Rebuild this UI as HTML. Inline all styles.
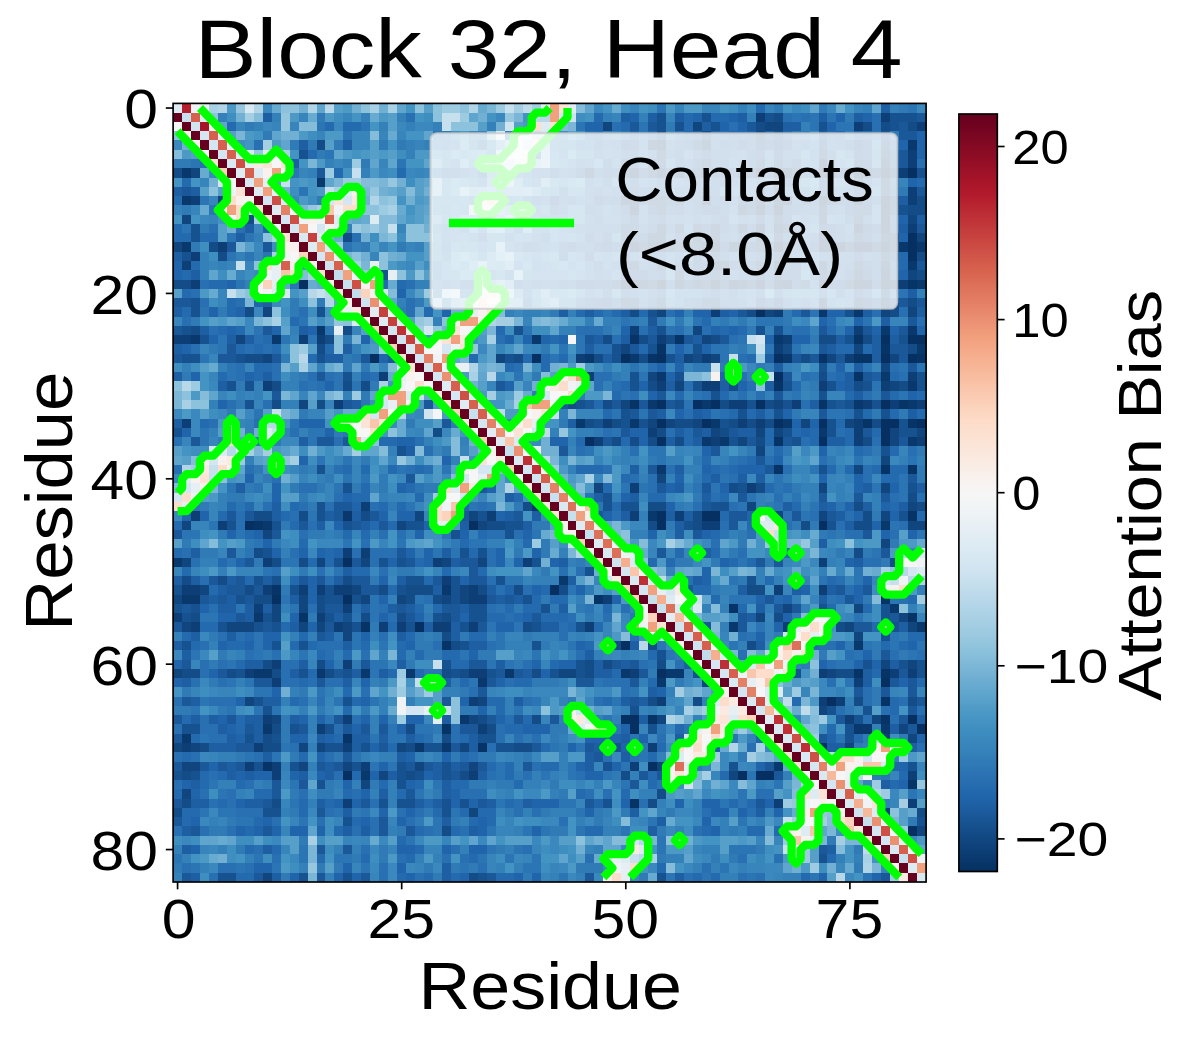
<!DOCTYPE html>
<html><head><meta charset="utf-8"><title>Block 32, Head 4</title>
<style>
html,body{margin:0;padding:0;background:#fff}
svg{display:block}
text{font-family:"Liberation Sans",sans-serif;fill:#000}
</style></head><body>
<svg width="1189" height="1038" viewBox="0 0 1189 1038">
<defs>
<linearGradient id="cb" x1="0" y1="0" x2="0" y2="1"><stop offset="0.0000" stop-color="#67001f"/><stop offset="0.0156" stop-color="#700320"/><stop offset="0.0312" stop-color="#7c0722"/><stop offset="0.0469" stop-color="#870a24"/><stop offset="0.0625" stop-color="#930e26"/><stop offset="0.0781" stop-color="#9f1228"/><stop offset="0.0938" stop-color="#ab162a"/><stop offset="0.1094" stop-color="#b41c2d"/><stop offset="0.1250" stop-color="#ba2832"/><stop offset="0.1406" stop-color="#bf3338"/><stop offset="0.1562" stop-color="#c53e3d"/><stop offset="0.1719" stop-color="#cb4942"/><stop offset="0.1875" stop-color="#d05548"/><stop offset="0.2031" stop-color="#d6604d"/><stop offset="0.2188" stop-color="#db6b55"/><stop offset="0.2344" stop-color="#df765e"/><stop offset="0.2500" stop-color="#e48066"/><stop offset="0.2656" stop-color="#e98b6e"/><stop offset="0.2812" stop-color="#ee9677"/><stop offset="0.2969" stop-color="#f2a17f"/><stop offset="0.3125" stop-color="#f5aa89"/><stop offset="0.3281" stop-color="#f6b394"/><stop offset="0.3438" stop-color="#f8bb9e"/><stop offset="0.3594" stop-color="#f9c4a9"/><stop offset="0.3750" stop-color="#fbccb4"/><stop offset="0.3906" stop-color="#fcd5bf"/><stop offset="0.4062" stop-color="#fddcc9"/><stop offset="0.4219" stop-color="#fce0d0"/><stop offset="0.4375" stop-color="#fbe5d8"/><stop offset="0.4531" stop-color="#fae9df"/><stop offset="0.4688" stop-color="#f9eee7"/><stop offset="0.4844" stop-color="#f8f2ef"/><stop offset="0.5000" stop-color="#f7f6f6"/><stop offset="0.5156" stop-color="#f2f5f6"/><stop offset="0.5312" stop-color="#ecf2f5"/><stop offset="0.5469" stop-color="#e6eff4"/><stop offset="0.5625" stop-color="#e0ecf3"/><stop offset="0.5781" stop-color="#dae9f2"/><stop offset="0.5938" stop-color="#d4e6f1"/><stop offset="0.6094" stop-color="#cce2ef"/><stop offset="0.6250" stop-color="#c2ddec"/><stop offset="0.6406" stop-color="#b8d8e9"/><stop offset="0.6562" stop-color="#aed3e6"/><stop offset="0.6719" stop-color="#a5cee3"/><stop offset="0.6875" stop-color="#9bc9e0"/><stop offset="0.7031" stop-color="#90c4dd"/><stop offset="0.7188" stop-color="#84bcd9"/><stop offset="0.7344" stop-color="#78b4d5"/><stop offset="0.7500" stop-color="#6bacd1"/><stop offset="0.7656" stop-color="#5fa5cd"/><stop offset="0.7812" stop-color="#529dc8"/><stop offset="0.7969" stop-color="#4695c4"/><stop offset="0.8125" stop-color="#3f8ec0"/><stop offset="0.8281" stop-color="#3a87bd"/><stop offset="0.8438" stop-color="#3480b9"/><stop offset="0.8594" stop-color="#2f79b5"/><stop offset="0.8750" stop-color="#2a71b2"/><stop offset="0.8906" stop-color="#246aae"/><stop offset="0.9062" stop-color="#1f63a8"/><stop offset="0.9219" stop-color="#1b5a9c"/><stop offset="0.9375" stop-color="#175290"/><stop offset="0.9531" stop-color="#124984"/><stop offset="0.9688" stop-color="#0e4179"/><stop offset="0.9844" stop-color="#09386d"/><stop offset="1.0000" stop-color="#053061"/></linearGradient>
<clipPath id="axclip"><rect x="173.1" y="103.4" width="753.0" height="778.6"/></clipPath>
</defs>
<rect width="1189" height="1038" fill="#ffffff"/>
<g transform="translate(173.10,103.40) scale(8.96429,9.26905)" shape-rendering="crispEdges">
<path fill="#053061" d="M65 7h1v1h-1zM67 7h1v1h-1zM72 7h1v1h-1zM76 7h1v1h-1zM79 7h1v1h-1zM82 7h1v1h-1zM59 10h1v1h-1zM72 10h1v1h-1zM79 10h1v1h-1zM67 11h1v1h-1zM79 11h1v1h-1zM79 12h1v1h-1zM79 13h1v1h-1zM82 14h1v1h-1zM60 15h1v1h-1zM67 15h1v1h-1zM72 15h1v1h-1zM79 15h1v1h-1zM82 15h1v1h-1zM82 16h1v1h-1zM67 17h1v1h-1zM14 19h1v1h-1zM50 19h2v1h-2zM54 19h1v1h-1zM60 19h1v1h-1zM72 19h1v1h-1zM76 19h1v1h-1zM79 19h1v1h-1zM65 22h1v1h-1zM79 25h1v1h-1zM82 25h2v1h-2zM22 27h1v1h-1zM40 27h1v1h-1zM50 27h1v1h-1zM54 27h1v1h-1zM67 27h1v1h-1zM79 27h1v1h-1zM82 27h1v1h-1zM67 29h1v1h-1zM54 32h1v1h-1zM58 32h1v1h-1zM60 32h1v1h-1zM65 32h1v1h-1zM79 32h1v1h-1zM54 34h1v1h-1zM59 34h1v1h-1zM67 34h1v1h-1zM72 34h1v1h-1zM79 34h2v1h-2zM83 34h1v1h-1zM79 35h1v1h-1zM46 36h1v1h-1zM54 36h1v1h-1zM72 36h1v1h-1zM79 36h1v1h-1zM54 44h1v1h-1zM59 44h2v1h-2zM8 45h1v1h-1zM33 45h1v1h-1zM54 45h1v1h-1zM72 45h1v1h-1zM19 49h1v1h-1zM42 52h1v1h-1zM11 53h1v1h-1zM19 53h1v1h-1zM27 56h1v1h-1zM50 58h1v1h-1zM54 61h1v1h-1zM79 62h1v1h-1zM73 64h1v1h-1zM50 66h2v1h-2zM82 66h1v1h-1zM51 67h1v1h-1zM83 67h1v1h-1zM53 71h1v1h-1zM19 72h1v1h-1zM63 72h1v1h-1zM65 72h2v1h-2zM82 78h1v1h-1z"/>
<path fill="#073467" d="M72 6h1v1h-1zM51 7h1v1h-1zM51 10h1v1h-1zM68 10h1v1h-1zM51 11h1v1h-1zM65 11h1v1h-1zM65 13h1v1h-1zM76 13h1v1h-1zM72 14h1v1h-1zM51 15h1v1h-1zM54 15h1v1h-1zM63 15h1v1h-1zM73 15h2v1h-2zM76 15h2v1h-2zM60 17h1v1h-1zM79 18h1v1h-1zM62 19h1v1h-1zM65 19h1v1h-1zM68 19h1v1h-1zM77 19h1v1h-1zM82 19h1v1h-1zM51 25h1v1h-1zM56 25h1v1h-1zM76 25h1v1h-1zM54 26h1v1h-1zM79 26h1v1h-1zM53 27h1v1h-1zM72 27h1v1h-1zM76 27h2v1h-2zM83 27h1v1h-1zM76 29h1v1h-1zM67 30h1v1h-1zM51 32h1v1h-1zM72 32h1v1h-1zM81 32h1v1h-1zM77 34h1v1h-1zM82 34h1v1h-1zM67 36h1v1h-1zM67 39h1v1h-1zM79 39h1v1h-1zM82 39h1v1h-1zM82 44h1v1h-1zM9 45h1v1h-1zM11 52h1v1h-1zM47 53h1v1h-1zM79 53h1v1h-1zM62 54h1v1h-1zM14 55h1v1h-1zM82 55h1v1h-1zM21 56h1v1h-1zM30 58h1v1h-1zM76 61h1v1h-1zM79 61h1v1h-1zM79 64h1v1h-1zM53 66h1v1h-1zM79 66h1v1h-1zM30 67h1v1h-1zM19 68h1v1h-1zM34 69h1v1h-1zM72 69h1v1h-1zM10 71h1v1h-1zM82 73h1v1h-1zM51 75h1v1h-1z"/>
<path fill="#09386d" d="M54 4h1v1h-1zM59 4h1v1h-1zM82 4h1v1h-1zM1 7h1v1h-1zM54 7h1v1h-1zM59 7h1v1h-1zM68 7h1v1h-1zM16 8h1v1h-1zM1 10h1v1h-1zM50 10h1v1h-1zM67 10h1v1h-1zM76 10h1v1h-1zM67 13h1v1h-1zM58 14h1v1h-1zM1 15h1v1h-1zM53 15h1v1h-1zM59 15h1v1h-1zM62 15h1v1h-1zM81 15h1v1h-1zM83 15h1v1h-1zM79 17h1v1h-1zM82 17h1v1h-1zM56 19h1v1h-1zM63 19h1v1h-1zM67 19h1v1h-1zM83 19h1v1h-1zM72 22h1v1h-1zM76 22h1v1h-1zM16 24h1v1h-1zM79 24h1v1h-1zM82 24h1v1h-1zM2 25h1v1h-1zM11 25h1v1h-1zM40 25h1v1h-1zM67 25h1v1h-1zM83 26h1v1h-1zM46 27h1v1h-1zM51 27h1v1h-1zM68 27h1v1h-1zM54 29h1v1h-1zM79 29h1v1h-1zM82 30h1v1h-1zM53 32h1v1h-1zM59 32h1v1h-1zM76 32h1v1h-1zM82 32h1v1h-1zM45 34h1v1h-1zM51 34h1v1h-1zM60 34h1v1h-1zM68 34h1v1h-1zM72 35h1v1h-1zM59 36h1v1h-1zM61 36h1v1h-1zM82 36h1v1h-1zM54 39h1v1h-1zM40 43h1v1h-1zM19 44h1v1h-1zM53 44h1v1h-1zM10 45h1v1h-1zM79 45h1v1h-1zM0 49h1v1h-1zM43 51h1v1h-1zM30 52h1v1h-1zM1 53h2v1h-2zM80 54h1v1h-1zM9 55h1v1h-1zM62 56h1v1h-1zM83 56h1v1h-1zM76 58h1v1h-1zM9 61h2v1h-2zM16 61h1v1h-1zM21 61h1v1h-1zM26 61h1v1h-1zM37 61h1v1h-1zM50 61h1v1h-1zM55 61h2v1h-2zM34 62h1v1h-1zM54 62h1v1h-1zM32 66h1v1h-1zM10 67h1v1h-1zM76 67h2v1h-2zM79 67h1v1h-1zM1 68h1v1h-1zM27 69h1v1h-1zM30 69h1v1h-1zM67 71h1v1h-1zM21 72h1v1h-1z"/>
<path fill="#0d3f76" d="M65 1h1v1h-1zM79 1h1v1h-1zM76 2h1v1h-1zM83 2h1v1h-1zM53 4h1v1h-1zM82 5h1v1h-1zM79 6h1v1h-1zM82 6h1v1h-1zM46 7h1v1h-1zM56 7h1v1h-1zM63 7h1v1h-1zM73 7h1v1h-1zM77 7h1v1h-1zM81 7h1v1h-1zM82 9h1v1h-1zM2 10h1v1h-1zM65 10h1v1h-1zM82 10h1v1h-1zM63 11h1v1h-1zM72 11h1v1h-1zM72 12h1v1h-1zM54 13h1v1h-1zM60 13h1v1h-1zM63 13h1v1h-1zM82 13h1v1h-1zM53 14h2v1h-2zM60 14h1v1h-1zM65 14h1v1h-1zM79 14h1v1h-1zM5 15h1v1h-1zM55 15h1v1h-1zM2 16h1v1h-1zM1 17h1v1h-1zM61 17h1v1h-1zM72 17h1v1h-1zM76 18h1v1h-1zM2 19h1v1h-1zM52 19h1v1h-1zM58 19h1v1h-1zM80 19h2v1h-2zM72 21h1v1h-1zM79 21h1v1h-1zM60 22h1v1h-1zM67 22h1v1h-1zM51 24h1v1h-1zM76 24h1v1h-1zM0 25h2v1h-2zM14 25h1v1h-1zM16 25h1v1h-1zM54 25h1v1h-1zM68 25h1v1h-1zM67 26h1v1h-1zM45 27h1v1h-1zM59 27h1v1h-1zM75 27h1v1h-1zM23 29h1v1h-1zM46 29h1v1h-1zM82 29h1v1h-1zM10 30h1v1h-1zM54 30h1v1h-1zM59 30h2v1h-2zM72 30h1v1h-1zM79 30h1v1h-1zM18 32h1v1h-1zM62 32h2v1h-2zM69 32h1v1h-1zM77 32h1v1h-1zM80 32h1v1h-1zM83 32h1v1h-1zM1 34h1v1h-1zM48 34h1v1h-1zM63 34h1v1h-1zM65 34h1v1h-1zM76 34h1v1h-1zM53 35h1v1h-1zM76 35h1v1h-1zM47 36h1v1h-1zM60 36h1v1h-1zM76 36h1v1h-1zM83 36h1v1h-1zM51 41h1v1h-1zM64 41h1v1h-1zM21 43h1v1h-1zM2 44h1v1h-1zM35 44h1v1h-1zM51 44h1v1h-1zM56 44h1v1h-1zM5 45h1v1h-1zM59 45h2v1h-2zM19 48h1v1h-1zM21 48h1v1h-1zM10 49h1v1h-1zM29 49h1v1h-1zM39 49h1v1h-1zM72 49h1v1h-1zM30 51h1v1h-1zM1 52h2v1h-2zM10 52h1v1h-1zM14 52h1v1h-1zM16 52h1v1h-1zM18 52h2v1h-2zM33 52h1v1h-1zM67 52h1v1h-1zM72 52h1v1h-1zM33 53h2v1h-2zM48 53h1v1h-1zM9 54h1v1h-1zM19 54h1v1h-1zM0 55h1v1h-1zM16 55h1v1h-1zM2 56h1v1h-1zM18 56h1v1h-1zM23 56h1v1h-1zM25 56h1v1h-1zM29 56h2v1h-2zM33 56h1v1h-1zM46 56h1v1h-1zM68 56h1v1h-1zM11 60h1v1h-1zM19 60h1v1h-1zM8 61h1v1h-1zM33 61h2v1h-2zM51 61h1v1h-1zM72 61h1v1h-1zM80 61h1v1h-1zM82 61h1v1h-1zM11 62h1v1h-1zM76 62h1v1h-1zM33 64h1v1h-1zM54 64h1v1h-1zM72 64h1v1h-1zM74 64h1v1h-1zM10 66h1v1h-1zM19 66h1v1h-1zM75 66h1v1h-1zM16 67h1v1h-1zM34 67h1v1h-1zM79 68h1v1h-1zM1 69h1v1h-1zM9 69h1v1h-1zM19 69h1v1h-1zM53 69h1v1h-1zM8 71h1v1h-1zM11 71h1v1h-1zM21 71h1v1h-1zM51 71h1v1h-1zM11 72h1v1h-1zM33 72h1v1h-1zM82 72h1v1h-1zM19 75h1v1h-1zM67 75h1v1h-1zM82 75h1v1h-1zM79 76h1v1h-1z"/>
<path fill="#10457e" d="M48 2h1v1h-1zM58 2h1v1h-1zM66 2h2v1h-2zM54 5h1v1h-1zM72 5h1v1h-1zM79 5h1v1h-1zM59 6h1v1h-1zM2 7h1v1h-1zM50 7h1v1h-1zM53 7h1v1h-1zM60 7h1v1h-1zM64 7h1v1h-1zM69 7h1v1h-1zM76 8h1v1h-1zM79 8h1v1h-1zM65 9h1v1h-1zM67 9h1v1h-1zM79 9h1v1h-1zM5 10h1v1h-1zM53 10h2v1h-2zM56 10h1v1h-1zM73 10h1v1h-1zM54 11h1v1h-1zM1 12h1v1h-1zM67 12h1v1h-1zM76 12h1v1h-1zM82 12h1v1h-1zM56 13h1v1h-1zM58 13h1v1h-1zM68 13h1v1h-1zM67 14h1v1h-1zM76 14h1v1h-1zM80 14h1v1h-1zM83 14h1v1h-1zM0 15h1v1h-1zM52 15h1v1h-1zM56 15h3v1h-3zM65 15h1v1h-1zM75 15h1v1h-1zM78 15h1v1h-1zM80 15h1v1h-1zM79 16h1v1h-1zM51 17h1v1h-1zM54 17h1v1h-1zM65 17h1v1h-1zM76 17h1v1h-1zM56 18h1v1h-1zM67 18h1v1h-1zM72 18h1v1h-1zM82 18h1v1h-1zM53 19h1v1h-1zM59 19h1v1h-1zM64 19h1v1h-1zM75 19h1v1h-1zM50 21h1v1h-1zM76 21h1v1h-1zM10 22h1v1h-1zM54 22h1v1h-1zM66 22h1v1h-1zM79 22h1v1h-1zM82 22h1v1h-1zM58 24h1v1h-1zM7 25h1v1h-1zM59 25h1v1h-1zM50 26h1v1h-1zM76 26h1v1h-1zM10 27h1v1h-1zM36 27h1v1h-1zM57 27h1v1h-1zM60 27h1v1h-1zM73 27h1v1h-1zM80 27h1v1h-1zM79 28h1v1h-1zM53 29h1v1h-1zM56 30h1v1h-1zM80 30h1v1h-1zM14 32h1v1h-1zM50 32h1v1h-1zM67 32h1v1h-1zM53 34h1v1h-1zM55 34h1v1h-1zM58 34h1v1h-1zM70 34h1v1h-1zM75 34h1v1h-1zM60 35h1v1h-1zM65 35h1v1h-1zM67 35h1v1h-1zM80 35h1v1h-1zM83 35h1v1h-1zM63 36h1v1h-1zM80 36h1v1h-1zM65 37h1v1h-1zM79 38h1v1h-1zM76 39h1v1h-1zM54 40h1v1h-1zM47 41h1v1h-1zM72 41h1v1h-1zM79 41h1v1h-1zM64 43h1v1h-1zM82 43h1v1h-1zM27 44h1v1h-1zM33 44h1v1h-1zM67 44h1v1h-1zM72 44h1v1h-1zM79 44h1v1h-1zM1 45h1v1h-1zM25 45h1v1h-1zM34 45h1v1h-1zM82 45h2v1h-2zM10 46h1v1h-1zM79 47h1v1h-1zM1 49h1v1h-1zM16 49h1v1h-1zM21 49h1v1h-1zM30 49h1v1h-1zM34 49h1v1h-1zM3 52h1v1h-1zM20 52h1v1h-1zM32 52h1v1h-1zM0 53h1v1h-1zM14 53h1v1h-1zM21 53h1v1h-1zM25 53h1v1h-1zM30 53h1v1h-1zM32 53h1v1h-1zM11 54h1v1h-1zM14 54h1v1h-1zM68 54h1v1h-1zM76 54h1v1h-1zM11 55h1v1h-1zM65 55h1v1h-1zM81 55h1v1h-1zM1 56h1v1h-1zM6 56h3v1h-3zM14 56h1v1h-1zM16 56h1v1h-1zM19 56h1v1h-1zM75 56h1v1h-1zM82 56h1v1h-1zM19 57h1v1h-1zM76 57h1v1h-1zM79 60h1v1h-1zM82 60h1v1h-1zM0 61h1v1h-1zM43 61h2v1h-2zM73 61h1v1h-1zM59 62h1v1h-1zM8 64h1v1h-1zM34 64h1v1h-1zM72 65h1v1h-1zM11 66h1v1h-1zM33 66h1v1h-1zM54 66h1v1h-1zM78 66h1v1h-1zM81 67h1v1h-1zM82 68h1v1h-1zM0 69h1v1h-1zM2 69h1v1h-1zM14 69h1v1h-1zM16 69h1v1h-1zM25 69h1v1h-1zM32 69h1v1h-1zM75 69h1v1h-1zM1 71h2v1h-2zM14 71h1v1h-1zM19 71h1v1h-1zM27 71h1v1h-1zM33 71h1v1h-1zM54 71h1v1h-1zM23 72h1v1h-1zM62 72h1v1h-1zM21 73h1v1h-1zM1 74h1v1h-1zM33 76h1v1h-1zM83 78h1v1h-1zM10 83h1v1h-1z"/>
<path fill="#134c87" d="M67 1h1v1h-1zM65 2h1v1h-1zM77 2h1v1h-1zM79 2h1v1h-1zM82 2h1v1h-1zM59 3h1v1h-1zM65 3h1v1h-1zM16 4h1v1h-1zM58 4h1v1h-1zM65 4h1v1h-1zM67 4h1v1h-1zM72 4h1v1h-1zM76 4h1v1h-1zM79 4h1v1h-1zM50 6h1v1h-1zM53 6h2v1h-2zM65 6h1v1h-1zM67 6h1v1h-1zM76 6h1v1h-1zM0 7h1v1h-1zM58 7h1v1h-1zM61 7h1v1h-1zM78 7h1v1h-1zM80 7h1v1h-1zM63 10h2v1h-2zM80 10h1v1h-1zM83 10h1v1h-1zM64 11h1v1h-1zM76 11h2v1h-2zM80 11h1v1h-1zM82 11h2v1h-2zM8 12h1v1h-1zM51 12h1v1h-1zM50 13h2v1h-2zM72 13h1v1h-1zM77 13h1v1h-1zM19 14h1v1h-1zM50 14h2v1h-2zM4 15h1v1h-1zM64 15h1v1h-1zM68 15h1v1h-1zM5 16h1v1h-1zM58 16h1v1h-1zM60 16h1v1h-1zM83 16h1v1h-1zM50 17h1v1h-1zM60 18h1v1h-1zM65 18h1v1h-1zM77 18h1v1h-1zM83 18h1v1h-1zM0 19h2v1h-2zM49 19h1v1h-1zM57 19h1v1h-1zM61 19h1v1h-1zM70 19h1v1h-1zM79 20h1v1h-1zM51 21h1v1h-1zM54 21h1v1h-1zM59 21h2v1h-2zM67 21h1v1h-1zM77 21h1v1h-1zM82 21h1v1h-1zM8 22h1v1h-1zM51 22h1v1h-1zM64 22h1v1h-1zM80 22h1v1h-1zM2 24h1v1h-1zM19 24h1v1h-1zM17 25h1v1h-1zM48 25h1v1h-1zM52 25h1v1h-1zM55 25h1v1h-1zM60 25h1v1h-1zM72 25h2v1h-2zM77 25h1v1h-1zM16 26h1v1h-1zM68 26h1v1h-1zM82 26h1v1h-1zM8 27h2v1h-2zM38 27h1v1h-1zM47 27h1v1h-1zM52 27h1v1h-1zM58 27h1v1h-1zM70 27h1v1h-1zM72 29h1v1h-1zM11 30h1v1h-1zM19 30h1v1h-1zM21 30h1v1h-1zM53 30h1v1h-1zM62 30h1v1h-1zM76 30h1v1h-1zM81 30h1v1h-1zM11 32h1v1h-1zM16 32h1v1h-1zM44 32h1v1h-1zM48 32h1v1h-1zM61 32h1v1h-1zM66 32h1v1h-1zM46 34h1v1h-1zM49 34h1v1h-1zM56 34h2v1h-2zM62 34h1v1h-1zM64 34h1v1h-1zM66 34h1v1h-1zM78 34h1v1h-1zM29 35h1v1h-1zM54 35h1v1h-1zM61 35h1v1h-1zM49 36h1v1h-1zM51 36h1v1h-1zM53 36h1v1h-1zM56 36h1v1h-1zM65 36h1v1h-1zM77 36h1v1h-1zM62 41h1v1h-1zM65 41h1v1h-1zM82 42h1v1h-1zM39 43h1v1h-1zM53 43h2v1h-2zM76 43h1v1h-1zM83 43h1v1h-1zM9 44h2v1h-2zM14 44h1v1h-1zM21 44h1v1h-1zM58 44h1v1h-1zM77 44h1v1h-1zM35 45h2v1h-2zM53 45h1v1h-1zM58 45h1v1h-1zM70 45h1v1h-1zM76 45h2v1h-2zM9 48h1v1h-1zM76 48h1v1h-1zM11 49h1v1h-1zM14 49h1v1h-1zM80 49h1v1h-1zM1 51h1v1h-1zM5 51h1v1h-1zM19 51h1v1h-1zM8 52h1v1h-1zM23 52h1v1h-1zM26 52h3v1h-3zM34 52h1v1h-1zM38 52h1v1h-1zM43 52h1v1h-1zM64 52h2v1h-2zM9 53h2v1h-2zM16 53h1v1h-1zM26 53h1v1h-1zM29 53h1v1h-1zM16 54h1v1h-1zM2 55h1v1h-1zM21 55h1v1h-1zM25 55h1v1h-1zM30 55h1v1h-1zM67 55h1v1h-1zM39 56h1v1h-1zM74 56h1v1h-1zM30 57h1v1h-1zM31 58h1v1h-1zM49 58h1v1h-1zM53 58h1v1h-1zM64 58h1v1h-1zM10 60h1v1h-1zM16 60h1v1h-1zM46 60h1v1h-1zM48 60h1v1h-1zM54 60h1v1h-1zM1 61h2v1h-2zM6 61h1v1h-1zM11 61h1v1h-1zM17 61h1v1h-1zM30 61h1v1h-1zM32 61h1v1h-1zM40 61h1v1h-1zM46 61h1v1h-1zM74 61h2v1h-2zM53 64h1v1h-1zM58 64h1v1h-1zM76 64h1v1h-1zM82 64h1v1h-1zM34 66h1v1h-1zM40 66h1v1h-1zM11 67h1v1h-1zM26 67h1v1h-1zM35 67h1v1h-1zM10 68h1v1h-1zM30 68h1v1h-1zM3 69h1v1h-1zM10 69h2v1h-2zM26 69h1v1h-1zM38 69h2v1h-2zM1 72h1v1h-1zM26 72h1v1h-1zM32 72h1v1h-1zM50 72h1v1h-1zM54 74h1v1h-1zM1 75h1v1h-1zM11 75h1v1h-1zM53 75h1v1h-1zM0 76h1v1h-1zM83 76h1v1h-1zM30 78h1v1h-1zM33 83h1v1h-1z"/>
<path fill="#175290" d="M54 1h1v1h-1zM59 1h1v1h-1zM66 1h1v1h-1zM80 1h3v1h-3zM54 2h1v1h-1zM56 2h1v1h-1zM60 2h1v1h-1zM72 2h1v1h-1zM80 2h1v1h-1zM54 3h1v1h-1zM67 3h1v1h-1zM50 4h1v1h-1zM14 5h1v1h-1zM67 5h1v1h-1zM76 5h1v1h-1zM77 6h1v1h-1zM62 7h1v1h-1zM74 7h2v1h-2zM83 7h1v1h-1zM67 8h1v1h-1zM42 10h1v1h-1zM47 10h1v1h-1zM52 10h1v1h-1zM55 10h1v1h-1zM70 10h1v1h-1zM74 10h2v1h-2zM77 10h1v1h-1zM53 11h1v1h-1zM59 11h2v1h-2zM75 11h1v1h-1zM81 11h1v1h-1zM65 12h1v1h-1zM2 13h1v1h-1zM59 13h1v1h-1zM73 13h1v1h-1zM2 14h1v1h-1zM52 14h1v1h-1zM77 14h1v1h-1zM48 15h1v1h-1zM50 15h1v1h-1zM61 15h1v1h-1zM66 15h1v1h-1zM1 16h1v1h-1zM63 16h1v1h-1zM67 16h2v1h-2zM58 17h2v1h-2zM77 17h1v1h-1zM23 18h1v1h-1zM51 18h2v1h-2zM59 18h1v1h-1zM45 19h2v1h-2zM73 19h2v1h-2zM2 21h1v1h-1zM48 21h1v1h-1zM65 21h1v1h-1zM80 21h1v1h-1zM2 22h1v1h-1zM16 22h1v1h-1zM53 22h1v1h-1zM75 22h1v1h-1zM1 24h1v1h-1zM38 24h1v1h-1zM54 24h1v1h-1zM65 24h1v1h-1zM67 24h1v1h-1zM3 25h1v1h-1zM75 25h1v1h-1zM81 25h1v1h-1zM49 26h1v1h-1zM53 26h1v1h-1zM58 26h1v1h-1zM1 27h2v1h-2zM7 27h1v1h-1zM16 27h1v1h-1zM37 27h1v1h-1zM49 27h1v1h-1zM55 27h1v1h-1zM72 28h1v1h-1zM19 29h1v1h-1zM51 29h1v1h-1zM56 29h1v1h-1zM83 29h1v1h-1zM6 30h1v1h-1zM8 30h1v1h-1zM51 30h1v1h-1zM58 30h1v1h-1zM68 30h1v1h-1zM73 30h1v1h-1zM77 30h1v1h-1zM83 30h1v1h-1zM60 31h1v1h-1zM72 31h1v1h-1zM8 32h1v1h-1zM45 32h1v1h-1zM56 32h1v1h-1zM64 32h1v1h-1zM68 32h1v1h-1zM73 32h1v1h-1zM75 32h1v1h-1zM78 32h1v1h-1zM50 33h1v1h-1zM63 33h1v1h-1zM67 33h1v1h-1zM76 33h1v1h-1zM79 33h1v1h-1zM47 34h1v1h-1zM50 34h1v1h-1zM52 34h1v1h-1zM61 34h1v1h-1zM73 34h1v1h-1zM81 34h1v1h-1zM0 35h1v1h-1zM68 35h1v1h-1zM73 35h1v1h-1zM81 35h2v1h-2zM62 36h1v1h-1zM69 36h1v1h-1zM25 37h1v1h-1zM79 37h1v1h-1zM16 39h1v1h-1zM72 39h1v1h-1zM19 41h1v1h-1zM63 41h1v1h-1zM82 41h1v1h-1zM48 42h1v1h-1zM16 43h1v1h-1zM48 43h1v1h-1zM50 43h2v1h-2zM60 43h2v1h-2zM16 44h1v1h-1zM34 44h1v1h-1zM81 44h1v1h-1zM6 45h1v1h-1zM11 45h1v1h-1zM19 45h1v1h-1zM26 45h2v1h-2zM37 45h2v1h-2zM57 45h1v1h-1zM73 45h1v1h-1zM31 46h1v1h-1zM37 46h1v1h-1zM10 48h1v1h-1zM32 48h1v1h-1zM34 48h1v1h-1zM18 49h1v1h-1zM23 49h1v1h-1zM25 49h1v1h-1zM40 49h1v1h-1zM46 50h1v1h-1zM9 51h1v1h-1zM11 51h1v1h-1zM26 51h2v1h-2zM31 51h1v1h-1zM36 51h1v1h-1zM64 51h1v1h-1zM0 52h1v1h-1zM13 52h1v1h-1zM17 52h1v1h-1zM25 52h1v1h-1zM31 52h1v1h-1zM7 53h1v1h-1zM17 53h2v1h-2zM20 53h1v1h-1zM31 53h1v1h-1zM39 53h1v1h-1zM0 54h1v1h-1zM2 54h1v1h-1zM33 54h2v1h-2zM41 54h1v1h-1zM72 54h1v1h-1zM79 54h1v1h-1zM1 55h1v1h-1zM10 55h1v1h-1zM17 55h1v1h-1zM19 55h1v1h-1zM29 55h1v1h-1zM33 55h2v1h-2zM79 55h1v1h-1zM5 56h1v1h-1zM9 56h1v1h-1zM11 56h1v1h-1zM20 56h1v1h-1zM26 56h1v1h-1zM32 56h1v1h-1zM40 56h1v1h-1zM45 56h1v1h-1zM80 56h1v1h-1zM79 57h1v1h-1zM1 58h1v1h-1zM11 58h1v1h-1zM14 58h1v1h-1zM32 58h1v1h-1zM40 58h1v1h-1zM54 59h1v1h-1zM30 60h1v1h-1zM45 60h1v1h-1zM77 60h1v1h-1zM81 60h1v1h-1zM83 60h1v1h-1zM7 61h1v1h-1zM14 61h1v1h-1zM19 61h1v1h-1zM31 61h1v1h-1zM35 61h1v1h-1zM42 61h1v1h-1zM45 61h1v1h-1zM58 61h1v1h-1zM69 61h1v1h-1zM83 61h1v1h-1zM9 64h1v1h-1zM19 64h1v1h-1zM10 65h1v1h-1zM51 65h1v1h-1zM73 65h1v1h-1zM77 65h1v1h-1zM76 66h1v1h-1zM1 67h2v1h-2zM13 67h1v1h-1zM17 67h1v1h-1zM53 67h1v1h-1zM75 67h1v1h-1zM8 68h1v1h-1zM11 68h1v1h-1zM34 68h2v1h-2zM75 68h1v1h-1zM17 69h2v1h-2zM21 69h1v1h-1zM28 69h2v1h-2zM36 69h2v1h-2zM49 69h1v1h-1zM9 71h1v1h-1zM13 71h1v1h-1zM20 71h1v1h-1zM25 71h1v1h-1zM30 71h1v1h-1zM48 71h1v1h-1zM62 71h1v1h-1zM82 71h1v1h-1zM0 72h1v1h-1zM2 72h1v1h-1zM25 72h1v1h-1zM27 72h1v1h-1zM30 72h1v1h-1zM16 73h1v1h-1zM25 73h1v1h-1zM23 75h1v1h-1zM25 75h2v1h-2zM30 75h1v1h-1zM32 75h1v1h-1zM48 75h1v1h-1zM10 76h2v1h-2zM30 76h1v1h-1zM19 77h1v1h-1zM83 77h1v1h-1zM72 81h1v1h-1zM5 83h2v1h-2zM14 83h1v1h-1zM19 83h1v1h-1zM34 83h1v1h-1zM54 83h1v1h-1z"/>
<path fill="#1a5899" d="M83 1h1v1h-1zM51 2h1v1h-1zM53 2h1v1h-1zM64 2h1v1h-1zM81 2h1v1h-1zM79 3h1v1h-1zM81 3h2v1h-2zM51 4h1v1h-1zM63 4h1v1h-1zM66 4h1v1h-1zM68 4h1v1h-1zM77 4h1v1h-1zM59 5h1v1h-1zM65 5h1v1h-1zM77 5h1v1h-1zM81 5h1v1h-1zM51 6h1v1h-1zM58 6h1v1h-1zM69 6h1v1h-1zM81 6h1v1h-1zM16 7h1v1h-1zM45 7h1v1h-1zM48 7h1v1h-1zM52 7h1v1h-1zM55 7h1v1h-1zM66 7h1v1h-1zM68 8h1v1h-1zM72 8h1v1h-1zM1 9h1v1h-1zM51 9h1v1h-1zM72 9h1v1h-1zM76 9h2v1h-2zM83 9h1v1h-1zM61 10h1v1h-1zM50 11h1v1h-1zM56 11h1v1h-1zM66 11h1v1h-1zM68 11h1v1h-1zM54 12h1v1h-1zM61 12h1v1h-1zM68 12h1v1h-1zM53 13h1v1h-1zM61 13h1v1h-1zM64 13h1v1h-1zM69 13h1v1h-1zM78 13h1v1h-1zM83 13h1v1h-1zM46 14h1v1h-1zM48 14h1v1h-1zM56 14h1v1h-1zM59 14h1v1h-1zM63 14h1v1h-1zM69 14h1v1h-1zM73 14h1v1h-1zM6 15h1v1h-1zM10 15h1v1h-1zM44 15h1v1h-1zM47 15h1v1h-1zM69 15h1v1h-1zM71 15h1v1h-1zM46 16h1v1h-1zM50 16h1v1h-1zM76 16h1v1h-1zM80 16h1v1h-1zM62 17h1v1h-1zM68 17h2v1h-2zM83 17h1v1h-1zM50 18h1v1h-1zM54 18h1v1h-1zM58 18h1v1h-1zM68 18h2v1h-2zM73 18h1v1h-1zM75 18h1v1h-1zM47 19h2v1h-2zM66 19h1v1h-1zM69 19h1v1h-1zM78 19h1v1h-1zM76 20h1v1h-1zM0 21h2v1h-2zM47 21h1v1h-1zM81 21h1v1h-1zM83 21h1v1h-1zM63 22h1v1h-1zM70 22h1v1h-1zM53 23h1v1h-1zM82 23h1v1h-1zM0 24h1v1h-1zM10 24h1v1h-1zM72 24h1v1h-1zM77 24h1v1h-1zM81 24h1v1h-1zM46 25h1v1h-1zM53 25h1v1h-1zM57 25h1v1h-1zM61 25h1v1h-1zM6 26h1v1h-1zM51 26h1v1h-1zM72 26h1v1h-1zM80 26h2v1h-2zM0 27h1v1h-1zM5 27h2v1h-2zM11 27h1v1h-1zM21 27h1v1h-1zM24 27h1v1h-1zM69 27h1v1h-1zM71 27h1v1h-1zM74 27h1v1h-1zM81 27h1v1h-1zM82 28h1v1h-1zM16 29h1v1h-1zM68 29h1v1h-1zM77 29h1v1h-1zM36 30h1v1h-1zM11 31h1v1h-1zM54 31h1v1h-1zM67 31h1v1h-1zM79 31h1v1h-1zM19 32h1v1h-1zM28 32h1v1h-1zM43 32h1v1h-1zM46 32h1v1h-1zM49 32h1v1h-1zM52 32h1v1h-1zM55 32h1v1h-1zM74 32h1v1h-1zM51 33h1v1h-1zM53 33h1v1h-1zM72 33h1v1h-1zM30 34h1v1h-1zM50 35h1v1h-1zM58 35h1v1h-1zM62 35h1v1h-1zM77 35h1v1h-1zM2 36h1v1h-1zM16 36h2v1h-2zM19 36h1v1h-1zM48 36h1v1h-1zM64 36h1v1h-1zM68 36h1v1h-1zM81 36h1v1h-1zM43 37h1v1h-1zM60 37h1v1h-1zM65 38h1v1h-1zM53 39h1v1h-1zM66 39h1v1h-1zM26 40h1v1h-1zM82 40h1v1h-1zM34 41h1v1h-1zM54 41h1v1h-1zM59 41h1v1h-1zM63 42h1v1h-1zM72 42h1v1h-1zM76 42h1v1h-1zM79 42h1v1h-1zM18 43h2v1h-2zM59 43h1v1h-1zM6 44h1v1h-1zM8 44h1v1h-1zM18 44h1v1h-1zM22 44h1v1h-1zM32 44h1v1h-1zM38 44h1v1h-1zM47 44h1v1h-1zM62 44h2v1h-2zM69 44h1v1h-1zM73 44h1v1h-1zM14 45h1v1h-1zM20 45h1v1h-1zM23 45h1v1h-1zM62 45h1v1h-1zM0 46h1v1h-1zM11 46h1v1h-1zM58 46h1v1h-1zM77 46h1v1h-1zM6 48h1v1h-1zM25 48h1v1h-1zM54 48h1v1h-1zM79 48h1v1h-1zM8 49h1v1h-1zM20 49h1v1h-1zM26 49h1v1h-1zM32 49h2v1h-2zM65 49h1v1h-1zM67 49h1v1h-1zM33 50h1v1h-1zM4 51h1v1h-1zM7 51h1v1h-1zM14 51h1v1h-1zM16 51h1v1h-1zM20 51h2v1h-2zM29 51h1v1h-1zM33 51h2v1h-2zM6 52h2v1h-2zM9 52h1v1h-1zM21 52h2v1h-2zM57 52h1v1h-1zM74 52h1v1h-1zM77 52h1v1h-1zM3 53h1v1h-1zM5 53h1v1h-1zM8 53h1v1h-1zM35 53h1v1h-1zM37 53h1v1h-1zM66 53h1v1h-1zM75 53h1v1h-1zM1 54h1v1h-1zM17 54h2v1h-2zM25 54h1v1h-1zM30 54h2v1h-2zM67 54h1v1h-1zM69 54h1v1h-1zM7 55h1v1h-1zM26 55h1v1h-1zM31 55h1v1h-1zM40 55h1v1h-1zM63 55h1v1h-1zM80 55h1v1h-1zM0 56h1v1h-1zM10 56h1v1h-1zM17 56h1v1h-1zM34 56h1v1h-1zM59 56h1v1h-1zM63 56h1v1h-1zM76 56h2v1h-2zM16 57h1v1h-1zM79 59h1v1h-1zM1 60h1v1h-1zM21 60h1v1h-1zM33 60h2v1h-2zM49 60h1v1h-1zM51 60h1v1h-1zM5 61h1v1h-1zM18 61h1v1h-1zM36 61h1v1h-1zM38 61h1v1h-1zM52 61h1v1h-1zM81 61h1v1h-1zM9 62h2v1h-2zM16 62h1v1h-1zM35 62h1v1h-1zM45 62h2v1h-2zM51 62h1v1h-1zM80 62h1v1h-1zM82 62h1v1h-1zM34 63h1v1h-1zM76 63h1v1h-1zM79 63h1v1h-1zM82 63h1v1h-1zM1 64h1v1h-1zM30 64h1v1h-1zM51 64h1v1h-1zM83 64h1v1h-1zM82 65h1v1h-1zM0 66h1v1h-1zM6 66h1v1h-1zM18 66h1v1h-1zM35 66h1v1h-1zM38 66h1v1h-1zM42 66h1v1h-1zM74 66h1v1h-1zM81 66h1v1h-1zM8 67h1v1h-1zM14 67h1v1h-1zM19 67h1v1h-1zM21 67h1v1h-1zM23 67h1v1h-1zM32 67h2v1h-2zM82 67h1v1h-1zM0 68h1v1h-1zM72 68h1v1h-1zM7 69h2v1h-2zM23 69h1v1h-1zM31 69h1v1h-1zM40 69h1v1h-1zM46 69h1v1h-1zM19 70h1v1h-1zM47 70h1v1h-1zM0 71h1v1h-1zM3 71h1v1h-1zM5 71h1v1h-1zM7 71h1v1h-1zM16 71h1v1h-1zM18 71h1v1h-1zM26 71h1v1h-1zM28 71h1v1h-1zM32 71h1v1h-1zM34 71h1v1h-1zM39 71h1v1h-1zM66 71h1v1h-1zM31 72h1v1h-1zM52 72h1v1h-1zM54 72h1v1h-1zM67 72h1v1h-1zM11 73h1v1h-1zM14 73h1v1h-1zM51 73h1v1h-1zM11 74h1v1h-1zM26 74h1v1h-1zM0 75h1v1h-1zM10 75h1v1h-1zM21 75h1v1h-1zM34 75h1v1h-1zM46 75h1v1h-1zM65 75h1v1h-1zM16 76h1v1h-1zM0 77h1v1h-1zM23 77h1v1h-1zM2 78h1v1h-1zM10 78h1v1h-1zM23 78h1v1h-1zM26 78h1v1h-1zM16 80h1v1h-1zM19 80h1v1h-1zM72 80h1v1h-1zM1 83h1v1h-1zM9 83h1v1h-1zM16 83h1v1h-1zM21 83h1v1h-1zM35 83h1v1h-1zM46 83h1v1h-1zM79 83h1v1h-1z"/>
<path fill="#1d5fa2" d="M79 0h1v1h-1zM10 1h1v1h-1zM50 1h1v1h-1zM53 1h1v1h-1zM56 1h1v1h-1zM63 1h1v1h-1zM72 1h1v1h-1zM76 1h1v1h-1zM59 2h1v1h-1zM68 2h2v1h-2zM72 3h1v1h-1zM14 4h1v1h-1zM19 4h1v1h-1zM57 4h1v1h-1zM61 4h1v1h-1zM75 4h1v1h-1zM56 5h1v1h-1zM64 5h1v1h-1zM80 5h1v1h-1zM13 6h1v1h-1zM48 6h1v1h-1zM56 6h1v1h-1zM61 6h1v1h-1zM64 6h1v1h-1zM80 6h1v1h-1zM42 7h1v1h-1zM49 7h1v1h-1zM57 7h1v1h-1zM70 7h2v1h-2zM51 8h1v1h-1zM58 8h1v1h-1zM0 9h1v1h-1zM2 9h1v1h-1zM53 9h2v1h-2zM58 9h2v1h-2zM48 10h2v1h-2zM58 10h1v1h-1zM60 10h1v1h-1zM71 10h1v1h-1zM81 10h1v1h-1zM46 11h1v1h-1zM55 11h1v1h-1zM58 11h1v1h-1zM61 11h1v1h-1zM69 11h1v1h-1zM47 12h1v1h-1zM50 12h1v1h-1zM53 12h1v1h-1zM60 12h1v1h-1zM75 12h1v1h-1zM83 12h1v1h-1zM8 13h1v1h-1zM74 13h1v1h-1zM80 13h2v1h-2zM7 14h1v1h-1zM74 14h1v1h-1zM39 15h1v1h-1zM43 15h1v1h-1zM49 15h1v1h-1zM0 16h1v1h-1zM43 16h1v1h-1zM53 16h1v1h-1zM61 16h1v1h-1zM65 16h1v1h-1zM47 17h1v1h-1zM56 17h1v1h-1zM63 17h2v1h-2zM66 17h1v1h-1zM78 17h1v1h-1zM2 18h1v1h-1zM53 18h1v1h-1zM78 18h1v1h-1zM80 18h1v1h-1zM43 19h1v1h-1zM55 19h1v1h-1zM54 20h1v1h-1zM60 20h1v1h-1zM82 20h1v1h-1zM10 21h1v1h-1zM46 21h1v1h-1zM53 21h1v1h-1zM58 21h1v1h-1zM78 21h1v1h-1zM0 22h1v1h-1zM43 22h1v1h-1zM46 22h1v1h-1zM50 22h1v1h-1zM61 22h1v1h-1zM77 22h1v1h-1zM83 22h1v1h-1zM79 23h1v1h-1zM3 24h1v1h-1zM14 24h1v1h-1zM53 24h1v1h-1zM6 25h1v1h-1zM8 25h1v1h-1zM47 25h1v1h-1zM50 25h1v1h-1zM58 25h1v1h-1zM74 25h1v1h-1zM78 25h1v1h-1zM80 25h1v1h-1zM0 26h1v1h-1zM19 26h1v1h-1zM46 26h1v1h-1zM73 26h1v1h-1zM78 26h1v1h-1zM17 27h2v1h-2zM48 27h1v1h-1zM56 27h1v1h-1zM66 27h1v1h-1zM78 27h1v1h-1zM67 28h1v1h-1zM76 28h1v1h-1zM0 29h1v1h-1zM10 29h1v1h-1zM75 29h1v1h-1zM78 29h1v1h-1zM5 30h1v1h-1zM55 30h1v1h-1zM61 30h1v1h-1zM66 30h1v1h-1zM75 30h1v1h-1zM76 31h1v1h-1zM20 32h1v1h-1zM71 32h1v1h-1zM54 33h1v1h-1zM58 33h1v1h-1zM65 33h1v1h-1zM82 33h1v1h-1zM0 34h1v1h-1zM44 34h1v1h-1zM56 35h1v1h-1zM59 35h1v1h-1zM63 35h2v1h-2zM14 36h1v1h-1zM55 36h1v1h-1zM58 36h1v1h-1zM73 36h2v1h-2zM26 37h1v1h-1zM51 39h1v1h-1zM56 39h1v1h-1zM60 40h1v1h-1zM63 40h1v1h-1zM65 40h1v1h-1zM7 41h1v1h-1zM56 41h1v1h-1zM77 41h1v1h-1zM83 41h1v1h-1zM37 42h1v1h-1zM47 42h1v1h-1zM51 42h1v1h-1zM59 42h1v1h-1zM11 43h1v1h-1zM68 43h1v1h-1zM72 43h1v1h-1zM77 43h1v1h-1zM81 43h1v1h-1zM11 44h1v1h-1zM17 44h1v1h-1zM20 44h1v1h-1zM37 44h1v1h-1zM40 44h1v1h-1zM50 44h1v1h-1zM55 44h1v1h-1zM57 44h1v1h-1zM74 44h1v1h-1zM16 45h1v1h-1zM21 45h1v1h-1zM32 45h1v1h-1zM39 45h1v1h-1zM56 45h1v1h-1zM75 45h1v1h-1zM56 46h1v1h-1zM72 47h1v1h-1zM2 48h1v1h-1zM30 48h1v1h-1zM59 48h1v1h-1zM31 49h1v1h-1zM43 49h1v1h-1zM76 49h1v1h-1zM19 50h1v1h-1zM0 51h1v1h-1zM2 51h1v1h-1zM6 51h1v1h-1zM10 51h1v1h-1zM18 51h1v1h-1zM25 51h1v1h-1zM44 51h1v1h-1zM58 51h1v1h-1zM5 52h1v1h-1zM29 52h1v1h-1zM35 52h1v1h-1zM63 52h1v1h-1zM69 52h1v1h-1zM73 52h1v1h-1zM4 53h1v1h-1zM6 53h1v1h-1zM13 53h1v1h-1zM36 53h1v1h-1zM38 53h1v1h-1zM72 53h1v1h-1zM5 54h2v1h-2zM8 54h1v1h-1zM10 54h1v1h-1zM21 54h1v1h-1zM24 54h1v1h-1zM26 54h1v1h-1zM32 54h1v1h-1zM43 54h1v1h-1zM65 54h1v1h-1zM8 55h1v1h-1zM18 55h1v1h-1zM64 55h1v1h-1zM13 56h1v1h-1zM28 56h1v1h-1zM31 56h1v1h-1zM41 56h2v1h-2zM81 56h1v1h-1zM2 57h1v1h-1zM6 57h1v1h-1zM17 57h1v1h-1zM25 57h1v1h-1zM31 57h1v1h-1zM0 58h1v1h-1zM19 58h1v1h-1zM33 58h2v1h-2zM51 58h1v1h-1zM65 58h1v1h-1zM1 59h1v1h-1zM46 59h1v1h-1zM8 60h2v1h-2zM14 60h1v1h-1zM25 60h1v1h-1zM36 60h1v1h-1zM47 60h1v1h-1zM50 60h1v1h-1zM57 60h1v1h-1zM80 60h1v1h-1zM13 61h1v1h-1zM20 61h1v1h-1zM23 61h1v1h-1zM39 61h1v1h-1zM47 61h2v1h-2zM77 61h1v1h-1zM1 62h1v1h-1zM19 62h1v1h-1zM30 62h1v1h-1zM77 62h1v1h-1zM53 63h1v1h-1zM2 64h1v1h-1zM10 64h2v1h-2zM38 64h1v1h-1zM50 64h1v1h-1zM52 64h1v1h-1zM2 66h1v1h-1zM4 66h1v1h-1zM8 66h2v1h-2zM13 66h1v1h-1zM30 66h1v1h-1zM52 66h1v1h-1zM83 66h1v1h-1zM5 67h1v1h-1zM9 67h1v1h-1zM80 67h1v1h-1zM6 68h1v1h-1zM9 68h1v1h-1zM16 68h1v1h-1zM20 68h2v1h-2zM23 68h1v1h-1zM26 68h1v1h-1zM33 68h1v1h-1zM50 68h1v1h-1zM56 68h1v1h-1zM4 69h3v1h-3zM20 69h1v1h-1zM33 69h1v1h-1zM47 69h1v1h-1zM60 69h1v1h-1zM73 69h2v1h-2zM82 69h1v1h-1zM10 70h1v1h-1zM25 70h1v1h-1zM46 70h1v1h-1zM50 70h1v1h-1zM6 71h1v1h-1zM17 71h1v1h-1zM29 71h1v1h-1zM31 71h1v1h-1zM46 71h1v1h-1zM6 72h1v1h-1zM8 72h1v1h-1zM14 72h1v1h-1zM17 72h1v1h-1zM24 72h1v1h-1zM29 72h1v1h-1zM34 72h1v1h-1zM2 73h1v1h-1zM30 73h1v1h-1zM79 73h1v1h-1zM23 74h1v1h-1zM30 74h1v1h-1zM2 75h2v1h-2zM8 75h2v1h-2zM16 75h1v1h-1zM27 75h1v1h-1zM29 75h1v1h-1zM35 75h1v1h-1zM39 75h1v1h-1zM19 76h1v1h-1zM51 76h1v1h-1zM65 76h1v1h-1zM30 77h1v1h-1zM54 77h1v1h-1zM1 78h1v1h-1zM19 78h1v1h-1zM21 78h1v1h-1zM33 78h1v1h-1zM53 78h1v1h-1zM1 80h1v1h-1zM10 80h1v1h-1zM73 80h1v1h-1zM30 82h1v1h-1zM2 83h1v1h-1zM11 83h1v1h-1zM30 83h1v1h-1zM56 83h1v1h-1z"/>
<path fill="#2065ab" d="M51 1h1v1h-1zM58 1h1v1h-1zM62 1h1v1h-1zM74 1h1v1h-1zM77 1h1v1h-1zM46 2h2v1h-2zM61 2h1v1h-1zM63 2h1v1h-1zM73 2h1v1h-1zM58 3h1v1h-1zM64 3h1v1h-1zM66 3h1v1h-1zM83 3h1v1h-1zM47 4h1v1h-1zM56 4h1v1h-1zM62 4h1v1h-1zM64 4h1v1h-1zM81 4h1v1h-1zM83 4h1v1h-1zM50 5h2v1h-2zM58 5h1v1h-1zM60 5h2v1h-2zM73 5h1v1h-1zM83 5h1v1h-1zM60 6h1v1h-1zM68 6h1v1h-1zM30 7h2v1h-2zM34 7h1v1h-1zM47 7h1v1h-1zM48 8h1v1h-1zM54 8h1v1h-1zM60 8h1v1h-1zM77 8h1v1h-1zM82 8h1v1h-1zM47 9h1v1h-1zM52 9h1v1h-1zM60 9h1v1h-1zM44 10h1v1h-1zM57 10h1v1h-1zM66 10h1v1h-1zM69 10h1v1h-1zM78 10h1v1h-1zM42 11h1v1h-1zM47 11h1v1h-1zM70 11h2v1h-2zM73 11h1v1h-1zM58 12h1v1h-1zM77 12h1v1h-1zM80 12h2v1h-2zM10 13h1v1h-1zM46 13h4v1h-4zM52 13h1v1h-1zM55 13h1v1h-1zM62 13h1v1h-1zM34 14h1v1h-1zM41 14h1v1h-1zM57 14h1v1h-1zM61 14h1v1h-1zM68 14h1v1h-1zM71 14h1v1h-1zM78 14h1v1h-1zM81 14h1v1h-1zM40 15h1v1h-1zM45 15h2v1h-2zM54 16h1v1h-1zM69 16h2v1h-2zM73 16h1v1h-1zM78 16h1v1h-1zM0 17h1v1h-1zM53 17h1v1h-1zM73 17h1v1h-1zM75 17h1v1h-1zM80 17h1v1h-1zM0 18h1v1h-1zM47 18h1v1h-1zM61 18h1v1h-1zM63 18h2v1h-2zM66 18h1v1h-1zM81 18h1v1h-1zM6 19h1v1h-1zM38 19h1v1h-1zM40 19h1v1h-1zM44 19h1v1h-1zM25 20h1v1h-1zM48 20h1v1h-1zM50 20h1v1h-1zM62 20h1v1h-1zM74 20h1v1h-1zM9 21h1v1h-1zM49 21h1v1h-1zM57 21h1v1h-1zM62 21h1v1h-1zM66 21h1v1h-1zM4 22h1v1h-1zM7 22h1v1h-1zM30 22h1v1h-1zM56 22h1v1h-1zM58 22h2v1h-2zM62 22h1v1h-1zM73 22h2v1h-2zM72 23h1v1h-1zM76 23h1v1h-1zM6 24h1v1h-1zM11 24h1v1h-1zM15 24h1v1h-1zM50 24h1v1h-1zM60 24h1v1h-1zM62 24h1v1h-1zM75 24h1v1h-1zM78 24h1v1h-1zM80 24h1v1h-1zM83 24h1v1h-1zM4 25h1v1h-1zM21 25h1v1h-1zM37 25h1v1h-1zM39 25h1v1h-1zM41 25h1v1h-1zM43 25h1v1h-1zM66 25h1v1h-1zM69 25h2v1h-2zM1 26h1v1h-1zM56 26h1v1h-1zM59 26h1v1h-1zM23 27h1v1h-1zM54 28h1v1h-1zM56 28h1v1h-1zM74 28h1v1h-1zM2 29h1v1h-1zM8 29h1v1h-1zM55 29h1v1h-1zM61 29h1v1h-1zM17 30h1v1h-1zM37 30h1v1h-1zM52 30h1v1h-1zM63 30h1v1h-1zM74 30h1v1h-1zM53 31h1v1h-1zM82 31h1v1h-1zM5 32h1v1h-1zM56 33h1v1h-1zM59 33h1v1h-1zM68 33h1v1h-1zM14 34h3v1h-3zM69 34h1v1h-1zM71 34h1v1h-1zM1 35h1v1h-1zM17 35h1v1h-1zM51 35h2v1h-2zM70 35h1v1h-1zM25 36h2v1h-2zM42 36h2v1h-2zM52 36h1v1h-1zM59 37h1v1h-1zM72 37h1v1h-1zM14 38h1v1h-1zM30 38h1v1h-1zM67 38h1v1h-1zM59 39h1v1h-1zM63 39h3v1h-3zM8 40h1v1h-1zM56 40h1v1h-1zM72 40h1v1h-1zM76 40h1v1h-1zM11 41h1v1h-1zM25 41h1v1h-1zM35 41h1v1h-1zM55 41h1v1h-1zM61 41h1v1h-1zM76 41h1v1h-1zM80 41h1v1h-1zM11 42h1v1h-1zM19 42h1v1h-1zM50 42h1v1h-1zM20 43h1v1h-1zM32 43h1v1h-1zM55 43h1v1h-1zM73 43h1v1h-1zM75 43h1v1h-1zM79 43h1v1h-1zM1 44h1v1h-1zM3 44h1v1h-1zM23 44h1v1h-1zM25 44h2v1h-2zM36 44h1v1h-1zM48 44h1v1h-1zM64 44h1v1h-1zM76 44h1v1h-1zM80 44h1v1h-1zM18 45h1v1h-1zM28 45h1v1h-1zM78 45h1v1h-1zM6 46h1v1h-1zM9 46h1v1h-1zM27 46h1v1h-1zM32 46h1v1h-1zM39 46h1v1h-1zM53 46h1v1h-1zM59 46h1v1h-1zM79 46h1v1h-1zM82 46h1v1h-1zM10 47h1v1h-1zM11 48h1v1h-1zM14 48h1v1h-1zM16 48h1v1h-1zM18 48h1v1h-1zM26 48h1v1h-1zM28 48h1v1h-1zM36 48h1v1h-1zM40 48h1v1h-1zM7 49h1v1h-1zM24 49h1v1h-1zM28 49h1v1h-1zM36 49h1v1h-1zM38 49h1v1h-1zM42 49h1v1h-1zM61 49h1v1h-1zM75 49h1v1h-1zM59 50h1v1h-1zM15 51h1v1h-1zM23 51h1v1h-1zM32 51h1v1h-1zM59 51h1v1h-1zM77 51h1v1h-1zM15 52h1v1h-1zM37 52h1v1h-1zM40 52h1v1h-1zM45 52h1v1h-1zM70 52h1v1h-1zM76 52h1v1h-1zM15 53h1v1h-1zM23 53h1v1h-1zM49 53h1v1h-1zM65 53h1v1h-1zM68 53h1v1h-1zM76 53h1v1h-1zM3 54h1v1h-1zM5 55h2v1h-2zM13 55h1v1h-1zM23 55h1v1h-1zM27 55h1v1h-1zM32 55h1v1h-1zM39 55h1v1h-1zM68 55h1v1h-1zM15 56h1v1h-1zM36 56h2v1h-2zM67 56h1v1h-1zM10 57h2v1h-2zM21 57h1v1h-1zM65 57h1v1h-1zM5 58h1v1h-1zM8 58h1v1h-1zM10 58h1v1h-1zM26 58h1v1h-1zM45 58h1v1h-1zM74 58h1v1h-1zM82 58h1v1h-1zM33 59h1v1h-1zM77 59h1v1h-1zM0 60h1v1h-1zM17 60h1v1h-1zM40 60h1v1h-1zM43 60h2v1h-2zM72 60h1v1h-1zM76 60h1v1h-1zM78 60h1v1h-1zM4 61h1v1h-1zM41 61h1v1h-1zM0 62h1v1h-1zM21 62h1v1h-1zM36 62h1v1h-1zM81 62h1v1h-1zM11 63h1v1h-1zM54 63h1v1h-1zM7 64h1v1h-1zM21 64h1v1h-1zM32 64h1v1h-1zM34 65h1v1h-1zM5 66h1v1h-1zM14 66h1v1h-1zM16 66h1v1h-1zM21 66h1v1h-1zM23 66h1v1h-1zM26 66h2v1h-2zM36 66h1v1h-1zM6 67h1v1h-1zM20 67h1v1h-1zM25 67h1v1h-1zM39 67h3v1h-3zM50 67h1v1h-1zM7 68h1v1h-1zM13 68h2v1h-2zM17 68h1v1h-1zM46 68h4v1h-4zM52 68h1v1h-1zM65 68h1v1h-1zM73 68h1v1h-1zM83 68h1v1h-1zM22 69h1v1h-1zM44 69h1v1h-1zM50 69h1v1h-1zM16 70h1v1h-1zM26 70h1v1h-1zM30 70h1v1h-1zM4 71h1v1h-1zM23 71h1v1h-1zM45 71h1v1h-1zM49 71h1v1h-1zM65 71h1v1h-1zM80 71h2v1h-2zM7 72h1v1h-1zM9 72h2v1h-2zM13 72h1v1h-1zM16 72h1v1h-1zM22 72h1v1h-1zM28 72h1v1h-1zM46 72h2v1h-2zM1 73h1v1h-1zM19 73h1v1h-1zM26 73h1v1h-1zM81 73h1v1h-1zM2 74h1v1h-1zM21 74h1v1h-1zM31 74h1v1h-1zM7 75h1v1h-1zM18 75h1v1h-1zM20 75h1v1h-1zM31 75h1v1h-1zM33 75h1v1h-1zM40 75h3v1h-3zM47 75h1v1h-1zM50 75h1v1h-1zM56 75h1v1h-1zM59 75h2v1h-2zM66 75h1v1h-1zM23 76h1v1h-1zM26 76h1v1h-1zM46 76h1v1h-1zM60 76h2v1h-2zM63 76h1v1h-1zM67 76h1v1h-1zM2 77h1v1h-1zM10 77h1v1h-1zM21 77h1v1h-1zM25 77h1v1h-1zM34 77h1v1h-1zM59 77h1v1h-1zM7 78h1v1h-1zM9 78h1v1h-1zM11 78h1v1h-1zM13 78h2v1h-2zM16 78h1v1h-1zM34 78h1v1h-1zM40 78h1v1h-1zM60 78h1v1h-1zM2 80h1v1h-1zM25 80h2v1h-2zM30 80h1v1h-1zM33 80h2v1h-2zM9 82h2v1h-2zM19 82h1v1h-1zM25 82h1v1h-1zM13 83h1v1h-1zM18 83h1v1h-1zM20 83h1v1h-1zM26 83h1v1h-1zM32 83h1v1h-1zM38 83h1v1h-1zM40 83h1v1h-1zM72 83h1v1h-1zM78 83h1v1h-1z"/>
<path fill="#246aae" d="M65 0h1v1h-1zM47 1h1v1h-1zM57 1h1v1h-1zM60 1h2v1h-2zM6 2h1v1h-1zM17 2h1v1h-1zM19 2h2v1h-2zM50 2h1v1h-1zM57 2h1v1h-1zM51 3h1v1h-1zM53 3h1v1h-1zM57 3h1v1h-1zM60 3h1v1h-1zM62 3h2v1h-2zM68 3h1v1h-1zM74 3h1v1h-1zM76 3h1v1h-1zM34 4h1v1h-1zM49 4h1v1h-1zM60 4h1v1h-1zM70 4h1v1h-1zM74 4h1v1h-1zM80 4h1v1h-1zM15 5h1v1h-1zM47 5h1v1h-1zM53 5h1v1h-1zM55 5h1v1h-1zM62 5h1v1h-1zM68 5h2v1h-2zM45 6h1v1h-1zM57 6h1v1h-1zM63 6h1v1h-1zM73 6h1v1h-1zM18 7h1v1h-1zM25 7h1v1h-1zM44 7h1v1h-1zM1 8h1v1h-1zM46 8h1v1h-1zM61 8h3v1h-3zM65 8h1v1h-1zM83 8h1v1h-1zM43 9h1v1h-1zM46 9h1v1h-1zM49 9h2v1h-2zM56 9h1v1h-1zM66 9h1v1h-1zM80 9h1v1h-1zM0 10h1v1h-1zM40 10h1v1h-1zM43 10h1v1h-1zM46 10h1v1h-1zM62 10h1v1h-1zM49 11h1v1h-1zM57 11h1v1h-1zM74 11h1v1h-1zM46 12h1v1h-1zM56 12h1v1h-1zM63 12h1v1h-1zM70 12h1v1h-1zM0 13h1v1h-1zM38 13h1v1h-1zM45 13h1v1h-1zM0 14h2v1h-2zM3 14h2v1h-2zM47 14h1v1h-1zM62 14h1v1h-1zM64 14h1v1h-1zM70 14h1v1h-1zM75 14h1v1h-1zM70 15h1v1h-1zM56 16h1v1h-1zM59 16h1v1h-1zM64 16h1v1h-1zM66 16h1v1h-1zM72 16h1v1h-1zM74 16h2v1h-2zM77 16h1v1h-1zM81 16h1v1h-1zM2 17h1v1h-1zM49 17h1v1h-1zM52 17h1v1h-1zM57 17h1v1h-1zM74 17h1v1h-1zM81 17h1v1h-1zM1 18h1v1h-1zM48 18h1v1h-1zM71 18h1v1h-1zM74 18h1v1h-1zM4 19h2v1h-2zM23 19h1v1h-1zM25 19h1v1h-1zM32 19h2v1h-2zM41 19h2v1h-2zM1 20h1v1h-1zM51 20h1v1h-1zM53 20h1v1h-1zM59 20h1v1h-1zM65 20h1v1h-1zM67 20h1v1h-1zM72 20h1v1h-1zM77 20h1v1h-1zM6 21h1v1h-1zM39 21h1v1h-1zM45 21h1v1h-1zM61 21h1v1h-1zM63 21h1v1h-1zM68 21h1v1h-1zM70 21h1v1h-1zM1 22h1v1h-1zM6 22h1v1h-1zM28 22h1v1h-1zM45 22h1v1h-1zM47 22h1v1h-1zM49 22h1v1h-1zM52 22h1v1h-1zM69 22h1v1h-1zM13 23h1v1h-1zM59 23h1v1h-1zM5 24h1v1h-1zM7 24h1v1h-1zM36 24h1v1h-1zM61 24h1v1h-1zM63 24h1v1h-1zM73 24h1v1h-1zM10 25h1v1h-1zM42 25h1v1h-1zM7 26h1v1h-1zM9 26h1v1h-1zM11 26h1v1h-1zM17 26h1v1h-1zM52 26h1v1h-1zM74 26h2v1h-2zM77 26h1v1h-1zM15 27h1v1h-1zM33 27h1v1h-1zM39 27h1v1h-1zM41 27h1v1h-1zM43 27h1v1h-1zM64 27h1v1h-1zM9 28h2v1h-2zM37 28h1v1h-1zM41 28h1v1h-1zM5 29h1v1h-1zM9 29h1v1h-1zM21 29h1v1h-1zM74 29h1v1h-1zM80 29h1v1h-1zM50 30h1v1h-1zM69 30h1v1h-1zM49 31h1v1h-1zM56 31h1v1h-1zM61 31h1v1h-1zM75 31h1v1h-1zM80 31h1v1h-1zM83 31h1v1h-1zM47 32h1v1h-1zM48 33h1v1h-1zM62 33h1v1h-1zM64 33h1v1h-1zM77 33h1v1h-1zM80 33h1v1h-1zM83 33h1v1h-1zM3 34h1v1h-1zM74 34h1v1h-1zM57 35h1v1h-1zM66 35h1v1h-1zM69 35h1v1h-1zM71 35h1v1h-1zM75 35h1v1h-1zM78 35h1v1h-1zM23 36h2v1h-2zM45 36h1v1h-1zM50 36h1v1h-1zM57 36h1v1h-1zM66 36h1v1h-1zM71 36h1v1h-1zM75 36h1v1h-1zM67 37h1v1h-1zM76 37h1v1h-1zM80 37h1v1h-1zM59 38h1v1h-1zM64 38h1v1h-1zM19 39h1v1h-1zM21 39h1v1h-1zM24 39h1v1h-1zM27 39h1v1h-1zM45 39h3v1h-3zM60 39h1v1h-1zM62 39h1v1h-1zM73 39h1v1h-1zM75 39h1v1h-1zM78 39h1v1h-1zM80 39h2v1h-2zM50 40h1v1h-1zM59 40h1v1h-1zM79 40h2v1h-2zM21 41h1v1h-1zM26 41h1v1h-1zM48 41h1v1h-1zM66 41h1v1h-1zM20 42h2v1h-2zM27 42h1v1h-1zM38 42h1v1h-1zM53 42h2v1h-2zM61 42h1v1h-1zM6 43h1v1h-1zM8 43h1v1h-1zM13 43h1v1h-1zM23 43h1v1h-1zM25 43h1v1h-1zM49 43h1v1h-1zM69 43h1v1h-1zM80 43h1v1h-1zM5 44h1v1h-1zM12 44h1v1h-1zM61 44h1v1h-1zM83 44h1v1h-1zM0 45h1v1h-1zM13 45h1v1h-1zM22 45h1v1h-1zM24 45h1v1h-1zM64 45h1v1h-1zM8 46h1v1h-1zM19 46h1v1h-1zM21 46h1v1h-1zM34 46h1v1h-1zM60 46h1v1h-1zM14 47h1v1h-1zM32 47h1v1h-1zM39 47h1v1h-1zM0 48h1v1h-1zM17 48h1v1h-1zM33 48h1v1h-1zM56 48h1v1h-1zM60 48h1v1h-1zM68 48h1v1h-1zM5 49h1v1h-1zM15 49h1v1h-1zM17 49h1v1h-1zM27 49h1v1h-1zM53 49h1v1h-1zM55 49h1v1h-1zM62 49h1v1h-1zM64 49h1v1h-1zM1 50h1v1h-1zM20 50h2v1h-2zM30 50h1v1h-1zM34 50h1v1h-1zM8 51h1v1h-1zM13 51h1v1h-1zM28 51h1v1h-1zM66 51h1v1h-1zM73 51h1v1h-1zM4 52h1v1h-1zM24 52h1v1h-1zM41 52h1v1h-1zM58 52h2v1h-2zM40 53h1v1h-1zM42 53h2v1h-2zM60 53h1v1h-1zM67 53h1v1h-1zM82 53h1v1h-1zM27 54h1v1h-1zM29 54h1v1h-1zM37 54h1v1h-1zM39 54h2v1h-2zM48 54h1v1h-1zM63 54h1v1h-1zM73 54h1v1h-1zM77 54h1v1h-1zM35 55h2v1h-2zM38 55h1v1h-1zM41 55h3v1h-3zM3 56h2v1h-2zM12 56h1v1h-1zM24 56h1v1h-1zM44 56h1v1h-1zM47 56h1v1h-1zM78 56h1v1h-1zM1 57h1v1h-1zM8 57h1v1h-1zM14 57h1v1h-1zM26 57h1v1h-1zM33 57h2v1h-2zM82 57h2v1h-2zM2 58h1v1h-1zM6 58h2v1h-2zM13 58h1v1h-1zM15 58h1v1h-1zM21 58h1v1h-1zM25 58h1v1h-1zM46 58h1v1h-1zM71 58h1v1h-1zM79 58h1v1h-1zM81 58h1v1h-1zM16 59h1v1h-1zM19 59h1v1h-1zM25 59h1v1h-1zM27 59h1v1h-1zM30 59h2v1h-2zM53 59h1v1h-1zM7 60h1v1h-1zM31 60h2v1h-2zM42 60h1v1h-1zM15 61h1v1h-1zM24 61h1v1h-1zM27 61h1v1h-1zM49 61h1v1h-1zM78 61h1v1h-1zM14 62h1v1h-1zM32 62h1v1h-1zM38 62h2v1h-2zM53 62h1v1h-1zM83 62h1v1h-1zM19 63h1v1h-1zM13 64h1v1h-1zM20 64h1v1h-1zM35 64h2v1h-2zM48 64h1v1h-1zM69 64h1v1h-1zM80 64h1v1h-1zM19 65h1v1h-1zM36 65h1v1h-1zM80 65h1v1h-1zM1 66h1v1h-1zM7 66h1v1h-1zM39 66h1v1h-1zM7 67h1v1h-1zM37 67h2v1h-2zM56 67h1v1h-1zM73 67h1v1h-1zM2 68h1v1h-1zM18 68h1v1h-1zM27 68h1v1h-1zM32 68h1v1h-1zM76 68h1v1h-1zM24 69h1v1h-1zM41 69h1v1h-1zM54 69h1v1h-1zM1 70h1v1h-1zM14 70h1v1h-1zM32 70h1v1h-1zM53 70h1v1h-1zM35 71h1v1h-1zM37 71h1v1h-1zM41 71h2v1h-2zM3 72h1v1h-1zM5 72h1v1h-1zM20 72h1v1h-1zM37 72h1v1h-1zM53 72h1v1h-1zM61 72h1v1h-1zM81 72h1v1h-1zM3 73h1v1h-1zM7 73h1v1h-1zM23 73h1v1h-1zM27 73h1v1h-1zM31 73h2v1h-2zM38 73h1v1h-1zM53 73h1v1h-1zM80 73h1v1h-1zM0 74h1v1h-1zM9 74h2v1h-2zM19 74h1v1h-1zM25 74h1v1h-1zM45 74h1v1h-1zM50 74h1v1h-1zM5 75h1v1h-1zM14 75h1v1h-1zM17 75h1v1h-1zM28 75h1v1h-1zM37 75h1v1h-1zM62 75h1v1h-1zM64 75h1v1h-1zM1 76h2v1h-2zM14 76h1v1h-1zM29 76h1v1h-1zM32 76h1v1h-1zM34 76h2v1h-2zM1 77h1v1h-1zM9 77h1v1h-1zM20 77h1v1h-1zM33 77h1v1h-1zM35 77h1v1h-1zM8 78h1v1h-1zM18 78h1v1h-1zM27 78h1v1h-1zM31 78h1v1h-1zM46 78h2v1h-2zM59 78h1v1h-1zM64 78h2v1h-2zM67 78h1v1h-1zM25 79h1v1h-1zM8 80h1v1h-1zM11 80h1v1h-1zM27 80h1v1h-1zM16 81h1v1h-1zM21 81h1v1h-1zM26 81h1v1h-1zM33 81h1v1h-1zM73 81h1v1h-1zM54 82h1v1h-1zM7 83h2v1h-2zM25 83h1v1h-1zM28 83h1v1h-1zM31 83h1v1h-1zM36 83h2v1h-2zM58 83h1v1h-1zM60 83h1v1h-1zM70 83h1v1h-1z"/>
<path fill="#2870b1" d="M26 1h1v1h-1zM68 1h1v1h-1zM70 1h1v1h-1zM78 1h1v1h-1zM49 2h1v1h-1zM62 2h1v1h-1zM78 2h1v1h-1zM47 3h1v1h-1zM61 3h1v1h-1zM73 3h1v1h-1zM77 3h1v1h-1zM9 4h1v1h-1zM45 4h1v1h-1zM48 4h1v1h-1zM55 4h1v1h-1zM69 4h1v1h-1zM73 4h1v1h-1zM49 5h1v1h-1zM63 5h1v1h-1zM71 5h1v1h-1zM3 6h1v1h-1zM46 6h1v1h-1zM83 6h1v1h-1zM32 7h1v1h-1zM40 7h2v1h-2zM43 7h1v1h-1zM50 8h1v1h-1zM57 8h1v1h-1zM80 8h1v1h-1zM48 9h1v1h-1zM57 9h1v1h-1zM68 9h1v1h-1zM70 9h1v1h-1zM73 9h1v1h-1zM75 9h1v1h-1zM41 10h1v1h-1zM43 11h1v1h-1zM52 11h1v1h-1zM62 11h1v1h-1zM48 12h2v1h-2zM52 12h1v1h-1zM55 12h1v1h-1zM57 12h1v1h-1zM59 12h1v1h-1zM64 12h1v1h-1zM66 12h1v1h-1zM4 13h1v1h-1zM7 13h1v1h-1zM32 13h1v1h-1zM44 13h1v1h-1zM66 13h1v1h-1zM75 13h1v1h-1zM20 14h1v1h-1zM37 14h1v1h-1zM40 14h1v1h-1zM55 14h1v1h-1zM30 15h1v1h-1zM38 15h1v1h-1zM41 15h1v1h-1zM62 16h1v1h-1zM46 17h1v1h-1zM46 18h1v1h-1zM57 18h1v1h-1zM62 18h1v1h-1zM3 19h1v1h-1zM26 19h1v1h-1zM30 19h1v1h-1zM39 19h1v1h-1zM71 19h1v1h-1zM2 20h1v1h-1zM46 20h1v1h-1zM61 20h1v1h-1zM3 21h1v1h-1zM7 21h1v1h-1zM26 21h1v1h-1zM52 21h1v1h-1zM14 22h1v1h-1zM26 22h1v1h-1zM55 22h1v1h-1zM78 22h1v1h-1zM81 22h1v1h-1zM1 23h1v1h-1zM73 23h1v1h-1zM83 23h1v1h-1zM4 24h1v1h-1zM45 24h3v1h-3zM52 24h1v1h-1zM56 24h1v1h-1zM59 24h1v1h-1zM69 24h2v1h-2zM9 25h1v1h-1zM36 25h1v1h-1zM49 25h1v1h-1zM62 25h1v1h-1zM2 26h1v1h-1zM8 26h1v1h-1zM10 26h1v1h-1zM47 26h2v1h-2zM63 27h1v1h-1zM7 28h1v1h-1zM11 28h1v1h-1zM38 28h1v1h-1zM53 28h1v1h-1zM80 28h1v1h-1zM7 29h1v1h-1zM11 29h1v1h-1zM15 29h1v1h-1zM17 29h1v1h-1zM22 29h1v1h-1zM47 29h2v1h-2zM63 29h1v1h-1zM70 29h1v1h-1zM73 29h1v1h-1zM81 29h1v1h-1zM14 30h1v1h-1zM16 30h1v1h-1zM47 30h1v1h-1zM49 30h1v1h-1zM57 30h1v1h-1zM64 30h1v1h-1zM51 31h1v1h-1zM59 31h1v1h-1zM63 31h1v1h-1zM65 31h1v1h-1zM77 31h1v1h-1zM6 32h1v1h-1zM10 32h1v1h-1zM70 32h1v1h-1zM57 33h1v1h-1zM61 33h1v1h-1zM66 33h1v1h-1zM75 33h1v1h-1zM4 34h1v1h-1zM9 34h1v1h-1zM13 35h1v1h-1zM48 35h1v1h-1zM55 35h1v1h-1zM74 35h1v1h-1zM0 36h1v1h-1zM18 36h1v1h-1zM27 36h1v1h-1zM70 36h1v1h-1zM78 36h1v1h-1zM28 37h1v1h-1zM45 37h1v1h-1zM51 37h1v1h-1zM77 37h1v1h-1zM82 37h1v1h-1zM63 38h1v1h-1zM66 38h1v1h-1zM72 38h1v1h-1zM0 39h1v1h-1zM8 39h1v1h-1zM18 39h1v1h-1zM26 39h1v1h-1zM28 39h1v1h-1zM48 39h1v1h-1zM55 39h1v1h-1zM61 39h1v1h-1zM68 39h1v1h-1zM77 39h1v1h-1zM11 40h1v1h-1zM51 40h1v1h-1zM53 40h1v1h-1zM62 40h1v1h-1zM77 40h1v1h-1zM14 41h2v1h-2zM53 41h1v1h-1zM68 41h1v1h-1zM18 42h1v1h-1zM60 42h1v1h-1zM67 42h1v1h-1zM80 42h1v1h-1zM83 42h1v1h-1zM10 43h1v1h-1zM14 43h1v1h-1zM17 43h1v1h-1zM22 43h1v1h-1zM34 43h1v1h-1zM58 43h1v1h-1zM62 43h1v1h-1zM7 44h1v1h-1zM13 44h1v1h-1zM49 44h1v1h-1zM71 44h1v1h-1zM75 44h1v1h-1zM7 45h1v1h-1zM15 45h1v1h-1zM61 45h1v1h-1zM68 45h1v1h-1zM74 45h1v1h-1zM81 45h1v1h-1zM14 46h1v1h-1zM23 46h1v1h-1zM25 46h1v1h-1zM35 46h2v1h-2zM38 46h1v1h-1zM64 46h1v1h-1zM75 46h2v1h-2zM80 46h1v1h-1zM21 47h1v1h-1zM60 47h1v1h-1zM1 48h1v1h-1zM13 48h1v1h-1zM20 48h1v1h-1zM22 48h3v1h-3zM35 48h1v1h-1zM63 48h1v1h-1zM2 49h1v1h-1zM22 49h1v1h-1zM35 49h1v1h-1zM77 49h2v1h-2zM11 50h1v1h-1zM16 50h1v1h-1zM23 50h1v1h-1zM43 50h1v1h-1zM45 50h1v1h-1zM3 51h1v1h-1zM17 51h1v1h-1zM35 51h1v1h-1zM57 51h1v1h-1zM74 51h1v1h-1zM36 52h1v1h-1zM39 52h1v1h-1zM75 52h1v1h-1zM28 53h1v1h-1zM74 53h1v1h-1zM81 53h1v1h-1zM4 54h1v1h-1zM15 54h1v1h-1zM20 54h1v1h-1zM23 54h1v1h-1zM35 54h1v1h-1zM50 54h1v1h-1zM24 55h1v1h-1zM37 55h1v1h-1zM44 55h1v1h-1zM48 55h1v1h-1zM43 56h1v1h-1zM5 57h1v1h-1zM7 57h1v1h-1zM23 57h1v1h-1zM43 57h1v1h-1zM51 57h1v1h-1zM63 57h1v1h-1zM3 58h1v1h-1zM16 58h3v1h-3zM29 58h1v1h-1zM35 58h1v1h-1zM72 58h2v1h-2zM8 59h1v1h-1zM11 59h1v1h-1zM17 59h1v1h-1zM21 59h1v1h-1zM45 59h1v1h-1zM63 59h1v1h-1zM75 59h1v1h-1zM80 59h1v1h-1zM83 59h1v1h-1zM3 60h1v1h-1zM5 60h1v1h-1zM12 60h2v1h-2zM39 60h1v1h-1zM52 60h1v1h-1zM56 60h1v1h-1zM73 60h1v1h-1zM3 61h1v1h-1zM12 61h1v1h-1zM2 62h1v1h-1zM5 62h1v1h-1zM12 62h2v1h-2zM15 62h1v1h-1zM17 62h2v1h-2zM37 62h1v1h-1zM48 62h3v1h-3zM73 62h1v1h-1zM21 63h1v1h-1zM33 63h1v1h-1zM50 63h1v1h-1zM77 63h1v1h-1zM0 64h1v1h-1zM4 64h3v1h-3zM14 64h1v1h-1zM16 64h1v1h-1zM39 64h1v1h-1zM47 64h1v1h-1zM77 64h1v1h-1zM81 64h1v1h-1zM74 65h1v1h-1zM79 65h1v1h-1zM83 65h1v1h-1zM3 66h1v1h-1zM20 66h1v1h-1zM37 66h1v1h-1zM77 66h1v1h-1zM80 66h1v1h-1zM0 67h1v1h-1zM3 67h2v1h-2zM18 67h1v1h-1zM31 67h1v1h-1zM36 67h1v1h-1zM4 68h2v1h-2zM28 68h1v1h-1zM31 68h1v1h-1zM36 68h1v1h-1zM38 68h1v1h-1zM40 68h1v1h-1zM54 68h1v1h-1zM13 69h1v1h-1zM35 69h1v1h-1zM64 69h1v1h-1zM83 69h1v1h-1zM0 70h1v1h-1zM2 70h1v1h-1zM9 70h1v1h-1zM17 70h1v1h-1zM33 70h1v1h-1zM48 70h1v1h-1zM51 70h1v1h-1zM40 71h1v1h-1zM4 72h1v1h-1zM18 72h1v1h-1zM35 72h1v1h-1zM39 72h1v1h-1zM45 72h1v1h-1zM0 73h1v1h-1zM8 73h1v1h-1zM3 74h1v1h-1zM6 74h1v1h-1zM14 74h1v1h-1zM20 74h1v1h-1zM32 74h3v1h-3zM46 74h1v1h-1zM48 74h1v1h-1zM65 74h2v1h-2zM4 75h1v1h-1zM6 75h1v1h-1zM22 75h1v1h-1zM38 75h1v1h-1zM52 75h1v1h-1zM7 76h3v1h-3zM17 76h1v1h-1zM25 76h1v1h-1zM27 76h1v1h-1zM38 76h1v1h-1zM40 76h1v1h-1zM59 76h1v1h-1zM64 76h1v1h-1zM11 77h1v1h-1zM16 77h1v1h-1zM22 77h1v1h-1zM26 77h1v1h-1zM43 77h1v1h-1zM0 78h1v1h-1zM3 78h1v1h-1zM6 78h1v1h-1zM20 78h1v1h-1zM22 78h1v1h-1zM28 78h1v1h-1zM32 78h1v1h-1zM58 78h1v1h-1zM9 80h1v1h-1zM21 80h1v1h-1zM31 80h1v1h-1zM39 80h1v1h-1zM11 81h1v1h-1zM25 81h1v1h-1zM30 81h1v1h-1zM32 81h1v1h-1zM46 81h1v1h-1zM63 81h1v1h-1zM67 81h1v1h-1zM1 82h1v1h-1zM5 82h2v1h-2zM8 82h1v1h-1zM23 82h1v1h-1zM34 82h1v1h-1zM59 82h1v1h-1zM4 83h1v1h-1zM23 83h1v1h-1zM27 83h1v1h-1zM57 83h1v1h-1zM63 83h1v1h-1zM65 83h1v1h-1z"/>
<path fill="#2c75b4" d="M54 0h1v1h-1zM82 0h1v1h-1zM69 1h1v1h-1zM71 1h1v1h-1zM73 1h1v1h-1zM16 2h1v1h-1zM21 2h1v1h-1zM45 2h1v1h-1zM52 2h1v1h-1zM71 2h1v1h-1zM74 2h2v1h-2zM19 3h1v1h-1zM29 3h1v1h-1zM46 3h1v1h-1zM56 3h1v1h-1zM30 4h1v1h-1zM46 4h1v1h-1zM52 4h1v1h-1zM71 4h1v1h-1zM17 5h1v1h-1zM48 5h1v1h-1zM75 5h1v1h-1zM2 6h1v1h-1zM25 6h1v1h-1zM49 6h1v1h-1zM62 6h1v1h-1zM66 6h1v1h-1zM71 6h1v1h-1zM13 7h1v1h-1zM29 7h1v1h-1zM47 8h1v1h-1zM53 8h1v1h-1zM69 8h1v1h-1zM14 9h1v1h-1zM63 9h1v1h-1zM74 9h1v1h-1zM3 10h1v1h-1zM39 10h1v1h-1zM45 10h1v1h-1zM4 11h1v1h-1zM48 11h1v1h-1zM42 12h1v1h-1zM71 12h1v1h-1zM74 12h1v1h-1zM1 13h1v1h-1zM30 13h1v1h-1zM40 13h2v1h-2zM43 13h1v1h-1zM57 13h1v1h-1zM70 13h1v1h-1zM6 14h1v1h-1zM8 14h1v1h-1zM30 14h1v1h-1zM33 14h1v1h-1zM45 14h1v1h-1zM19 15h1v1h-1zM42 15h1v1h-1zM6 16h1v1h-1zM8 16h1v1h-1zM10 16h1v1h-1zM30 16h1v1h-1zM48 16h1v1h-1zM51 16h1v1h-1zM55 16h1v1h-1zM29 17h1v1h-1zM40 17h1v1h-1zM48 17h1v1h-1zM71 17h1v1h-1zM29 18h1v1h-1zM37 18h1v1h-1zM7 19h1v1h-1zM13 19h1v1h-1zM39 20h1v1h-1zM52 20h1v1h-1zM56 20h3v1h-3zM63 20h1v1h-1zM81 20h1v1h-1zM56 21h1v1h-1zM69 21h1v1h-1zM73 21h1v1h-1zM3 22h1v1h-1zM48 22h1v1h-1zM71 22h1v1h-1zM14 23h1v1h-1zM50 23h1v1h-1zM58 23h1v1h-1zM65 23h3v1h-3zM77 23h1v1h-1zM9 24h1v1h-1zM17 24h1v1h-1zM39 24h1v1h-1zM55 24h1v1h-1zM68 24h1v1h-1zM5 25h1v1h-1zM12 25h1v1h-1zM15 25h1v1h-1zM45 25h1v1h-1zM63 25h1v1h-1zM5 26h1v1h-1zM43 26h1v1h-1zM45 26h1v1h-1zM57 26h1v1h-1zM60 26h2v1h-2zM66 26h1v1h-1zM69 26h1v1h-1zM3 27h1v1h-1zM20 27h1v1h-1zM42 27h1v1h-1zM61 27h1v1h-1zM6 28h1v1h-1zM51 28h1v1h-1zM77 28h1v1h-1zM81 28h1v1h-1zM83 28h1v1h-1zM6 29h1v1h-1zM18 29h1v1h-1zM38 29h1v1h-1zM52 29h1v1h-1zM71 29h1v1h-1zM15 30h1v1h-1zM18 30h1v1h-1zM20 30h1v1h-1zM78 30h1v1h-1zM50 31h1v1h-1zM58 31h1v1h-1zM69 31h1v1h-1zM81 31h1v1h-1zM21 32h1v1h-1zM57 32h1v1h-1zM9 33h1v1h-1zM49 33h1v1h-1zM52 33h1v1h-1zM60 33h1v1h-1zM73 33h2v1h-2zM13 34h1v1h-1zM3 35h1v1h-1zM15 35h2v1h-2zM19 35h1v1h-1zM49 35h1v1h-1zM3 36h1v1h-1zM15 36h1v1h-1zM46 37h1v1h-1zM53 37h2v1h-2zM16 38h1v1h-1zM19 38h1v1h-1zM54 38h1v1h-1zM62 38h1v1h-1zM76 38h1v1h-1zM82 38h1v1h-1zM25 39h1v1h-1zM30 39h1v1h-1zM71 39h1v1h-1zM19 40h1v1h-1zM21 40h1v1h-1zM61 40h1v1h-1zM67 40h1v1h-1zM81 40h1v1h-1zM6 41h1v1h-1zM9 41h1v1h-1zM18 41h1v1h-1zM27 41h1v1h-1zM50 41h1v1h-1zM52 41h1v1h-1zM58 41h1v1h-1zM60 41h1v1h-1zM67 41h1v1h-1zM78 41h1v1h-1zM81 41h1v1h-1zM46 42h1v1h-1zM64 42h1v1h-1zM69 42h1v1h-1zM81 42h1v1h-1zM2 43h1v1h-1zM7 43h1v1h-1zM26 43h1v1h-1zM33 43h1v1h-1zM35 43h1v1h-1zM47 43h1v1h-1zM63 43h1v1h-1zM67 43h1v1h-1zM71 43h1v1h-1zM74 43h1v1h-1zM15 44h1v1h-1zM68 44h1v1h-1zM70 44h1v1h-1zM4 45h1v1h-1zM80 45h1v1h-1zM1 46h2v1h-2zM7 46h1v1h-1zM30 46h1v1h-1zM40 46h1v1h-1zM61 46h1v1h-1zM73 46h1v1h-1zM83 46h1v1h-1zM9 47h1v1h-1zM19 47h1v1h-1zM25 47h1v1h-1zM33 47h2v1h-2zM8 48h1v1h-1zM29 48h1v1h-1zM31 48h1v1h-1zM78 48h1v1h-1zM6 49h1v1h-1zM12 49h2v1h-2zM63 49h1v1h-1zM10 50h1v1h-1zM18 50h1v1h-1zM76 50h1v1h-1zM37 51h2v1h-2zM62 51h1v1h-1zM72 51h1v1h-1zM76 51h1v1h-1zM44 52h1v1h-1zM12 53h1v1h-1zM22 53h1v1h-1zM27 53h1v1h-1zM62 53h3v1h-3zM73 53h1v1h-1zM80 53h1v1h-1zM7 54h1v1h-1zM13 54h1v1h-1zM22 54h1v1h-1zM36 54h1v1h-1zM46 54h1v1h-1zM3 55h2v1h-2zM20 55h1v1h-1zM22 55h1v1h-1zM51 55h1v1h-1zM76 55h1v1h-1zM35 56h1v1h-1zM38 56h1v1h-1zM65 56h1v1h-1zM9 57h1v1h-1zM18 57h1v1h-1zM20 57h1v1h-1zM36 57h1v1h-1zM64 57h1v1h-1zM80 57h1v1h-1zM9 58h1v1h-1zM20 58h1v1h-1zM23 58h1v1h-1zM36 58h1v1h-1zM44 58h1v1h-1zM54 58h1v1h-1zM62 58h1v1h-1zM77 58h1v1h-1zM80 58h1v1h-1zM83 58h1v1h-1zM2 59h1v1h-1zM9 59h1v1h-1zM14 59h1v1h-1zM32 59h1v1h-1zM40 59h1v1h-1zM55 59h1v1h-1zM76 59h1v1h-1zM82 59h1v1h-1zM6 60h1v1h-1zM22 60h2v1h-2zM35 60h1v1h-1zM37 60h1v1h-1zM53 60h1v1h-1zM74 60h2v1h-2zM22 61h1v1h-1zM28 61h2v1h-2zM6 62h1v1h-1zM8 62h1v1h-1zM33 62h1v1h-1zM47 62h1v1h-1zM75 62h1v1h-1zM9 63h2v1h-2zM16 63h1v1h-1zM51 63h1v1h-1zM3 64h1v1h-1zM18 64h1v1h-1zM22 64h1v1h-1zM40 64h1v1h-1zM49 64h1v1h-1zM2 65h1v1h-1zM6 65h1v1h-1zM9 65h1v1h-1zM11 65h1v1h-1zM38 65h1v1h-1zM17 66h1v1h-1zM48 66h1v1h-1zM24 67h1v1h-1zM27 67h2v1h-2zM49 67h1v1h-1zM54 67h1v1h-1zM57 67h1v1h-1zM3 68h1v1h-1zM22 68h1v1h-1zM24 68h2v1h-2zM51 68h1v1h-1zM62 68h1v1h-1zM74 68h1v1h-1zM12 69h1v1h-1zM42 69h1v1h-1zM45 69h1v1h-1zM52 69h1v1h-1zM8 70h1v1h-1zM11 70h1v1h-1zM20 70h1v1h-1zM52 70h1v1h-1zM22 71h1v1h-1zM24 71h1v1h-1zM36 71h1v1h-1zM44 71h1v1h-1zM50 71h1v1h-1zM36 72h1v1h-1zM41 72h1v1h-1zM44 72h1v1h-1zM48 72h1v1h-1zM64 72h1v1h-1zM79 72h1v1h-1zM4 73h1v1h-1zM13 73h1v1h-1zM29 73h1v1h-1zM50 73h1v1h-1zM54 73h1v1h-1zM67 73h1v1h-1zM5 74h1v1h-1zM27 74h1v1h-1zM63 74h1v1h-1zM82 74h1v1h-1zM13 75h1v1h-1zM36 75h1v1h-1zM43 75h2v1h-2zM61 75h1v1h-1zM63 75h1v1h-1zM3 76h1v1h-1zM5 76h2v1h-2zM18 76h1v1h-1zM21 76h1v1h-1zM31 76h1v1h-1zM45 76h1v1h-1zM7 77h2v1h-2zM14 77h1v1h-1zM29 77h1v1h-1zM53 77h1v1h-1zM63 77h1v1h-1zM29 78h1v1h-1zM35 78h1v1h-1zM39 78h1v1h-1zM41 78h1v1h-1zM45 78h1v1h-1zM50 78h1v1h-1zM26 79h1v1h-1zM54 79h1v1h-1zM14 80h1v1h-1zM35 80h1v1h-1zM38 80h1v1h-1zM54 80h1v1h-1zM62 80h3v1h-3zM0 81h1v1h-1zM9 81h1v1h-1zM14 81h1v1h-1zM18 81h2v1h-2zM34 81h1v1h-1zM37 81h1v1h-1zM40 81h1v1h-1zM2 82h1v1h-1zM7 82h1v1h-1zM11 82h1v1h-1zM21 82h1v1h-1zM32 82h1v1h-1zM39 82h2v1h-2zM61 82h1v1h-1zM43 83h1v1h-1zM55 83h1v1h-1zM59 83h1v1h-1zM64 83h1v1h-1zM71 83h1v1h-1zM77 83h1v1h-1z"/>
<path fill="#307ab6" d="M67 0h1v1h-1zM72 0h1v1h-1zM81 0h1v1h-1zM16 1h1v1h-1zM75 1h1v1h-1zM8 2h1v1h-1zM55 2h1v1h-1zM10 3h1v1h-1zM30 3h1v1h-1zM50 3h1v1h-1zM52 3h1v1h-1zM69 3h2v1h-2zM78 3h1v1h-1zM80 3h1v1h-1zM13 4h1v1h-1zM15 4h1v1h-1zM18 4h1v1h-1zM23 4h1v1h-1zM25 4h1v1h-1zM29 4h1v1h-1zM31 4h1v1h-1zM16 5h1v1h-1zM40 5h1v1h-1zM43 5h1v1h-1zM52 5h1v1h-1zM57 5h1v1h-1zM66 5h1v1h-1zM0 6h2v1h-2zM21 6h1v1h-1zM31 6h1v1h-1zM44 6h1v1h-1zM52 6h1v1h-1zM70 6h1v1h-1zM74 6h1v1h-1zM33 7h1v1h-1zM39 7h1v1h-1zM34 8h1v1h-1zM40 8h1v1h-1zM52 8h1v1h-1zM56 8h1v1h-1zM64 8h1v1h-1zM66 8h1v1h-1zM75 8h1v1h-1zM78 8h1v1h-1zM62 9h1v1h-1zM64 9h1v1h-1zM81 9h1v1h-1zM16 10h1v1h-1zM1 11h1v1h-1zM40 11h1v1h-1zM78 11h1v1h-1zM41 12h1v1h-1zM43 12h1v1h-1zM62 12h1v1h-1zM69 12h1v1h-1zM73 12h1v1h-1zM78 12h1v1h-1zM3 13h1v1h-1zM31 13h1v1h-1zM34 13h1v1h-1zM31 14h1v1h-1zM39 14h1v1h-1zM43 14h1v1h-1zM2 15h1v1h-1zM21 15h1v1h-1zM25 15h1v1h-1zM34 15h1v1h-1zM37 15h1v1h-1zM40 16h1v1h-1zM45 16h1v1h-1zM47 16h1v1h-1zM52 16h1v1h-1zM71 16h1v1h-1zM38 17h1v1h-1zM41 17h1v1h-1zM44 17h1v1h-1zM70 17h1v1h-1zM40 18h4v1h-4zM45 18h1v1h-1zM49 18h1v1h-1zM29 19h1v1h-1zM31 19h1v1h-1zM33 20h1v1h-1zM47 20h1v1h-1zM64 20h1v1h-1zM75 20h1v1h-1zM80 20h1v1h-1zM13 21h1v1h-1zM16 21h1v1h-1zM27 21h1v1h-1zM64 21h1v1h-1zM71 21h1v1h-1zM75 21h1v1h-1zM5 22h1v1h-1zM13 22h1v1h-1zM25 22h1v1h-1zM42 22h1v1h-1zM68 22h1v1h-1zM2 23h1v1h-1zM51 23h1v1h-1zM54 23h1v1h-1zM56 23h1v1h-1zM61 23h1v1h-1zM63 23h1v1h-1zM68 23h1v1h-1zM48 24h1v1h-1zM64 24h1v1h-1zM74 24h1v1h-1zM19 25h1v1h-1zM71 25h1v1h-1zM4 26h1v1h-1zM41 26h1v1h-1zM55 26h1v1h-1zM63 26h1v1h-1zM12 27h1v1h-1zM19 27h1v1h-1zM19 28h1v1h-1zM21 28h1v1h-1zM58 28h2v1h-2zM61 28h1v1h-1zM65 28h1v1h-1zM73 28h1v1h-1zM1 29h1v1h-1zM14 29h1v1h-1zM40 29h1v1h-1zM49 29h1v1h-1zM7 30h1v1h-1zM22 30h1v1h-1zM71 30h1v1h-1zM21 31h1v1h-1zM40 31h1v1h-1zM45 31h1v1h-1zM62 31h1v1h-1zM68 31h1v1h-1zM78 31h1v1h-1zM7 32h1v1h-1zM6 33h1v1h-1zM14 33h1v1h-1zM69 33h1v1h-1zM78 33h1v1h-1zM81 33h1v1h-1zM26 34h1v1h-1zM31 34h1v1h-1zM43 34h1v1h-1zM18 35h1v1h-1zM47 35h1v1h-1zM5 36h1v1h-1zM9 36h1v1h-1zM11 36h1v1h-1zM30 37h1v1h-1zM64 37h1v1h-1zM66 37h1v1h-1zM68 37h1v1h-1zM78 37h1v1h-1zM83 37h1v1h-1zM21 38h1v1h-1zM53 38h1v1h-1zM58 38h1v1h-1zM73 38h1v1h-1zM9 39h1v1h-1zM14 39h1v1h-1zM83 39h1v1h-1zM10 40h1v1h-1zM17 40h1v1h-1zM23 40h1v1h-1zM58 40h1v1h-1zM83 40h1v1h-1zM8 41h1v1h-1zM13 41h1v1h-1zM16 41h1v1h-1zM20 41h1v1h-1zM23 41h1v1h-1zM28 41h2v1h-2zM69 41h1v1h-1zM6 42h2v1h-2zM14 42h1v1h-1zM58 42h1v1h-1zM3 43h1v1h-1zM15 43h1v1h-1zM24 43h1v1h-1zM38 43h1v1h-1zM56 43h1v1h-1zM66 43h1v1h-1zM78 44h1v1h-1zM12 45h1v1h-1zM40 45h2v1h-2zM55 45h1v1h-1zM69 45h1v1h-1zM71 45h1v1h-1zM5 46h1v1h-1zM15 46h2v1h-2zM18 46h1v1h-1zM63 46h1v1h-1zM72 46h1v1h-1zM74 46h1v1h-1zM1 47h1v1h-1zM8 47h1v1h-1zM11 47h1v1h-1zM31 47h1v1h-1zM41 47h1v1h-1zM63 47h1v1h-1zM80 47h1v1h-1zM3 48h2v1h-2zM27 48h1v1h-1zM38 48h1v1h-1zM41 48h1v1h-1zM62 48h1v1h-1zM74 48h1v1h-1zM77 48h1v1h-1zM9 49h1v1h-1zM45 49h1v1h-1zM56 49h2v1h-2zM60 49h1v1h-1zM66 49h1v1h-1zM79 49h1v1h-1zM14 50h1v1h-1zM25 50h2v1h-2zM41 50h1v1h-1zM22 51h1v1h-1zM63 51h1v1h-1zM12 52h1v1h-1zM46 52h1v1h-1zM60 52h1v1h-1zM41 53h1v1h-1zM77 53h1v1h-1zM38 54h1v1h-1zM42 54h1v1h-1zM45 54h1v1h-1zM15 55h1v1h-1zM28 55h1v1h-1zM46 55h1v1h-1zM69 55h1v1h-1zM22 56h1v1h-1zM4 57h1v1h-1zM27 57h1v1h-1zM29 57h1v1h-1zM32 57h1v1h-1zM39 57h1v1h-1zM67 57h1v1h-1zM81 57h1v1h-1zM27 58h2v1h-2zM41 58h1v1h-1zM75 58h1v1h-1zM78 58h1v1h-1zM5 59h1v1h-1zM10 59h1v1h-1zM28 59h2v1h-2zM34 59h2v1h-2zM56 59h1v1h-1zM72 59h1v1h-1zM78 59h1v1h-1zM81 59h1v1h-1zM4 60h1v1h-1zM18 60h1v1h-1zM20 60h1v1h-1zM26 60h1v1h-1zM38 60h1v1h-1zM70 60h1v1h-1zM53 61h1v1h-1zM4 62h1v1h-1zM23 62h1v1h-1zM31 62h1v1h-1zM40 62h3v1h-3zM56 62h1v1h-1zM1 63h1v1h-1zM14 63h1v1h-1zM32 63h1v1h-1zM78 63h1v1h-1zM44 64h1v1h-1zM78 64h1v1h-1zM0 65h2v1h-2zM5 65h1v1h-1zM16 65h1v1h-1zM21 65h1v1h-1zM32 65h2v1h-2zM75 65h1v1h-1zM12 66h1v1h-1zM12 67h1v1h-1zM29 67h1v1h-1zM42 67h2v1h-2zM12 68h1v1h-1zM39 68h1v1h-1zM42 68h1v1h-1zM77 68h1v1h-1zM81 68h1v1h-1zM43 69h1v1h-1zM76 69h1v1h-1zM7 70h1v1h-1zM13 70h1v1h-1zM18 70h1v1h-1zM31 70h1v1h-1zM34 70h2v1h-2zM39 70h1v1h-1zM63 70h1v1h-1zM58 71h1v1h-1zM38 72h1v1h-1zM49 72h1v1h-1zM78 72h1v1h-1zM10 73h1v1h-1zM17 73h1v1h-1zM22 73h1v1h-1zM33 73h2v1h-2zM36 73h2v1h-2zM42 73h1v1h-1zM13 74h1v1h-1zM16 74h2v1h-2zM29 74h1v1h-1zM43 74h1v1h-1zM13 76h1v1h-1zM20 76h1v1h-1zM28 76h1v1h-1zM37 76h1v1h-1zM41 76h1v1h-1zM47 76h1v1h-1zM50 76h1v1h-1zM55 76h1v1h-1zM6 77h1v1h-1zM27 77h1v1h-1zM31 77h1v1h-1zM47 77h1v1h-1zM82 77h1v1h-1zM4 78h2v1h-2zM25 78h1v1h-1zM42 78h2v1h-2zM54 78h1v1h-1zM62 78h1v1h-1zM14 79h1v1h-1zM73 79h1v1h-1zM7 80h1v1h-1zM23 80h1v1h-1zM36 80h1v1h-1zM65 80h1v1h-1zM76 80h1v1h-1zM20 81h1v1h-1zM23 81h1v1h-1zM54 81h1v1h-1zM60 81h1v1h-1zM62 81h1v1h-1zM0 82h1v1h-1zM16 82h1v1h-1zM18 82h1v1h-1zM28 82h1v1h-1zM31 82h1v1h-1zM33 82h1v1h-1zM45 82h3v1h-3zM76 82h1v1h-1zM12 83h1v1h-1zM29 83h1v1h-1zM39 83h1v1h-1zM52 83h1v1h-1z"/>
<path fill="#3480b9" d="M63 0h1v1h-1zM77 0h1v1h-1zM80 0h1v1h-1zM5 1h1v1h-1zM11 1h1v1h-1zM21 1h1v1h-1zM25 1h1v1h-1zM48 1h1v1h-1zM52 1h1v1h-1zM64 1h1v1h-1zM9 2h1v1h-1zM23 2h1v1h-1zM26 2h1v1h-1zM29 2h1v1h-1zM35 2h1v1h-1zM70 2h1v1h-1zM37 3h1v1h-1zM48 3h1v1h-1zM75 3h1v1h-1zM26 4h1v1h-1zM28 4h1v1h-1zM33 4h1v1h-1zM43 4h2v1h-2zM26 5h1v1h-1zM45 5h2v1h-2zM78 5h1v1h-1zM17 6h1v1h-1zM19 6h1v1h-1zM55 6h1v1h-1zM15 7h1v1h-1zM21 7h1v1h-1zM55 8h1v1h-1zM74 8h1v1h-1zM55 9h1v1h-1zM69 9h1v1h-1zM33 10h1v1h-1zM0 11h1v1h-1zM30 11h1v1h-1zM39 12h1v1h-1zM19 13h1v1h-1zM29 13h1v1h-1zM71 13h1v1h-1zM9 14h1v1h-1zM32 14h1v1h-1zM38 14h1v1h-1zM42 14h1v1h-1zM44 14h1v1h-1zM49 14h1v1h-1zM66 14h1v1h-1zM20 15h1v1h-1zM27 15h1v1h-1zM3 16h1v1h-1zM7 16h1v1h-1zM49 16h1v1h-1zM57 16h1v1h-1zM3 17h1v1h-1zM5 17h1v1h-1zM42 17h1v1h-1zM55 17h1v1h-1zM3 18h1v1h-1zM35 18h1v1h-1zM39 18h1v1h-1zM8 19h1v1h-1zM27 19h2v1h-2zM29 20h1v1h-1zM32 20h1v1h-1zM68 20h1v1h-1zM83 20h1v1h-1zM25 21h1v1h-1zM55 21h1v1h-1zM74 21h1v1h-1zM37 22h1v1h-1zM39 22h2v1h-2zM44 22h1v1h-1zM57 22h1v1h-1zM29 23h1v1h-1zM46 23h1v1h-1zM48 23h2v1h-2zM52 23h1v1h-1zM60 23h1v1h-1zM13 24h1v1h-1zM43 24h2v1h-2zM57 24h1v1h-1zM66 24h1v1h-1zM71 24h1v1h-1zM20 26h1v1h-1zM62 26h1v1h-1zM1 28h1v1h-1zM5 28h1v1h-1zM16 28h1v1h-1zM48 28h1v1h-1zM50 28h1v1h-1zM52 28h1v1h-1zM66 28h1v1h-1zM68 28h1v1h-1zM13 29h1v1h-1zM20 29h1v1h-1zM50 29h1v1h-1zM64 29h1v1h-1zM9 30h1v1h-1zM12 30h2v1h-2zM48 30h1v1h-1zM70 30h1v1h-1zM7 31h1v1h-1zM9 31h1v1h-1zM19 31h1v1h-1zM64 31h1v1h-1zM66 31h1v1h-1zM71 31h1v1h-1zM4 32h1v1h-1zM12 32h2v1h-2zM43 33h1v1h-1zM8 34h1v1h-1zM37 34h1v1h-1zM4 35h1v1h-1zM8 35h1v1h-1zM12 35h1v1h-1zM14 35h1v1h-1zM42 35h1v1h-1zM45 35h2v1h-2zM28 36h1v1h-1zM32 36h1v1h-1zM44 36h1v1h-1zM24 37h1v1h-1zM50 37h1v1h-1zM74 37h1v1h-1zM8 38h1v1h-1zM31 38h1v1h-1zM50 38h1v1h-1zM55 38h2v1h-2zM61 38h1v1h-1zM78 38h1v1h-1zM81 38h1v1h-1zM83 38h1v1h-1zM15 39h1v1h-1zM17 39h1v1h-1zM44 39h1v1h-1zM57 39h2v1h-2zM74 39h1v1h-1zM16 40h1v1h-1zM52 40h1v1h-1zM55 40h1v1h-1zM68 40h1v1h-1zM75 40h1v1h-1zM57 41h1v1h-1zM70 41h2v1h-2zM74 41h1v1h-1zM5 42h1v1h-1zM23 42h1v1h-1zM49 42h1v1h-1zM65 42h1v1h-1zM68 42h1v1h-1zM71 42h1v1h-1zM74 42h1v1h-1zM78 42h1v1h-1zM5 43h1v1h-1zM57 43h1v1h-1zM65 43h1v1h-1zM70 43h1v1h-1zM78 43h1v1h-1zM52 44h1v1h-1zM17 46h1v1h-1zM22 46h1v1h-1zM26 46h1v1h-1zM33 46h1v1h-1zM51 46h2v1h-2zM55 46h1v1h-1zM62 46h1v1h-1zM35 47h2v1h-2zM38 47h1v1h-1zM7 48h1v1h-1zM12 48h1v1h-1zM43 48h1v1h-1zM3 49h2v1h-2zM44 49h1v1h-1zM73 49h1v1h-1zM5 50h1v1h-1zM31 50h1v1h-1zM55 50h1v1h-1zM65 50h1v1h-1zM72 50h1v1h-1zM40 51h3v1h-3zM65 51h1v1h-1zM67 51h1v1h-1zM70 51h1v1h-1zM61 52h2v1h-2zM83 52h1v1h-1zM24 53h1v1h-1zM45 53h1v1h-1zM69 53h1v1h-1zM12 54h1v1h-1zM28 54h1v1h-1zM51 54h1v1h-1zM59 54h1v1h-1zM61 54h1v1h-1zM66 54h1v1h-1zM70 54h1v1h-1zM82 54h1v1h-1zM61 56h1v1h-1zM0 57h1v1h-1zM13 57h1v1h-1zM15 57h1v1h-1zM22 57h1v1h-1zM28 57h1v1h-1zM35 57h1v1h-1zM40 57h3v1h-3zM45 57h1v1h-1zM4 58h1v1h-1zM37 58h3v1h-3zM43 58h1v1h-1zM63 58h1v1h-1zM7 59h1v1h-1zM18 59h1v1h-1zM23 59h1v1h-1zM26 59h1v1h-1zM44 59h1v1h-1zM47 59h1v1h-1zM50 59h1v1h-1zM69 60h1v1h-1zM7 62h1v1h-1zM22 62h1v1h-1zM43 62h1v1h-1zM52 62h1v1h-1zM13 63h1v1h-1zM17 63h1v1h-1zM30 63h2v1h-2zM55 63h1v1h-1zM74 63h1v1h-1zM12 64h1v1h-1zM23 64h1v1h-1zM26 64h1v1h-1zM37 64h1v1h-1zM43 64h1v1h-1zM59 64h1v1h-1zM75 64h1v1h-1zM14 65h1v1h-1zM23 65h1v1h-1zM35 65h1v1h-1zM37 65h1v1h-1zM50 65h1v1h-1zM53 65h1v1h-1zM15 66h1v1h-1zM22 66h1v1h-1zM24 66h1v1h-1zM43 66h1v1h-1zM47 66h1v1h-1zM49 66h1v1h-1zM58 66h1v1h-1zM69 66h1v1h-1zM15 67h1v1h-1zM22 67h1v1h-1zM78 67h1v1h-1zM43 68h1v1h-1zM64 68h1v1h-1zM15 69h1v1h-1zM77 69h1v1h-1zM5 70h2v1h-2zM21 70h1v1h-1zM23 70h2v1h-2zM27 70h1v1h-1zM29 70h1v1h-1zM38 70h1v1h-1zM43 70h1v1h-1zM54 70h1v1h-1zM80 70h1v1h-1zM12 71h1v1h-1zM15 71h1v1h-1zM38 71h1v1h-1zM43 71h1v1h-1zM40 72h1v1h-1zM42 72h1v1h-1zM51 72h1v1h-1zM68 72h1v1h-1zM5 73h2v1h-2zM9 73h1v1h-1zM18 73h1v1h-1zM20 73h1v1h-1zM24 73h1v1h-1zM35 73h1v1h-1zM39 73h2v1h-2zM47 73h1v1h-1zM65 73h1v1h-1zM7 74h1v1h-1zM22 74h1v1h-1zM24 74h1v1h-1zM37 74h1v1h-1zM42 74h1v1h-1zM52 74h2v1h-2zM15 75h1v1h-1zM24 75h1v1h-1zM54 75h1v1h-1zM58 75h1v1h-1zM79 75h1v1h-1zM12 76h1v1h-1zM39 76h1v1h-1zM42 76h3v1h-3zM48 76h1v1h-1zM58 76h1v1h-1zM66 76h1v1h-1zM4 77h1v1h-1zM32 77h1v1h-1zM45 77h1v1h-1zM61 77h1v1h-1zM65 77h1v1h-1zM24 78h1v1h-1zM38 78h1v1h-1zM48 78h2v1h-2zM56 78h1v1h-1zM61 78h1v1h-1zM63 78h1v1h-1zM0 80h1v1h-1zM5 80h1v1h-1zM18 80h1v1h-1zM20 80h1v1h-1zM32 80h1v1h-1zM37 80h1v1h-1zM47 80h1v1h-1zM59 80h2v1h-2zM1 81h1v1h-1zM8 81h1v1h-1zM27 81h1v1h-1zM29 81h1v1h-1zM55 81h2v1h-2zM74 81h1v1h-1zM76 81h1v1h-1zM3 82h1v1h-1zM14 82h1v1h-1zM36 82h1v1h-1zM38 82h1v1h-1zM58 82h1v1h-1zM60 82h1v1h-1zM63 82h1v1h-1zM0 83h1v1h-1zM17 83h1v1h-1zM42 83h1v1h-1zM45 83h1v1h-1zM61 83h2v1h-2zM68 83h2v1h-2z"/>
<path fill="#3885bc" d="M51 0h1v1h-1zM56 0h1v1h-1zM59 0h2v1h-2zM66 0h1v1h-1zM76 0h1v1h-1zM14 1h1v1h-1zM19 1h1v1h-1zM49 1h1v1h-1zM55 1h1v1h-1zM7 2h1v1h-1zM11 2h1v1h-1zM13 2h1v1h-1zM16 3h1v1h-1zM20 3h2v1h-2zM23 3h1v1h-1zM25 3h1v1h-1zM34 3h1v1h-1zM49 3h1v1h-1zM55 3h1v1h-1zM20 4h2v1h-2zM27 4h1v1h-1zM74 5h1v1h-1zM23 6h1v1h-1zM75 6h1v1h-1zM14 7h1v1h-1zM27 7h1v1h-1zM38 7h1v1h-1zM3 8h1v1h-1zM39 8h1v1h-1zM49 8h1v1h-1zM59 8h1v1h-1zM73 8h1v1h-1zM81 8h1v1h-1zM45 9h1v1h-1zM61 9h1v1h-1zM71 9h1v1h-1zM78 9h1v1h-1zM4 10h1v1h-1zM13 10h1v1h-1zM37 10h1v1h-1zM2 11h1v1h-1zM29 11h1v1h-1zM45 11h1v1h-1zM4 12h1v1h-1zM34 12h1v1h-1zM25 13h1v1h-1zM37 13h1v1h-1zM42 13h1v1h-1zM23 15h1v1h-1zM26 15h1v1h-1zM35 15h1v1h-1zM9 16h1v1h-1zM22 16h1v1h-1zM4 17h1v1h-1zM6 17h1v1h-1zM8 17h1v1h-1zM30 17h1v1h-1zM45 17h1v1h-1zM7 18h1v1h-1zM30 18h1v1h-1zM55 18h1v1h-1zM70 18h1v1h-1zM5 20h1v1h-1zM70 20h2v1h-2zM5 21h1v1h-1zM43 21h1v1h-1zM41 22h1v1h-1zM0 23h1v1h-1zM39 23h1v1h-1zM62 23h1v1h-1zM80 23h2v1h-2zM20 24h1v1h-1zM49 24h1v1h-1zM13 25h1v1h-1zM38 25h1v1h-1zM3 26h1v1h-1zM36 26h1v1h-1zM40 26h1v1h-1zM70 26h1v1h-1zM4 27h1v1h-1zM8 28h1v1h-1zM23 28h1v1h-1zM55 28h1v1h-1zM57 28h1v1h-1zM69 28h1v1h-1zM78 28h1v1h-1zM4 29h1v1h-1zM35 30h1v1h-1zM39 30h1v1h-1zM5 31h1v1h-1zM8 31h1v1h-1zM14 31h1v1h-1zM57 31h1v1h-1zM70 31h1v1h-1zM73 31h2v1h-2zM9 32h1v1h-1zM17 32h1v1h-1zM15 33h2v1h-2zM27 33h1v1h-1zM45 33h3v1h-3zM70 33h2v1h-2zM7 34h1v1h-1zM27 35h1v1h-1zM1 36h1v1h-1zM4 36h1v1h-1zM29 37h1v1h-1zM32 37h1v1h-1zM44 37h1v1h-1zM56 37h1v1h-1zM58 37h1v1h-1zM61 37h1v1h-1zM63 37h1v1h-1zM73 37h1v1h-1zM81 37h1v1h-1zM18 38h1v1h-1zM47 38h1v1h-1zM49 38h1v1h-1zM51 38h1v1h-1zM60 38h1v1h-1zM77 38h1v1h-1zM13 39h1v1h-1zM20 39h1v1h-1zM23 39h1v1h-1zM52 39h1v1h-1zM69 39h2v1h-2zM9 40h1v1h-1zM14 40h1v1h-1zM20 40h1v1h-1zM66 40h1v1h-1zM73 40h1v1h-1zM17 41h1v1h-1zM22 41h1v1h-1zM73 41h1v1h-1zM10 42h1v1h-1zM17 42h1v1h-1zM24 42h2v1h-2zM34 42h1v1h-1zM52 42h1v1h-1zM66 42h1v1h-1zM75 42h1v1h-1zM77 42h1v1h-1zM4 43h1v1h-1zM9 43h1v1h-1zM27 43h1v1h-1zM4 44h1v1h-1zM24 44h1v1h-1zM28 44h1v1h-1zM2 45h2v1h-2zM20 46h1v1h-1zM23 47h1v1h-1zM30 47h1v1h-1zM5 48h1v1h-1zM53 48h1v1h-1zM55 48h1v1h-1zM57 48h1v1h-1zM73 48h1v1h-1zM75 48h1v1h-1zM82 48h1v1h-1zM46 49h1v1h-1zM68 49h1v1h-1zM74 49h1v1h-1zM0 50h1v1h-1zM2 50h1v1h-1zM7 50h3v1h-3zM24 50h1v1h-1zM27 50h1v1h-1zM29 50h1v1h-1zM39 51h1v1h-1zM47 51h1v1h-1zM75 51h1v1h-1zM78 51h1v1h-1zM68 52h1v1h-1zM61 53h1v1h-1zM71 53h1v1h-1zM47 55h1v1h-1zM50 55h1v1h-1zM75 55h1v1h-1zM77 55h1v1h-1zM83 55h1v1h-1zM48 56h1v1h-1zM66 56h1v1h-1zM37 57h2v1h-2zM44 57h1v1h-1zM46 57h1v1h-1zM48 57h1v1h-1zM61 57h1v1h-1zM66 57h1v1h-1zM42 58h1v1h-1zM6 59h1v1h-1zM13 59h1v1h-1zM38 59h1v1h-1zM42 59h1v1h-1zM48 59h1v1h-1zM51 59h1v1h-1zM2 60h1v1h-1zM15 60h1v1h-1zM41 60h1v1h-1zM57 61h1v1h-1zM20 62h1v1h-1zM2 63h1v1h-1zM5 63h2v1h-2zM35 63h1v1h-1zM39 63h1v1h-1zM70 63h1v1h-1zM80 63h1v1h-1zM83 63h1v1h-1zM15 64h1v1h-1zM17 64h1v1h-1zM41 64h1v1h-1zM52 65h1v1h-1zM56 65h1v1h-1zM76 65h1v1h-1zM41 66h1v1h-1zM52 67h1v1h-1zM29 68h1v1h-1zM37 68h1v1h-1zM4 70h1v1h-1zM37 70h1v1h-1zM47 71h1v1h-1zM59 71h1v1h-1zM64 71h1v1h-1zM83 71h1v1h-1zM12 72h1v1h-1zM43 72h1v1h-1zM60 72h1v1h-1zM80 72h1v1h-1zM45 73h1v1h-1zM49 73h1v1h-1zM66 73h1v1h-1zM77 73h1v1h-1zM8 74h1v1h-1zM18 74h1v1h-1zM28 74h1v1h-1zM36 74h1v1h-1zM83 74h1v1h-1zM12 75h1v1h-1zM45 75h1v1h-1zM80 75h1v1h-1zM36 76h1v1h-1zM54 76h1v1h-1zM62 76h1v1h-1zM5 77h1v1h-1zM13 77h1v1h-1zM18 77h1v1h-1zM24 77h1v1h-1zM37 77h1v1h-1zM48 77h1v1h-1zM52 77h1v1h-1zM12 78h1v1h-1zM36 78h2v1h-2zM19 79h1v1h-1zM21 79h1v1h-1zM30 79h1v1h-1zM65 79h1v1h-1zM67 79h1v1h-1zM3 80h1v1h-1zM12 80h1v1h-1zM24 80h1v1h-1zM28 80h2v1h-2zM40 80h1v1h-1zM46 80h1v1h-1zM58 80h1v1h-1zM35 81h1v1h-1zM39 81h1v1h-1zM65 81h1v1h-1zM20 82h1v1h-1zM27 82h1v1h-1zM35 82h1v1h-1zM42 82h1v1h-1zM64 82h2v1h-2zM79 82h1v1h-1zM22 83h1v1h-1zM41 83h1v1h-1zM67 83h1v1h-1z"/>
<path fill="#3b88be" d="M10 0h1v1h-1zM47 0h1v1h-1zM69 0h1v1h-1zM73 0h1v1h-1zM83 0h1v1h-1zM36 1h1v1h-1zM10 2h1v1h-1zM18 2h1v1h-1zM25 2h1v1h-1zM27 2h2v1h-2zM33 3h1v1h-1zM0 4h1v1h-1zM42 4h1v1h-1zM78 4h1v1h-1zM30 5h1v1h-1zM70 5h1v1h-1zM18 6h1v1h-1zM30 6h1v1h-1zM43 6h1v1h-1zM78 6h1v1h-1zM4 7h1v1h-1zM23 7h1v1h-1zM26 7h1v1h-1zM28 7h1v1h-1zM33 8h1v1h-1zM43 8h1v1h-1zM70 8h1v1h-1zM42 9h1v1h-1zM44 9h1v1h-1zM29 10h3v1h-3zM32 11h1v1h-1zM41 11h1v1h-1zM44 11h1v1h-1zM3 12h1v1h-1zM30 12h1v1h-1zM40 12h1v1h-1zM44 12h2v1h-2zM9 13h1v1h-1zM35 14h2v1h-2zM9 15h1v1h-1zM29 15h1v1h-1zM32 15h2v1h-2zM29 16h1v1h-1zM34 16h1v1h-1zM39 16h1v1h-1zM41 16h1v1h-1zM44 16h1v1h-1zM26 17h1v1h-1zM9 18h1v1h-1zM31 18h1v1h-1zM44 18h1v1h-1zM26 20h1v1h-1zM45 20h1v1h-1zM69 20h1v1h-1zM73 20h1v1h-1zM11 21h1v1h-1zM44 21h1v1h-1zM9 22h1v1h-1zM38 22h1v1h-1zM8 23h1v1h-1zM64 23h1v1h-1zM70 23h1v1h-1zM74 23h1v1h-1zM8 24h1v1h-1zM34 26h1v1h-1zM39 26h1v1h-1zM71 26h1v1h-1zM44 27h1v1h-1zM64 28h1v1h-1zM75 28h1v1h-1zM36 29h1v1h-1zM69 29h1v1h-1zM4 30h1v1h-1zM16 31h1v1h-1zM55 31h1v1h-1zM0 33h1v1h-1zM2 33h1v1h-1zM5 33h1v1h-1zM8 33h1v1h-1zM26 33h1v1h-1zM55 33h1v1h-1zM2 34h1v1h-1zM24 34h1v1h-1zM2 35h1v1h-1zM26 35h1v1h-1zM30 35h1v1h-1zM12 36h2v1h-2zM40 36h1v1h-1zM57 37h1v1h-1zM70 37h1v1h-1zM75 37h1v1h-1zM20 38h1v1h-1zM24 38h1v1h-1zM68 38h1v1h-1zM74 38h1v1h-1zM80 38h1v1h-1zM50 39h1v1h-1zM0 40h1v1h-1zM25 40h1v1h-1zM30 40h1v1h-1zM47 40h1v1h-1zM64 40h1v1h-1zM70 40h1v1h-1zM74 40h1v1h-1zM78 40h1v1h-1zM75 41h1v1h-1zM8 42h1v1h-1zM15 42h1v1h-1zM26 42h1v1h-1zM55 42h1v1h-1zM62 42h1v1h-1zM70 42h1v1h-1zM0 44h1v1h-1zM41 44h1v1h-1zM17 45h1v1h-1zM51 45h2v1h-2zM63 45h1v1h-1zM12 47h1v1h-1zM16 47h3v1h-3zM53 47h1v1h-1zM59 47h1v1h-1zM15 48h1v1h-1zM61 48h1v1h-1zM66 48h1v1h-1zM72 48h1v1h-1zM37 49h1v1h-1zM58 49h1v1h-1zM69 49h1v1h-1zM71 49h1v1h-1zM17 50h1v1h-1zM22 50h1v1h-1zM32 50h1v1h-1zM40 50h1v1h-1zM74 50h1v1h-1zM24 51h1v1h-1zM47 54h1v1h-1zM66 55h1v1h-1zM74 55h1v1h-1zM50 56h1v1h-1zM64 56h1v1h-1zM3 57h1v1h-1zM55 58h1v1h-1zM61 58h1v1h-1zM0 59h1v1h-1zM3 59h1v1h-1zM15 59h1v1h-1zM39 59h1v1h-1zM49 59h1v1h-1zM52 59h1v1h-1zM24 60h1v1h-1zM3 62h1v1h-1zM57 62h1v1h-1zM72 62h1v1h-1zM4 63h1v1h-1zM8 63h1v1h-1zM36 63h1v1h-1zM40 63h4v1h-4zM47 63h2v1h-2zM72 63h2v1h-2zM81 63h1v1h-1zM46 64h1v1h-1zM55 64h1v1h-1zM4 65h1v1h-1zM17 65h1v1h-1zM40 65h1v1h-1zM49 65h1v1h-1zM28 66h1v1h-1zM55 67h1v1h-1zM15 68h1v1h-1zM41 68h1v1h-1zM53 68h1v1h-1zM66 69h1v1h-1zM3 70h1v1h-1zM22 70h1v1h-1zM28 70h1v1h-1zM36 70h1v1h-1zM40 70h1v1h-1zM49 70h1v1h-1zM61 70h1v1h-1zM61 71h1v1h-1zM63 71h1v1h-1zM15 72h1v1h-1zM12 73h1v1h-1zM41 73h1v1h-1zM62 73h1v1h-1zM39 74h2v1h-2zM59 74h1v1h-1zM62 74h1v1h-1zM80 74h1v1h-1zM4 76h1v1h-1zM15 76h1v1h-1zM22 76h1v1h-1zM56 76h2v1h-2zM3 77h1v1h-1zM41 77h2v1h-2zM46 77h1v1h-1zM51 77h1v1h-1zM58 77h1v1h-1zM60 77h1v1h-1zM64 77h1v1h-1zM67 77h1v1h-1zM55 78h1v1h-1zM1 79h1v1h-1zM11 79h1v1h-1zM20 79h1v1h-1zM23 79h1v1h-1zM27 79h1v1h-1zM34 79h1v1h-1zM40 79h1v1h-1zM42 79h1v1h-1zM82 79h1v1h-1zM4 80h1v1h-1zM22 80h1v1h-1zM42 80h1v1h-1zM50 80h1v1h-1zM13 81h1v1h-1zM38 81h1v1h-1zM59 81h1v1h-1zM4 82h1v1h-1zM22 82h1v1h-1zM24 82h1v1h-1zM26 82h1v1h-1zM29 82h1v1h-1zM43 82h1v1h-1zM48 82h1v1h-1zM53 82h1v1h-1zM57 82h1v1h-1zM62 82h1v1h-1zM66 82h2v1h-2zM74 82h1v1h-1zM24 83h1v1h-1zM44 83h1v1h-1zM47 83h1v1h-1zM51 83h1v1h-1zM66 83h1v1h-1zM75 83h1v1h-1z"/>
<path fill="#3f8ec0" d="M50 0h1v1h-1zM53 0h1v1h-1zM62 0h1v1h-1zM64 0h1v1h-1zM70 0h1v1h-1zM6 1h1v1h-1zM18 1h1v1h-1zM28 1h1v1h-1zM45 1h1v1h-1zM15 3h1v1h-1zM31 3h1v1h-1zM42 3h2v1h-2zM71 3h1v1h-1zM7 4h1v1h-1zM25 5h1v1h-1zM35 5h1v1h-1zM42 5h1v1h-1zM47 6h1v1h-1zM24 7h1v1h-1zM26 8h1v1h-1zM30 8h1v1h-1zM13 9h1v1h-1zM30 9h1v1h-1zM41 9h1v1h-1zM15 10h1v1h-1zM32 10h1v1h-1zM38 10h1v1h-1zM31 11h1v1h-1zM22 14h1v1h-1zM25 14h1v1h-1zM29 14h1v1h-1zM3 15h1v1h-1zM11 15h1v1h-1zM31 15h1v1h-1zM4 16h1v1h-1zM42 16h1v1h-1zM25 17h1v1h-1zM28 17h1v1h-1zM43 17h1v1h-1zM5 18h1v1h-1zM8 18h1v1h-1zM36 18h1v1h-1zM49 20h1v1h-1zM55 20h1v1h-1zM78 20h1v1h-1zM4 21h1v1h-1zM14 21h1v1h-1zM30 21h1v1h-1zM40 21h1v1h-1zM12 22h1v1h-1zM15 22h1v1h-1zM16 23h1v1h-1zM69 23h1v1h-1zM75 23h1v1h-1zM37 24h1v1h-1zM40 24h2v1h-2zM33 25h1v1h-1zM12 26h1v1h-1zM64 26h1v1h-1zM0 28h1v1h-1zM2 28h1v1h-1zM40 28h1v1h-1zM47 28h1v1h-1zM49 28h1v1h-1zM71 28h1v1h-1zM12 29h1v1h-1zM6 31h1v1h-1zM52 31h1v1h-1zM22 32h1v1h-1zM4 33h1v1h-1zM27 34h2v1h-2zM29 36h1v1h-1zM39 36h1v1h-1zM2 37h2v1h-2zM14 37h1v1h-1zM17 37h1v1h-1zM47 37h1v1h-1zM49 37h1v1h-1zM15 38h1v1h-1zM17 38h1v1h-1zM22 38h1v1h-1zM27 38h1v1h-1zM33 38h1v1h-1zM43 38h1v1h-1zM52 38h1v1h-1zM75 38h1v1h-1zM12 39h1v1h-1zM15 40h1v1h-1zM18 40h1v1h-1zM28 40h1v1h-1zM37 40h1v1h-1zM57 40h1v1h-1zM69 40h1v1h-1zM10 41h1v1h-1zM24 41h1v1h-1zM9 42h1v1h-1zM16 42h1v1h-1zM28 42h1v1h-1zM56 42h1v1h-1zM12 43h1v1h-1zM52 43h1v1h-1zM3 46h1v1h-1zM13 46h1v1h-1zM28 46h2v1h-2zM54 46h1v1h-1zM57 46h1v1h-1zM70 46h1v1h-1zM2 47h1v1h-1zM13 47h1v1h-1zM43 47h1v1h-1zM73 47h1v1h-1zM3 50h1v1h-1zM13 50h1v1h-1zM15 50h1v1h-1zM35 50h1v1h-1zM44 50h1v1h-1zM61 50h1v1h-1zM67 50h1v1h-1zM70 50h1v1h-1zM12 51h1v1h-1zM48 52h1v1h-1zM71 52h1v1h-1zM78 52h1v1h-1zM44 53h1v1h-1zM74 54h1v1h-1zM78 54h1v1h-1zM12 55h1v1h-1zM45 55h1v1h-1zM62 55h1v1h-1zM78 55h1v1h-1zM24 57h1v1h-1zM52 57h1v1h-1zM22 58h1v1h-1zM66 58h1v1h-1zM27 60h2v1h-2zM44 62h1v1h-1zM78 62h1v1h-1zM3 63h1v1h-1zM7 63h1v1h-1zM18 63h1v1h-1zM37 63h2v1h-2zM75 63h1v1h-1zM24 64h1v1h-1zM56 64h1v1h-1zM7 65h1v1h-1zM13 65h1v1h-1zM39 65h1v1h-1zM54 65h1v1h-1zM72 67h1v1h-1zM44 68h1v1h-1zM80 68h1v1h-1zM55 69h1v1h-1zM52 71h1v1h-1zM83 72h1v1h-1zM28 73h1v1h-1zM43 73h2v1h-2zM46 73h1v1h-1zM52 73h1v1h-1zM56 73h1v1h-1zM4 74h1v1h-1zM15 74h1v1h-1zM35 74h1v1h-1zM47 74h1v1h-1zM51 74h1v1h-1zM61 74h1v1h-1zM49 75h1v1h-1zM55 75h1v1h-1zM57 75h1v1h-1zM17 77h1v1h-1zM36 77h1v1h-1zM39 77h2v1h-2zM49 77h1v1h-1zM17 78h1v1h-1zM51 78h2v1h-2zM57 78h1v1h-1zM74 78h1v1h-1zM0 79h1v1h-1zM2 79h1v1h-1zM7 79h2v1h-2zM10 79h1v1h-1zM16 79h1v1h-1zM6 80h1v1h-1zM17 80h1v1h-1zM41 80h1v1h-1zM43 80h1v1h-1zM66 80h1v1h-1zM6 81h1v1h-1zM10 81h1v1h-1zM22 81h1v1h-1zM36 81h1v1h-1zM44 81h1v1h-1zM58 81h1v1h-1zM61 81h1v1h-1zM64 81h1v1h-1zM13 82h1v1h-1zM41 82h1v1h-1zM72 82h1v1h-1zM3 83h1v1h-1z"/>
<path fill="#4393c3" d="M26 0h1v1h-1zM48 0h1v1h-1zM52 0h1v1h-1zM61 0h1v1h-1zM68 0h1v1h-1zM75 0h1v1h-1zM20 1h1v1h-1zM27 1h1v1h-1zM35 1h1v1h-1zM39 1h1v1h-1zM46 1h1v1h-1zM22 2h1v1h-1zM9 3h1v1h-1zM26 3h2v1h-2zM45 3h1v1h-1zM8 4h1v1h-1zM24 4h1v1h-1zM35 4h1v1h-1zM13 5h1v1h-1zM20 5h1v1h-1zM29 5h1v1h-1zM32 5h1v1h-1zM14 6h1v1h-1zM26 6h2v1h-2zM33 6h1v1h-1zM42 6h1v1h-1zM19 7h1v1h-1zM0 8h1v1h-1zM2 8h1v1h-1zM13 8h1v1h-1zM15 8h1v1h-1zM32 8h1v1h-1zM42 8h1v1h-1zM44 8h1v1h-1zM71 8h1v1h-1zM15 9h1v1h-1zM25 10h1v1h-1zM26 11h1v1h-1zM0 12h1v1h-1zM2 12h1v1h-1zM5 12h1v1h-1zM31 12h1v1h-1zM24 15h1v1h-1zM26 16h2v1h-2zM38 16h1v1h-1zM14 17h1v1h-1zM32 17h1v1h-1zM39 17h1v1h-1zM13 20h1v1h-1zM40 20h1v1h-1zM42 20h2v1h-2zM12 21h1v1h-1zM17 22h1v1h-1zM29 22h1v1h-1zM3 23h1v1h-1zM55 23h1v1h-1zM57 23h1v1h-1zM22 25h1v1h-1zM28 25h1v1h-1zM21 26h1v1h-1zM37 26h1v1h-1zM42 26h1v1h-1zM44 26h1v1h-1zM3 29h1v1h-1zM37 29h1v1h-1zM39 29h1v1h-1zM3 30h1v1h-1zM24 30h1v1h-1zM10 31h1v1h-1zM35 32h2v1h-2zM18 33h1v1h-1zM12 34h1v1h-1zM17 34h1v1h-1zM41 34h2v1h-2zM23 35h1v1h-1zM32 35h1v1h-1zM44 35h1v1h-1zM1 37h1v1h-1zM52 37h1v1h-1zM62 37h1v1h-1zM48 38h1v1h-1zM57 38h1v1h-1zM70 38h1v1h-1zM10 39h1v1h-1zM22 39h1v1h-1zM6 40h1v1h-1zM24 40h1v1h-1zM71 40h1v1h-1zM5 41h1v1h-1zM12 41h1v1h-1zM49 41h1v1h-1zM33 42h1v1h-1zM39 42h1v1h-1zM73 42h1v1h-1zM28 43h1v1h-1zM39 44h1v1h-1zM4 46h1v1h-1zM12 46h1v1h-1zM24 46h1v1h-1zM68 46h1v1h-1zM5 47h1v1h-1zM15 47h1v1h-1zM20 47h1v1h-1zM24 47h1v1h-1zM29 47h1v1h-1zM37 47h1v1h-1zM58 47h1v1h-1zM65 47h1v1h-1zM74 47h1v1h-1zM76 47h1v1h-1zM64 48h2v1h-2zM59 49h1v1h-1zM28 50h1v1h-1zM36 50h3v1h-3zM42 50h1v1h-1zM68 50h1v1h-1zM60 51h1v1h-1zM68 51h1v1h-1zM66 52h1v1h-1zM49 54h1v1h-1zM64 54h1v1h-1zM73 56h1v1h-1zM12 57h1v1h-1zM47 57h1v1h-1zM75 57h1v1h-1zM77 57h2v1h-2zM24 58h1v1h-1zM41 59h1v1h-1zM43 59h1v1h-1zM74 59h1v1h-1zM55 60h1v1h-1zM70 61h1v1h-1zM26 62h1v1h-1zM58 62h1v1h-1zM74 62h1v1h-1zM0 63h1v1h-1zM23 63h1v1h-1zM46 63h1v1h-1zM52 63h1v1h-1zM27 64h2v1h-2zM3 65h1v1h-1zM8 65h1v1h-1zM12 65h1v1h-1zM18 65h1v1h-1zM20 65h1v1h-1zM81 65h1v1h-1zM73 66h1v1h-1zM74 67h1v1h-1zM45 68h1v1h-1zM15 70h1v1h-1zM62 70h1v1h-1zM59 73h1v1h-1zM38 74h1v1h-1zM49 74h1v1h-1zM60 74h1v1h-1zM68 74h1v1h-1zM52 76h1v1h-1zM68 76h1v1h-1zM12 77h1v1h-1zM15 77h1v1h-1zM38 77h1v1h-1zM44 77h1v1h-1zM56 77h2v1h-2zM44 78h1v1h-1zM32 79h1v1h-1zM36 79h1v1h-1zM59 79h2v1h-2zM44 80h1v1h-1zM53 80h1v1h-1zM67 80h1v1h-1zM75 80h1v1h-1zM2 81h1v1h-1zM7 81h1v1h-1zM12 81h1v1h-1zM17 81h1v1h-1zM31 81h1v1h-1zM41 81h2v1h-2zM66 81h1v1h-1zM75 81h1v1h-1zM78 81h1v1h-1zM37 82h1v1h-1zM52 82h1v1h-1zM56 82h1v1h-1zM76 83h1v1h-1z"/>
<path fill="#4c99c6" d="M6 0h1v1h-1zM19 0h1v1h-1zM55 0h1v1h-1zM57 0h2v1h-2zM13 1h1v1h-1zM17 1h1v1h-1zM23 1h1v1h-1zM39 2h1v1h-1zM8 3h1v1h-1zM14 3h1v1h-1zM17 3h2v1h-2zM32 3h1v1h-1zM11 4h1v1h-1zM1 5h1v1h-1zM19 5h1v1h-1zM21 5h1v1h-1zM23 5h1v1h-1zM27 5h2v1h-2zM31 5h1v1h-1zM33 5h1v1h-1zM44 5h1v1h-1zM16 6h1v1h-1zM22 7h1v1h-1zM14 8h1v1h-1zM31 8h1v1h-1zM45 8h1v1h-1zM16 9h1v1h-1zM31 9h1v1h-1zM14 10h1v1h-1zM27 10h1v1h-1zM26 12h1v1h-1zM33 13h1v1h-1zM22 15h1v1h-1zM31 16h1v1h-1zM33 16h1v1h-1zM24 17h1v1h-1zM31 17h1v1h-1zM36 17h1v1h-1zM26 18h1v1h-1zM32 18h2v1h-2zM3 20h1v1h-1zM44 20h1v1h-1zM66 20h1v1h-1zM28 21h1v1h-1zM5 23h1v1h-1zM44 23h2v1h-2zM78 23h1v1h-1zM34 25h1v1h-1zM22 26h1v1h-1zM34 27h1v1h-1zM22 28h1v1h-1zM44 28h1v1h-1zM46 28h1v1h-1zM63 28h1v1h-1zM70 28h1v1h-1zM32 29h1v1h-1zM2 31h1v1h-1zM34 31h1v1h-1zM36 31h1v1h-1zM46 31h2v1h-2zM27 32h1v1h-1zM29 32h1v1h-1zM1 33h1v1h-1zM30 33h1v1h-1zM37 33h2v1h-2zM5 34h1v1h-1zM30 36h1v1h-1zM11 37h1v1h-1zM16 37h1v1h-1zM18 37h1v1h-1zM48 37h1v1h-1zM71 37h1v1h-1zM69 38h1v1h-1zM29 39h1v1h-1zM43 39h1v1h-1zM49 39h1v1h-1zM7 40h1v1h-1zM22 40h1v1h-1zM29 40h1v1h-1zM44 40h1v1h-1zM49 40h1v1h-1zM46 41h1v1h-1zM4 42h1v1h-1zM57 42h1v1h-1zM37 43h1v1h-1zM31 45h1v1h-1zM50 45h1v1h-1zM65 46h1v1h-1zM69 46h1v1h-1zM78 46h1v1h-1zM7 47h1v1h-1zM22 47h1v1h-1zM26 47h1v1h-1zM51 47h1v1h-1zM54 47h1v1h-1zM62 47h1v1h-1zM77 47h2v1h-2zM81 47h2v1h-2zM37 48h1v1h-1zM39 48h1v1h-1zM80 48h1v1h-1zM54 49h1v1h-1zM70 49h1v1h-1zM4 50h1v1h-1zM6 50h1v1h-1zM71 50h1v1h-1zM47 52h1v1h-1zM82 52h1v1h-1zM50 53h1v1h-1zM71 54h1v1h-1zM75 54h1v1h-1zM83 54h1v1h-1zM49 57h1v1h-1zM73 57h2v1h-2zM47 58h1v1h-1zM12 59h1v1h-1zM20 59h1v1h-1zM24 62h1v1h-1zM55 62h1v1h-1zM69 62h1v1h-1zM15 63h1v1h-1zM20 63h1v1h-1zM49 63h1v1h-1zM60 63h1v1h-1zM42 64h1v1h-1zM71 64h1v1h-1zM15 65h1v1h-1zM22 65h1v1h-1zM42 65h1v1h-1zM55 65h1v1h-1zM59 66h1v1h-1zM55 68h1v1h-1zM63 68h1v1h-1zM12 70h1v1h-1zM44 70h2v1h-2zM82 70h1v1h-1zM48 73h1v1h-1zM12 74h1v1h-1zM41 74h1v1h-1zM55 74h1v1h-1zM57 74h1v1h-1zM64 74h1v1h-1zM24 76h1v1h-1zM49 76h1v1h-1zM28 77h1v1h-1zM66 77h1v1h-1zM28 79h2v1h-2zM41 79h1v1h-1zM58 79h1v1h-1zM63 79h1v1h-1zM83 79h1v1h-1zM55 80h2v1h-2zM3 81h1v1h-1zM24 81h1v1h-1zM28 81h1v1h-1zM68 81h1v1h-1zM12 82h1v1h-1zM44 82h1v1h-1zM70 82h1v1h-1z"/>
<path fill="#569fc9" d="M18 0h1v1h-1zM28 0h1v1h-1zM24 1h1v1h-1zM24 2h1v1h-1zM34 2h1v1h-1zM38 2h1v1h-1zM6 3h1v1h-1zM44 3h1v1h-1zM17 4h1v1h-1zM22 4h1v1h-1zM32 4h1v1h-1zM2 5h1v1h-1zM22 5h1v1h-1zM24 5h1v1h-1zM34 5h1v1h-1zM35 7h1v1h-1zM11 8h1v1h-1zM27 8h1v1h-1zM3 9h1v1h-1zM5 9h1v1h-1zM25 9h1v1h-1zM27 9h1v1h-1zM40 9h1v1h-1zM28 10h1v1h-1zM27 11h1v1h-1zM27 12h1v1h-1zM29 12h1v1h-1zM5 13h1v1h-1zM5 14h1v1h-1zM8 15h1v1h-1zM28 15h1v1h-1zM28 16h1v1h-1zM35 16h1v1h-1zM27 17h1v1h-1zM35 17h1v1h-1zM28 18h1v1h-1zM0 20h1v1h-1zM14 20h1v1h-1zM27 20h1v1h-1zM38 20h1v1h-1zM41 21h1v1h-1zM4 23h1v1h-1zM7 23h1v1h-1zM12 23h1v1h-1zM15 23h1v1h-1zM17 23h1v1h-1zM26 23h1v1h-1zM21 24h1v1h-1zM34 24h1v1h-1zM15 26h1v1h-1zM3 28h1v1h-1zM13 28h1v1h-1zM42 29h1v1h-1zM34 30h1v1h-1zM38 30h1v1h-1zM37 31h1v1h-1zM15 32h1v1h-1zM3 33h1v1h-1zM7 33h1v1h-1zM10 33h1v1h-1zM17 33h1v1h-1zM29 34h1v1h-1zM5 35h1v1h-1zM7 36h1v1h-1zM0 37h1v1h-1zM12 37h1v1h-1zM33 37h1v1h-1zM55 37h1v1h-1zM69 37h1v1h-1zM1 38h1v1h-1zM9 38h1v1h-1zM45 38h1v1h-1zM31 39h1v1h-1zM13 40h1v1h-1zM27 40h1v1h-1zM44 41h1v1h-1zM3 42h1v1h-1zM12 42h2v1h-2zM35 42h1v1h-1zM42 45h1v1h-1zM81 46h1v1h-1zM0 47h1v1h-1zM6 47h1v1h-1zM27 47h1v1h-1zM42 47h1v1h-1zM71 47h1v1h-1zM70 48h1v1h-1zM12 50h1v1h-1zM62 50h1v1h-1zM45 51h1v1h-1zM49 52h1v1h-1zM44 54h1v1h-1zM59 55h2v1h-2zM12 58h1v1h-1zM4 59h1v1h-1zM36 59h2v1h-2zM73 59h1v1h-1zM71 62h1v1h-1zM26 63h1v1h-1zM29 63h1v1h-1zM45 63h1v1h-1zM68 63h1v1h-1zM29 64h1v1h-1zM43 65h1v1h-1zM47 65h1v1h-1zM78 65h1v1h-1zM41 70h2v1h-2zM68 73h1v1h-1zM44 74h1v1h-1zM56 74h1v1h-1zM67 74h1v1h-1zM81 74h1v1h-1zM83 75h1v1h-1zM81 76h1v1h-1zM62 77h1v1h-1zM81 77h1v1h-1zM9 79h1v1h-1zM12 79h2v1h-2zM17 79h2v1h-2zM24 79h1v1h-1zM31 79h1v1h-1zM37 79h3v1h-3zM43 79h2v1h-2zM61 79h2v1h-2zM64 79h1v1h-1zM13 80h1v1h-1zM57 80h1v1h-1zM61 80h1v1h-1zM71 80h1v1h-1zM45 81h1v1h-1zM71 81h1v1h-1zM17 82h1v1h-1zM73 83h1v1h-1z"/>
<path fill="#5fa5cd" d="M16 0h1v1h-1zM25 0h1v1h-1zM46 0h1v1h-1zM71 0h1v1h-1zM78 0h1v1h-1zM33 1h1v1h-1zM5 2h1v1h-1zM11 3h1v1h-1zM28 3h1v1h-1zM12 4h1v1h-1zM18 5h1v1h-1zM22 6h1v1h-1zM24 6h1v1h-1zM28 6h2v1h-2zM32 6h1v1h-1zM17 8h1v1h-1zM28 8h1v1h-1zM35 8h1v1h-1zM38 8h1v1h-1zM28 11h1v1h-1zM20 12h1v1h-1zM25 12h1v1h-1zM32 12h2v1h-2zM35 12h1v1h-1zM39 13h1v1h-1zM32 16h1v1h-1zM33 17h1v1h-1zM4 18h1v1h-1zM12 19h1v1h-1zM16 19h1v1h-1zM18 21h1v1h-1zM24 21h1v1h-1zM27 22h1v1h-1zM6 23h1v1h-1zM71 23h1v1h-1zM12 24h1v1h-1zM42 24h1v1h-1zM35 26h1v1h-1zM38 26h1v1h-1zM31 27h1v1h-1zM35 27h1v1h-1zM15 28h1v1h-1zM20 28h1v1h-1zM34 29h1v1h-1zM46 30h1v1h-1zM4 31h1v1h-1zM13 31h1v1h-1zM15 31h1v1h-1zM22 31h1v1h-1zM28 31h1v1h-1zM28 35h1v1h-1zM21 37h2v1h-2zM0 38h1v1h-1zM10 38h1v1h-1zM23 38h1v1h-1zM28 38h1v1h-1zM46 38h1v1h-1zM71 38h1v1h-1zM7 39h1v1h-1zM36 40h1v1h-1zM45 40h1v1h-1zM36 41h1v1h-1zM38 41h1v1h-1zM22 42h1v1h-1zM48 45h1v1h-1zM3 47h1v1h-1zM28 47h1v1h-1zM61 47h1v1h-1zM39 50h1v1h-1zM56 50h1v1h-1zM58 50h1v1h-1zM71 51h1v1h-1zM59 53h1v1h-1zM70 53h1v1h-1zM61 55h1v1h-1zM49 56h1v1h-1zM22 59h1v1h-1zM65 59h1v1h-1zM63 60h1v1h-1zM70 62h1v1h-1zM22 63h1v1h-1zM59 63h1v1h-1zM45 64h1v1h-1zM57 64h1v1h-1zM48 65h1v1h-1zM70 66h1v1h-1zM67 70h1v1h-1zM83 70h1v1h-1zM15 73h1v1h-1zM61 73h1v1h-1zM64 73h1v1h-1zM76 73h1v1h-1zM58 74h1v1h-1zM53 76h1v1h-1zM15 78h1v1h-1zM72 78h1v1h-1zM3 79h2v1h-2zM6 79h1v1h-1zM33 79h1v1h-1zM35 79h1v1h-1zM46 79h1v1h-1zM48 79h1v1h-1zM48 80h2v1h-2zM83 80h1v1h-1zM43 81h1v1h-1zM57 81h1v1h-1zM68 82h1v1h-1z"/>
<path fill="#68abd0" d="M11 0h1v1h-1zM34 0h1v1h-1zM49 0h1v1h-1zM74 0h1v1h-1zM15 1h1v1h-1zM22 1h1v1h-1zM24 3h1v1h-1zM3 7h1v1h-1zM36 7h1v1h-1zM41 8h1v1h-1zM24 9h1v1h-1zM33 9h1v1h-1zM36 9h3v1h-3zM3 11h1v1h-1zM25 11h1v1h-1zM19 12h1v1h-1zM21 12h1v1h-1zM28 12h1v1h-1zM35 13h1v1h-1zM18 14h1v1h-1zM25 16h1v1h-1zM37 17h1v1h-1zM6 18h1v1h-1zM15 19h1v1h-1zM24 19h1v1h-1zM35 19h1v1h-1zM37 19h1v1h-1zM4 20h1v1h-1zM41 20h1v1h-1zM42 21h1v1h-1zM43 23h1v1h-1zM47 23h1v1h-1zM4 28h1v1h-1zM17 28h1v1h-1zM34 28h1v1h-1zM24 29h1v1h-1zM39 31h1v1h-1zM37 32h1v1h-1zM13 33h1v1h-1zM19 33h2v1h-2zM25 34h1v1h-1zM25 35h1v1h-1zM31 35h1v1h-1zM13 37h1v1h-1zM19 37h1v1h-1zM36 42h1v1h-1zM41 46h1v1h-1zM71 46h1v1h-1zM57 47h1v1h-1zM83 47h1v1h-1zM42 48h1v1h-1zM52 48h1v1h-1zM57 50h1v1h-1zM66 50h1v1h-1zM69 50h1v1h-1zM73 50h1v1h-1zM75 50h1v1h-1zM78 50h1v1h-1zM55 51h1v1h-1zM61 51h1v1h-1zM68 62h1v1h-1zM24 65h1v1h-1zM69 65h1v1h-1zM44 67h1v1h-1zM61 69h1v1h-1zM63 69h1v1h-1zM68 71h1v1h-1zM69 76h1v1h-1zM82 76h1v1h-1zM55 77h1v1h-1zM66 78h1v1h-1zM5 79h1v1h-1zM22 79h1v1h-1zM4 81h1v1h-1zM47 81h1v1h-1zM75 82h1v1h-1zM53 83h1v1h-1z"/>
<path fill="#71b0d3" d="M14 0h1v1h-1zM20 0h1v1h-1zM23 0h1v1h-1zM7 1h1v1h-1zM34 1h1v1h-1zM36 2h1v1h-1zM12 3h2v1h-2zM1 4h1v1h-1zM36 4h1v1h-1zM4 8h1v1h-1zM25 8h1v1h-1zM12 9h1v1h-1zM23 9h1v1h-1zM28 9h1v1h-1zM34 9h1v1h-1zM39 9h1v1h-1zM21 10h1v1h-1zM26 10h1v1h-1zM37 11h1v1h-1zM36 12h1v1h-1zM6 13h1v1h-1zM28 13h1v1h-1zM36 13h1v1h-1zM21 14h1v1h-1zM21 16h1v1h-1zM24 16h1v1h-1zM38 21h1v1h-1zM31 22h2v1h-2zM30 24h1v1h-1zM36 28h1v1h-1zM42 28h1v1h-1zM33 30h1v1h-1zM40 30h1v1h-1zM7 35h1v1h-1zM9 35h1v1h-1zM33 36h1v1h-1zM41 36h1v1h-1zM15 37h1v1h-1zM41 37h2v1h-2zM26 38h1v1h-1zM29 38h1v1h-1zM12 40h1v1h-1zM43 40h1v1h-1zM45 42h1v1h-1zM64 47h1v1h-1zM41 49h1v1h-1zM47 50h1v1h-1zM64 50h1v1h-1zM77 50h1v1h-1zM62 57h1v1h-1zM71 59h1v1h-1zM71 61h1v1h-1zM12 63h1v1h-1zM24 63h1v1h-1zM27 63h1v1h-1zM57 63h1v1h-1zM67 64h1v1h-1zM46 65h1v1h-1zM57 66h1v1h-1zM64 67h1v1h-1zM69 72h1v1h-1zM60 73h1v1h-1zM47 79h1v1h-1zM57 79h1v1h-1zM45 80h1v1h-1zM5 81h1v1h-1zM69 82h1v1h-1zM73 82h1v1h-1z"/>
<path fill="#7bb6d6" d="M35 0h1v1h-1zM38 1h1v1h-1zM44 2h1v1h-1zM7 3h1v1h-1zM15 6h1v1h-1zM18 8h1v1h-1zM23 8h1v1h-1zM21 9h1v1h-1zM35 9h1v1h-1zM14 11h1v1h-1zM38 12h1v1h-1zM17 14h1v1h-1zM23 14h1v1h-1zM7 15h1v1h-1zM19 16h1v1h-1zM36 16h1v1h-1zM21 17h1v1h-1zM8 21h1v1h-1zM31 21h1v1h-1zM37 21h1v1h-1zM9 23h1v1h-1zM38 23h1v1h-1zM40 23h1v1h-1zM42 23h1v1h-1zM35 24h1v1h-1zM20 25h1v1h-1zM32 27h1v1h-1zM12 28h1v1h-1zM18 28h1v1h-1zM35 28h1v1h-1zM39 28h1v1h-1zM43 28h1v1h-1zM57 29h2v1h-2zM0 31h1v1h-1zM12 31h1v1h-1zM17 31h1v1h-1zM48 31h1v1h-1zM0 32h1v1h-1zM12 33h1v1h-1zM44 33h1v1h-1zM9 37h1v1h-1zM34 37h1v1h-1zM42 38h1v1h-1zM44 38h1v1h-1zM4 41h1v1h-1zM36 43h1v1h-1zM49 45h1v1h-1zM42 46h1v1h-1zM49 46h1v1h-1zM68 47h2v1h-2zM44 48h1v1h-1zM71 48h1v1h-1zM54 50h1v1h-1zM60 50h1v1h-1zM63 50h1v1h-1zM46 51h1v1h-1zM46 53h1v1h-1zM49 55h1v1h-1zM58 55h1v1h-1zM60 57h1v1h-1zM24 59h1v1h-1zM62 59h1v1h-1zM44 63h1v1h-1zM58 63h1v1h-1zM71 63h1v1h-1zM70 64h1v1h-1zM62 67h1v1h-1zM66 70h1v1h-1zM60 71h1v1h-1zM58 72h1v1h-1zM69 73h1v1h-1zM80 77h1v1h-1zM73 78h1v1h-1zM53 79h1v1h-1zM72 79h1v1h-1zM75 79h2v1h-2zM15 80h1v1h-1zM15 81h1v1h-1zM78 82h1v1h-1zM15 83h1v1h-1z"/>
<path fill="#84bcd9" d="M45 0h1v1h-1zM9 1h1v1h-1zM14 2h2v1h-2zM43 2h1v1h-1zM22 3h1v1h-1zM0 5h1v1h-1zM21 8h2v1h-2zM29 8h1v1h-1zM26 9h1v1h-1zM29 9h1v1h-1zM36 11h1v1h-1zM23 12h2v1h-2zM23 13h1v1h-1zM36 15h1v1h-1zM37 16h1v1h-1zM14 18h1v1h-1zM38 18h1v1h-1zM36 19h1v1h-1zM24 20h1v1h-1zM32 21h1v1h-1zM36 22h1v1h-1zM41 23h1v1h-1zM24 28h1v1h-1zM41 29h1v1h-1zM3 31h1v1h-1zM31 36h1v1h-1zM23 37h1v1h-1zM27 37h1v1h-1zM31 37h1v1h-1zM2 38h1v1h-1zM36 39h1v1h-1zM31 40h1v1h-1zM48 40h1v1h-1zM0 41h1v1h-1zM45 41h1v1h-1zM4 47h1v1h-1zM50 47h1v1h-1zM52 47h1v1h-1zM56 47h1v1h-1zM78 53h1v1h-1zM60 54h1v1h-1zM70 55h1v1h-1zM60 56h1v1h-1zM50 57h1v1h-1zM64 59h1v1h-1zM71 66h1v1h-1zM70 67h1v1h-1zM55 70h1v1h-1zM65 70h1v1h-1zM58 73h1v1h-1zM63 73h1v1h-1zM69 74h1v1h-1zM50 77h1v1h-1zM73 77h1v1h-1zM49 79h2v1h-2zM66 79h1v1h-1zM74 80h1v1h-1zM55 82h1v1h-1z"/>
<path fill="#8dc2dc" d="M12 0h2v1h-2zM21 0h1v1h-1zM27 0h1v1h-1zM29 0h1v1h-1zM32 0h1v1h-1zM4 1h1v1h-1zM29 1h1v1h-1zM31 2h3v1h-3zM0 3h1v1h-1zM35 3h1v1h-1zM40 6h1v1h-1zM4 9h1v1h-1zM32 9h1v1h-1zM23 10h1v1h-1zM21 11h2v1h-2zM21 13h1v1h-1zM26 13h2v1h-2zM10 14h1v1h-1zM24 14h1v1h-1zM26 14h3v1h-3zM20 16h1v1h-1zM23 16h1v1h-1zM9 17h1v1h-1zM23 17h1v1h-1zM34 17h1v1h-1zM25 18h1v1h-1zM27 18h1v1h-1zM8 20h1v1h-1zM15 21h1v1h-1zM11 22h1v1h-1zM10 23h1v1h-1zM19 23h1v1h-1zM30 23h1v1h-1zM18 25h1v1h-1zM13 26h1v1h-1zM18 26h1v1h-1zM13 27h1v1h-1zM59 29h1v1h-1zM0 30h1v1h-1zM65 30h1v1h-1zM1 31h1v1h-1zM18 31h1v1h-1zM2 32h2v1h-2zM24 35h1v1h-1zM22 36h1v1h-1zM12 38h1v1h-1zM5 40h1v1h-1zM50 46h1v1h-1zM75 47h1v1h-1zM52 49h1v1h-1zM53 50h1v1h-1zM80 50h1v1h-1zM81 54h1v1h-1zM71 60h1v1h-1zM67 62h1v1h-1zM31 64h1v1h-1zM31 65h1v1h-1zM41 65h1v1h-1zM58 65h1v1h-1zM71 65h1v1h-1zM31 66h1v1h-1zM71 67h1v1h-1zM73 76h1v1h-1zM80 76h1v1h-1zM45 79h1v1h-1zM55 79h1v1h-1z"/>
<path fill="#96c7df" d="M7 0h1v1h-1zM12 1h1v1h-1zM37 1h1v1h-1zM12 2h1v1h-1zM41 4h1v1h-1zM9 5h1v1h-1zM41 5h1v1h-1zM24 8h1v1h-1zM22 9h1v1h-1zM24 10h1v1h-1zM15 11h1v1h-1zM21 18h1v1h-1zM29 21h1v1h-1zM18 23h1v1h-1zM27 23h1v1h-1zM29 24h1v1h-1zM33 26h1v1h-1zM43 35h1v1h-1zM25 38h1v1h-1zM66 47h1v1h-1zM70 47h1v1h-1zM57 54h1v1h-1zM68 65h1v1h-1zM83 73h1v1h-1zM69 75h1v1h-1zM72 76h1v1h-1zM15 82h1v1h-1z"/>
<path fill="#9dcbe1" d="M30 0h2v1h-2zM36 0h1v1h-1zM32 1h1v1h-1zM37 4h1v1h-1zM20 6h1v1h-1zM17 7h1v1h-1zM19 8h2v1h-2zM23 11h1v1h-1zM37 12h1v1h-1zM20 13h1v1h-1zM22 13h1v1h-1zM18 15h1v1h-1zM7 20h1v1h-1zM28 20h1v1h-1zM14 26h1v1h-1zM23 26h1v1h-1zM65 27h1v1h-1zM45 28h1v1h-1zM2 30h1v1h-1zM20 31h1v1h-1zM38 31h1v1h-1zM7 38h1v1h-1zM2 39h1v1h-1zM42 39h1v1h-1zM29 42h1v1h-1zM40 47h1v1h-1zM25 61h1v1h-1zM25 63h1v1h-1zM28 63h1v1h-1zM69 63h1v1h-1zM25 66h1v1h-1zM56 66h1v1h-1zM72 66h1v1h-1zM63 67h1v1h-1zM71 68h1v1h-1zM81 70h1v1h-1zM78 73h1v1h-1zM79 74h1v1h-1zM68 75h1v1h-1zM81 78h1v1h-1zM68 79h1v1h-1zM70 80h1v1h-1zM70 81h1v1h-1zM71 82h1v1h-1zM80 83h1v1h-1z"/>
<path fill="#a5cee3" d="M38 0h1v1h-1zM40 0h1v1h-1zM8 1h1v1h-1zM10 4h1v1h-1zM41 6h1v1h-1zM37 8h1v1h-1zM28 23h1v1h-1zM36 23h2v1h-2zM27 24h1v1h-1zM35 31h1v1h-1zM10 37h1v1h-1zM20 37h1v1h-1zM13 38h1v1h-1zM83 53h1v1h-1zM56 63h1v1h-1zM59 65h1v1h-1zM60 70h1v1h-1zM64 70h1v1h-1zM59 72h1v1h-1zM81 75h1v1h-1zM69 77h1v1h-1zM72 77h1v1h-1zM74 79h1v1h-1z"/>
<path fill="#a9d1e5" d="M4 0h1v1h-1zM22 0h1v1h-1zM24 0h1v1h-1zM12 5h1v1h-1zM18 9h1v1h-1zM16 11h1v1h-1zM24 11h1v1h-1zM9 12h1v1h-1zM11 16h1v1h-1zM20 17h1v1h-1zM15 18h1v1h-1zM37 20h1v1h-1zM11 23h1v1h-1zM35 25h1v1h-1zM14 28h1v1h-1zM33 29h1v1h-1zM23 30h1v1h-1zM1 32h1v1h-1zM38 32h1v1h-1zM8 37h1v1h-1zM46 40h1v1h-1zM55 47h1v1h-1zM79 50h1v1h-1zM25 62h1v1h-1zM57 65h1v1h-1zM65 69h1v1h-1zM15 79h1v1h-1zM53 81h1v1h-1zM77 81h1v1h-1z"/>
<path fill="#b1d5e7" d="M5 0h1v1h-1zM9 0h1v1h-1zM15 0h1v1h-1zM33 0h1v1h-1zM36 5h1v1h-1zM22 10h1v1h-1zM11 14h1v1h-1zM30 20h1v1h-1zM17 21h1v1h-1zM35 23h1v1h-1zM33 28h1v1h-1zM1 39h1v1h-1zM37 41h1v1h-1zM83 51h1v1h-1zM66 59h1v1h-1zM55 66h1v1h-1zM62 69h1v1h-1zM70 73h1v1h-1zM78 74h1v1h-1zM77 82h1v1h-1z"/>
<path fill="#b8d8e9" d="M17 0h1v1h-1zM40 1h2v1h-2zM33 11h1v1h-1zM15 20h1v1h-1zM17 20h1v1h-1zM14 27h1v1h-1zM35 29h1v1h-1zM1 30h1v1h-1zM25 33h1v1h-1zM10 34h2v1h-2zM6 37h1v1h-1zM45 48h1v1h-1zM81 48h1v1h-1zM81 50h1v1h-1zM82 51h1v1h-1zM54 57h1v1h-1zM52 58h1v1h-1zM73 70h1v1h-1zM76 72h1v1h-1zM52 79h1v1h-1zM56 79h1v1h-1zM52 81h1v1h-1zM74 83h1v1h-1z"/>
<path fill="#c0dceb" d="M39 0h1v1h-1zM8 11h1v1h-1zM18 18h1v1h-1zM20 20h1v1h-1zM31 20h1v1h-1zM36 33h1v1h-1zM41 35h1v1h-1zM41 38h1v1h-1zM54 51h1v1h-1zM59 59h1v1h-1zM68 64h1v1h-1zM70 65h1v1h-1zM77 80h1v1h-1z"/>
<path fill="#c7e0ed" d="M37 0h1v1h-1zM1 1h1v1h-1zM30 1h2v1h-2zM30 2h1v1h-1zM40 3h1v1h-1zM34 6h1v1h-1zM20 7h1v1h-1zM37 7h1v1h-1zM12 8h1v1h-1zM36 8h1v1h-1zM17 9h1v1h-1zM24 13h1v1h-1zM7 17h1v1h-1zM19 19h1v1h-1zM6 20h1v1h-1zM16 20h1v1h-1zM64 25h1v1h-1zM65 26h1v1h-1zM62 27h1v1h-1zM60 28h1v1h-1zM66 29h1v1h-1zM27 31h1v1h-1zM11 33h1v1h-1zM33 33h1v1h-1zM42 33h1v1h-1zM6 34h1v1h-1zM11 35h1v1h-1zM8 36h1v1h-1zM37 37h1v1h-1zM32 38h1v1h-1zM4 39h1v1h-1zM4 40h1v1h-1zM42 42h1v1h-1zM44 44h1v1h-1zM46 46h1v1h-1zM67 46h1v1h-1zM80 51h1v1h-1zM53 53h1v1h-1zM54 54h1v1h-1zM29 60h1v1h-1zM27 62h1v1h-1zM30 65h1v1h-1zM51 69h1v1h-1zM68 77h1v1h-1zM77 77h1v1h-1zM68 80h1v1h-1zM48 81h1v1h-1zM51 81h1v1h-1zM81 81h1v1h-1z"/>
<path fill="#cfe4ef" d="M44 1h1v1h-1zM2 2h1v1h-1zM37 2h1v1h-1zM17 17h1v1h-1zM21 21h1v1h-1zM25 25h1v1h-1zM25 28h1v1h-1zM28 33h1v1h-1zM40 40h1v1h-1zM41 41h1v1h-1zM44 47h1v1h-1zM49 49h1v1h-1zM58 53h1v1h-1zM56 56h1v1h-1zM68 57h1v1h-1zM58 58h1v1h-1zM57 68h1v1h-1zM57 73h1v1h-1zM76 76h1v1h-1z"/>
<path fill="#d4e6f1" d="M43 1h1v1h-1zM3 3h1v1h-1zM41 3h1v1h-1zM4 4h1v1h-1zM5 5h1v1h-1zM37 6h1v1h-1zM5 8h1v1h-1zM10 10h1v1h-1zM17 10h1v1h-1zM19 10h1v1h-1zM38 11h1v1h-1zM12 12h1v1h-1zM13 13h1v1h-1zM16 13h1v1h-1zM16 16h1v1h-1zM23 20h1v1h-1zM24 24h1v1h-1zM28 24h1v1h-1zM65 25h1v1h-1zM30 26h1v1h-1zM27 27h1v1h-1zM28 28h1v1h-1zM29 29h1v1h-1zM23 31h1v1h-1zM31 31h1v1h-1zM41 31h1v1h-1zM23 32h1v1h-1zM22 33h1v1h-1zM34 34h1v1h-1zM40 35h1v1h-1zM4 37h1v1h-1zM4 38h1v1h-1zM34 39h2v1h-2zM39 39h1v1h-1zM32 40h1v1h-1zM1 41h1v1h-1zM0 42h1v1h-1zM32 42h1v1h-1zM66 44h1v1h-1zM50 50h1v1h-1zM82 50h1v1h-1zM48 51h1v1h-1zM79 51h1v1h-1zM52 52h1v1h-1zM55 52h1v1h-1zM57 57h1v1h-1zM60 60h1v1h-1zM61 61h1v1h-1zM63 63h1v1h-1zM26 65h2v1h-2zM45 65h1v1h-1zM65 65h1v1h-1zM78 68h1v1h-1zM48 69h1v1h-1zM69 69h1v1h-1zM77 70h1v1h-1zM71 71h1v1h-1zM73 73h1v1h-1zM78 78h1v1h-1zM51 79h1v1h-1zM79 79h1v1h-1z"/>
<path fill="#d8e9f1" d="M8 0h1v1h-1zM36 3h1v1h-1zM8 5h1v1h-1zM6 6h1v1h-1zM8 8h1v1h-1zM14 14h1v1h-1zM12 20h1v1h-1zM26 26h1v1h-1zM43 43h1v1h-1zM48 48h1v1h-1zM51 51h1v1h-1zM58 54h1v1h-1zM62 62h1v1h-1zM64 64h1v1h-1zM67 67h1v1h-1zM68 68h1v1h-1zM70 70h1v1h-1zM72 72h1v1h-1zM74 74h1v1h-1zM75 75h1v1h-1zM80 80h1v1h-1zM83 83h1v1h-1z"/>
<path fill="#ddebf2" d="M0 0h1v1h-1zM3 1h1v1h-1zM41 2h1v1h-1zM39 4h1v1h-1zM7 5h1v1h-1zM10 5h1v1h-1zM36 6h1v1h-1zM7 7h1v1h-1zM9 7h1v1h-1zM9 9h1v1h-1zM19 9h1v1h-1zM12 10h1v1h-1zM11 11h1v1h-1zM18 12h1v1h-1zM22 12h1v1h-1zM16 14h1v1h-1zM15 15h1v1h-1zM17 15h1v1h-1zM34 18h1v1h-1zM11 20h1v1h-1zM20 23h1v1h-1zM23 23h1v1h-1zM31 29h1v1h-1zM30 30h1v1h-1zM26 31h1v1h-1zM33 31h1v1h-1zM32 32h1v1h-1zM34 32h1v1h-1zM10 35h1v1h-1zM21 36h1v1h-1zM36 36h1v1h-1zM38 36h1v1h-1zM5 37h1v1h-1zM7 37h1v1h-1zM38 38h1v1h-1zM1 40h1v1h-1zM31 41h1v1h-1zM45 45h1v1h-1zM65 45h2v1h-2zM47 47h1v1h-1zM67 47h1v1h-1zM83 48h1v1h-1zM51 49h1v1h-1zM83 50h1v1h-1zM53 51h1v1h-1zM55 53h1v1h-1zM56 54h1v1h-1zM61 59h1v1h-1zM64 60h1v1h-1zM66 63h2v1h-2zM60 64h1v1h-1zM46 66h1v1h-1zM62 66h1v1h-1zM68 66h1v1h-1zM45 67h1v1h-1zM48 67h1v1h-1zM56 70h1v1h-1zM79 71h1v1h-1zM71 74h1v1h-1zM78 76h1v1h-1zM70 78h1v1h-1zM52 80h1v1h-1zM50 81h1v1h-1zM69 81h1v1h-1zM82 82h1v1h-1z"/>
<path fill="#e1edf3" d="M41 0h1v1h-1zM44 0h1v1h-1zM22 22h1v1h-1zM35 35h1v1h-1zM55 55h1v1h-1zM66 66h1v1h-1z"/>
<path fill="#e6eff4" d="M5 3h1v1h-1zM39 3h1v1h-1zM6 4h1v1h-1zM8 6h1v1h-1zM35 6h1v1h-1zM38 6h1v1h-1zM10 8h1v1h-1zM11 9h1v1h-1zM35 11h1v1h-1zM39 11h1v1h-1zM18 13h1v1h-1zM11 17h1v1h-1zM22 17h1v1h-1zM11 18h1v1h-1zM22 18h1v1h-1zM24 18h1v1h-1zM11 19h1v1h-1zM34 20h1v1h-1zM19 22h1v1h-1zM33 22h1v1h-1zM25 23h1v1h-1zM18 24h1v1h-1zM27 25h1v1h-1zM25 29h1v1h-1zM45 30h1v1h-1zM24 32h1v1h-1zM18 34h1v1h-1zM40 34h1v1h-1zM10 36h1v1h-1zM40 37h1v1h-1zM34 40h1v1h-1zM2 41h1v1h-1zM43 41h1v1h-1zM1 43h1v1h-1zM29 45h2v1h-2zM48 46h1v1h-1zM51 48h1v1h-1zM56 51h1v1h-1zM54 52h1v1h-1zM73 55h1v1h-1zM69 56h1v1h-1zM71 57h1v1h-1zM29 62h1v1h-1zM64 62h1v1h-1zM66 64h1v1h-1zM28 65h1v1h-1zM62 65h1v1h-1zM29 66h1v1h-1zM58 67h1v1h-1zM57 71h1v1h-1zM55 73h1v1h-1zM75 73h1v1h-1zM76 74h1v1h-1zM71 79h1v1h-1zM81 79h1v1h-1zM49 81h1v1h-1zM50 82h1v1h-1zM50 83h1v1h-1z"/>
<path fill="#eaf1f5" d="M3 0h1v1h-1zM31 28h2v1h-2z"/>
<path fill="#eff3f5" d="M2 0h1v1h-1zM37 5h2v1h-2zM12 7h1v1h-1zM6 9h1v1h-1zM18 11h1v1h-1zM14 12h1v1h-1zM16 12h1v1h-1zM12 16h1v1h-1zM18 16h1v1h-1zM10 18h1v1h-1zM20 18h1v1h-1zM10 20h1v1h-1zM36 20h1v1h-1zM24 22h1v1h-1zM33 24h1v1h-1zM31 26h1v1h-1zM29 27h1v1h-1zM30 28h1v1h-1zM65 29h1v1h-1zM25 30h1v1h-1zM32 30h1v1h-1zM41 30h1v1h-1zM44 30h1v1h-1zM42 32h1v1h-1zM36 34h1v1h-1zM40 38h1v1h-1zM2 42h1v1h-1zM44 42h1v1h-1zM30 43h1v1h-1zM49 47h1v1h-1zM50 48h1v1h-1zM58 48h1v1h-1zM69 48h1v1h-1zM83 49h1v1h-1zM81 51h1v1h-1zM79 52h1v1h-1zM52 56h1v1h-1zM58 56h1v1h-1zM68 60h1v1h-1zM63 61h1v1h-1zM67 61h1v1h-1zM28 62h1v1h-1zM25 64h1v1h-1zM25 65h1v1h-1zM29 65h1v1h-1zM60 65h1v1h-1zM67 65h1v1h-1zM69 67h1v1h-1zM70 68h1v1h-1zM72 70h1v1h-1zM73 71h1v1h-1zM75 72h1v1h-1zM70 75h1v1h-1zM77 75h1v1h-1zM79 77h1v1h-1zM82 80h1v1h-1zM83 81h1v1h-1zM49 82h1v1h-1z"/>
<path fill="#f3f5f6" d="M29 33h1v1h-1zM77 72h1v1h-1z"/>
<path fill="#f7f6f6" d="M0 2h1v1h-1zM38 4h1v1h-1zM3 5h1v1h-1zM11 5h1v1h-1zM11 6h1v1h-1zM6 8h1v1h-1zM36 10h1v1h-1zM13 11h1v1h-1zM6 12h1v1h-1zM11 13h1v1h-1zM15 13h1v1h-1zM13 16h1v1h-1zM19 17h1v1h-1zM9 19h1v1h-1zM9 20h1v1h-1zM23 21h1v1h-1zM33 21h1v1h-1zM35 21h2v1h-2zM32 24h1v1h-1zM44 25h1v1h-1zM28 26h2v1h-2zM62 28h1v1h-1zM27 29h1v1h-1zM62 29h1v1h-1zM26 30h1v1h-1zM28 30h1v1h-1zM42 31h2v1h-2zM26 32h1v1h-1zM24 33h1v1h-1zM39 33h1v1h-1zM20 34h1v1h-1zM20 35h2v1h-2zM33 35h1v1h-1zM37 35h1v1h-1zM39 35h1v1h-1zM39 37h1v1h-1zM35 38h1v1h-1zM6 39h1v1h-1zM33 39h1v1h-1zM33 40h1v1h-1zM38 40h1v1h-1zM30 42h2v1h-2zM45 43h1v1h-1zM65 44h1v1h-1zM43 46h1v1h-1zM81 49h2v1h-2zM56 53h1v1h-1zM52 54h1v1h-1zM71 55h2v1h-2zM53 57h1v1h-1zM59 57h1v1h-1zM69 57h1v1h-1zM72 57h1v1h-1zM60 58h1v1h-1zM67 58h1v1h-1zM70 58h1v1h-1zM57 59h1v1h-1zM58 60h1v1h-1zM66 60h1v1h-1zM59 61h1v1h-1zM65 63h1v1h-1zM46 67h1v1h-1zM65 67h1v1h-1zM59 68h1v1h-1zM57 69h1v1h-1zM59 69h1v1h-1zM80 69h1v1h-1zM57 70h1v1h-1zM78 70h2v1h-2zM55 71h1v1h-1zM57 72h1v1h-1zM70 72h1v1h-1zM74 72h1v1h-1zM71 73h1v1h-1zM77 74h1v1h-1zM71 75h1v1h-1zM73 75h1v1h-1zM70 77h2v1h-2zM80 78h1v1h-1zM69 80h1v1h-1zM78 80h1v1h-1z"/>
<path fill="#f8f1ed" d="M4 2h1v1h-1zM1 3h1v1h-1zM38 3h1v1h-1zM2 4h1v1h-1zM39 5h1v1h-1zM10 7h1v1h-1zM20 9h1v1h-1zM7 10h2v1h-2zM5 11h1v1h-1zM15 12h1v1h-1zM17 13h1v1h-1zM12 15h2v1h-2zM13 17h1v1h-1zM15 17h1v1h-1zM17 19h1v1h-1zM21 19h1v1h-1zM34 19h1v1h-1zM22 20h1v1h-1zM19 21h1v1h-1zM34 22h1v1h-1zM21 23h1v1h-1zM31 23h1v1h-1zM34 23h1v1h-1zM26 24h1v1h-1zM29 25h1v1h-1zM26 29h1v1h-1zM43 29h1v1h-1zM60 29h1v1h-1zM35 33h1v1h-1zM40 33h1v1h-1zM19 34h1v1h-1zM38 34h1v1h-1zM6 35h1v1h-1zM35 37h1v1h-1zM3 38h1v1h-1zM5 38h1v1h-1zM32 39h1v1h-1zM41 39h1v1h-1zM2 40h1v1h-1zM42 40h1v1h-1zM3 41h1v1h-1zM46 44h1v1h-1zM43 45h1v1h-1zM47 45h1v1h-1zM44 46h1v1h-1zM46 48h1v1h-1zM67 48h1v1h-1zM48 50h1v1h-1zM52 50h1v1h-1zM80 52h1v1h-1zM57 53h1v1h-1zM52 55h1v1h-1zM57 55h1v1h-1zM70 56h1v1h-1zM72 56h1v1h-1zM79 56h1v1h-1zM56 58h1v1h-1zM67 59h1v1h-1zM69 59h1v1h-1zM62 60h1v1h-1zM60 62h1v1h-1zM65 62h1v1h-1zM61 63h1v1h-1zM44 65h1v1h-1zM44 66h1v1h-1zM59 67h1v1h-1zM61 68h1v1h-1zM71 69h1v1h-1zM78 69h1v1h-1zM76 70h1v1h-1zM75 71h2v1h-2zM55 72h1v1h-1zM72 75h1v1h-1zM70 76h1v1h-1zM74 76h1v1h-1zM68 78h2v1h-2zM70 79h1v1h-1zM80 82h1v1h-1zM48 83h1v1h-1z"/>
<path fill="#faeae1" d="M40 4h1v1h-1zM9 6h1v1h-1zM39 6h1v1h-1zM20 10h1v1h-1zM34 10h1v1h-1zM34 11h1v1h-1zM18 20h1v1h-1zM35 20h1v1h-1zM20 22h1v1h-1zM32 25h1v1h-1zM42 30h1v1h-1zM29 31h1v1h-1zM32 34h1v1h-1zM6 38h1v1h-1zM11 38h1v1h-1zM36 38h1v1h-1zM3 39h1v1h-1zM33 41h1v1h-1zM39 41h1v1h-1zM41 43h1v1h-1zM67 45h1v1h-1zM49 51h1v1h-1zM56 52h1v1h-1zM55 57h1v1h-1zM62 64h1v1h-1zM61 65h1v1h-1zM63 65h1v1h-1zM45 66h1v1h-1zM60 66h1v1h-1zM61 67h1v1h-1zM66 68h1v1h-1zM58 70h2v1h-2zM76 78h1v1h-1zM51 80h1v1h-1zM81 83h1v1h-1z"/>
<path fill="#fbe4d6" d="M43 0h1v1h-1zM42 2h1v1h-1zM4 6h1v1h-1zM10 6h1v1h-1zM12 6h1v1h-1zM7 9h1v1h-1zM18 10h1v1h-1zM9 11h1v1h-1zM10 12h1v1h-1zM12 14h1v1h-1zM16 18h1v1h-1zM35 22h1v1h-1zM31 24h1v1h-1zM23 25h1v1h-1zM30 25h1v1h-1zM32 26h1v1h-1zM25 27h1v1h-1zM26 28h1v1h-1zM30 32h1v1h-1zM41 33h1v1h-1zM21 34h1v1h-1zM23 34h1v1h-1zM38 35h1v1h-1zM34 38h1v1h-1zM3 40h1v1h-1zM40 42h1v1h-1zM42 44h1v1h-1zM47 49h1v1h-1zM54 56h1v1h-1zM70 59h1v1h-1zM68 61h1v1h-1zM61 66h1v1h-1zM58 68h1v1h-1zM67 69h1v1h-1zM68 70h1v1h-1zM69 71h1v1h-1zM56 72h1v1h-1zM70 74h1v1h-1zM72 74h1v1h-1zM78 75h1v1h-1zM74 77h1v1h-1zM77 79h1v1h-1z"/>
<path fill="#fdddcb" d="M40 2h1v1h-1zM6 10h1v1h-1zM35 10h1v1h-1zM7 11h1v1h-1zM19 11h2v1h-2zM7 12h1v1h-1zM10 17h1v1h-1zM13 18h1v1h-1zM34 21h1v1h-1zM18 22h1v1h-1zM44 29h1v1h-1zM27 30h1v1h-1zM43 30h1v1h-1zM44 31h1v1h-1zM21 33h1v1h-1zM39 34h1v1h-1zM22 35h1v1h-1zM6 36h1v1h-1zM5 39h1v1h-1zM11 39h1v1h-1zM30 41h1v1h-1zM1 42h1v1h-1zM0 43h1v1h-1zM29 43h1v1h-1zM29 44h1v1h-1zM66 46h1v1h-1zM69 51h1v1h-1zM81 52h1v1h-1zM71 56h1v1h-1zM70 57h1v1h-1zM68 59h1v1h-1zM65 61h2v1h-2zM61 64h1v1h-1zM63 66h1v1h-1zM47 67h1v1h-1zM60 68h1v1h-1zM56 69h1v1h-1zM58 69h1v1h-1zM74 70h2v1h-2zM51 82h1v1h-1zM49 83h1v1h-1z"/>
<path fill="#fcd3bc" d="M5 7h1v1h-1zM14 16h1v1h-1zM10 19h1v1h-1zM21 20h1v1h-1zM22 24h1v1h-1zM24 26h1v1h-1zM31 33h1v1h-1zM34 36h1v1h-1zM37 39h1v1h-1zM30 44h1v1h-1zM45 47h1v1h-1zM50 52h1v1h-1zM51 53h1v1h-1zM53 55h1v1h-1zM64 66h1v1h-1zM75 77h1v1h-1zM79 81h1v1h-1z"/>
<path fill="#f9c6ac" d="M17 11h1v1h-1zM12 18h1v1h-1zM39 32h1v1h-1zM22 34h1v1h-1zM37 36h1v1h-1zM31 43h1v1h-1zM46 43h1v1h-1zM51 50h1v1h-1zM48 58h1v1h-1zM68 58h1v1h-1zM65 60h1v1h-1zM64 61h1v1h-1zM66 62h1v1h-1zM77 71h2v1h-2zM71 78h1v1h-1zM75 78h1v1h-1zM69 79h1v1h-1z"/>
<path fill="#f7b99c" d="M56 55h1v1h-1zM66 65h1v1h-1zM73 72h1v1h-1zM77 76h1v1h-1z"/>
<path fill="#f6af8e" d="M20 36h1v1h-1zM50 49h1v1h-1zM54 53h1v1h-1zM60 59h1v1h-1zM76 75h1v1h-1z"/>
<path fill="#f2a17f" d="M42 0h1v1h-1zM42 1h1v1h-1zM11 7h1v1h-1zM9 8h1v1h-1zM10 9h1v1h-1zM6 11h1v1h-1zM14 13h1v1h-1zM16 15h1v1h-1zM19 18h1v1h-1zM22 19h1v1h-1zM32 23h2v1h-2zM31 25h1v1h-1zM30 27h1v1h-1zM45 29h1v1h-1zM24 31h2v1h-2zM25 32h1v1h-1zM40 32h2v1h-2zM23 33h1v1h-1zM35 40h1v1h-1zM32 41h1v1h-1zM31 44h1v1h-1zM45 44h1v1h-1zM53 52h1v1h-1zM51 56h1v1h-1zM53 56h1v1h-1zM67 60h1v1h-1zM60 67h1v1h-1zM79 69h1v1h-1zM81 69h1v1h-1zM74 71h1v1h-1zM71 76h1v1h-1zM83 82h1v1h-1z"/>
<path fill="#eb9172" d="M17 16h1v1h-1zM22 21h1v1h-1zM30 29h1v1h-1zM36 35h1v1h-1zM38 37h1v1h-1zM74 73h1v1h-1zM78 77h1v1h-1zM80 79h1v1h-1z"/>
<path fill="#e48066" d="M12 11h1v1h-1zM28 27h1v1h-1zM35 34h1v1h-1zM42 41h1v1h-1zM43 42h1v1h-1zM46 45h1v1h-1zM63 62h1v1h-1zM64 63h1v1h-1zM72 71h1v1h-1z"/>
<path fill="#dd7059" d="M44 43h1v1h-1zM47 46h1v1h-1zM48 47h1v1h-1zM49 48h1v1h-1zM55 54h1v1h-1zM69 58h1v1h-1zM56 71h1v1h-1z"/>
<path fill="#d6604d" d="M2 1h1v1h-1zM4 3h1v1h-1zM5 4h1v1h-1zM6 5h1v1h-1zM8 7h1v1h-1zM17 12h1v1h-1zM12 17h1v1h-1zM18 17h1v1h-1zM27 26h1v1h-1zM29 28h1v1h-1zM31 30h1v1h-1zM33 32h1v1h-1zM34 33h1v1h-1zM41 40h1v1h-1zM57 56h1v1h-1zM58 57h1v1h-1zM59 58h1v1h-1zM62 61h1v1h-1zM75 74h1v1h-1zM81 80h1v1h-1z"/>
<path fill="#ce4f45" d="M7 6h1v1h-1zM11 10h1v1h-1zM13 12h1v1h-1zM20 19h1v1h-1zM32 31h1v1h-1zM65 64h1v1h-1zM69 68h1v1h-1zM71 70h1v1h-1zM79 78h1v1h-1zM82 81h1v1h-1z"/>
<path fill="#c6413e" d="M15 14h1v1h-1zM23 22h1v1h-1zM24 23h1v1h-1zM26 25h1v1h-1z"/>
<path fill="#be3036" d="M25 24h1v1h-1zM39 38h1v1h-1zM40 39h1v1h-1zM52 51h1v1h-1zM61 60h1v1h-1zM67 66h1v1h-1zM68 67h1v1h-1zM70 69h1v1h-1z"/>
<path fill="#b61f2e" d="M1 0h1v1h-1z"/>
<path fill="#a81529" d="M3 2h1v1h-1z"/>
<path fill="#67001f" d="M0 1h1v1h-1zM1 2h1v1h-1zM2 3h1v1h-1zM3 4h1v1h-1zM4 5h1v1h-1zM5 6h1v1h-1zM6 7h1v1h-1zM7 8h1v1h-1zM8 9h1v1h-1zM9 10h1v1h-1zM10 11h1v1h-1zM11 12h1v1h-1zM12 13h1v1h-1zM13 14h1v1h-1zM14 15h1v1h-1zM15 16h1v1h-1zM16 17h1v1h-1zM17 18h1v1h-1zM18 19h1v1h-1zM19 20h1v1h-1zM20 21h1v1h-1zM21 22h1v1h-1zM22 23h1v1h-1zM23 24h1v1h-1zM24 25h1v1h-1zM25 26h1v1h-1zM26 27h1v1h-1zM27 28h1v1h-1zM28 29h1v1h-1zM29 30h1v1h-1zM30 31h1v1h-1zM31 32h1v1h-1zM32 33h1v1h-1zM33 34h1v1h-1zM34 35h1v1h-1zM35 36h1v1h-1zM36 37h1v1h-1zM37 38h1v1h-1zM38 39h1v1h-1zM39 40h1v1h-1zM40 41h1v1h-1zM41 42h1v1h-1zM42 43h1v1h-1zM43 44h1v1h-1zM44 45h1v1h-1zM45 46h1v1h-1zM46 47h1v1h-1zM47 48h1v1h-1zM48 49h1v1h-1zM49 50h1v1h-1zM50 51h1v1h-1zM51 52h1v1h-1zM52 53h1v1h-1zM53 54h1v1h-1zM54 55h1v1h-1zM55 56h1v1h-1zM56 57h1v1h-1zM57 58h1v1h-1zM58 59h1v1h-1zM59 60h1v1h-1zM60 61h1v1h-1zM61 62h1v1h-1zM62 63h1v1h-1zM63 64h1v1h-1zM64 65h1v1h-1zM65 66h1v1h-1zM66 67h1v1h-1zM67 68h1v1h-1zM68 69h1v1h-1zM69 70h1v1h-1zM70 71h1v1h-1zM71 72h1v1h-1zM72 73h1v1h-1zM73 74h1v1h-1zM74 75h1v1h-1zM75 76h1v1h-1zM76 77h1v1h-1zM77 78h1v1h-1zM78 79h1v1h-1zM79 80h1v1h-1zM80 81h1v1h-1zM81 82h1v1h-1zM82 83h1v1h-1z"/>
</g>
<g clip-path="url(#axclip)"><path d="M200.0 108.0 L204.5 112.7 L209.0 117.3 L213.4 121.9 L217.9 126.6 L222.4 131.2 L226.9 135.8 L231.4 140.5 L235.8 145.1 L240.3 149.7 L244.8 154.4 L249.3 159.0 L258.3 159.0 L267.2 159.0 L271.7 154.4 L276.2 149.7 L280.7 154.4 L285.2 159.0 L289.6 163.6 L289.6 172.9 L285.2 177.6 L276.2 177.6 L271.7 182.2 L276.2 186.8 L280.7 191.5 L285.2 196.1 L289.6 200.7 L294.1 205.4 L298.6 210.0 L303.1 214.6 L312.0 214.6 L321.0 214.6 L325.5 210.0 L325.5 200.7 L330.0 196.1 L338.9 196.1 L343.4 191.5 L347.9 186.8 L356.9 186.8 L361.3 191.5 L361.3 200.7 L361.3 210.0 L356.9 214.6 L347.9 214.6 L343.4 219.3 L343.4 228.5 L338.9 233.2 L330.0 233.2 L325.5 237.8 L330.0 242.4 L334.5 247.1 L338.9 251.7 L343.4 256.3 L347.9 261.0 L352.4 265.6 L356.9 270.2 L361.3 274.9 L365.8 279.5 L370.3 274.9 L374.8 270.2 L379.3 274.9 L379.3 284.1 L379.3 293.4 L383.8 298.1 L388.2 302.7 L392.7 307.3 L397.2 312.0 L401.7 316.6 L406.2 321.2 L410.7 325.9 L415.1 330.5 L419.6 335.1 L424.1 339.8 L428.6 344.4 L433.1 339.8 L437.5 335.1 L446.5 335.1 L451.0 330.5 L451.0 321.2 L455.5 316.6 L464.4 316.6 L468.9 312.0 L468.9 302.7 L473.4 298.1 L477.9 293.4 L477.9 284.1 L477.9 274.9 L482.4 270.2 L486.9 274.9 L486.9 284.1 L491.3 288.8 L500.3 288.8 L504.8 293.4 L504.8 302.7 L500.3 307.3 L495.8 312.0 L491.3 316.6 L486.9 321.2 L482.4 325.9 L477.9 330.5 L473.4 335.1 L468.9 339.8 L468.9 349.0 L464.4 353.7 L455.5 353.7 L451.0 358.3 L451.0 367.6 L455.5 372.2 L460.0 376.8 L464.4 381.5 L468.9 386.1 L473.4 390.7 L477.9 395.4 L482.4 400.0 L486.9 404.6 L491.3 409.3 L495.8 413.9 L500.3 418.5 L504.8 423.2 L509.3 427.8 L513.7 423.2 L518.2 418.5 L522.7 413.9 L522.7 404.6 L527.2 400.0 L536.2 400.0 L540.6 395.4 L540.6 386.1 L545.1 381.5 L554.1 381.5 L558.6 376.8 L563.0 372.2 L572.0 372.2 L581.0 372.2 L585.5 376.8 L585.5 386.1 L581.0 390.7 L576.5 395.4 L572.0 400.0 L563.0 400.0 L558.6 404.6 L554.1 409.3 L549.6 413.9 L545.1 418.5 L540.6 423.2 L540.6 432.5 L536.2 437.1 L527.2 437.1 L522.7 441.7 L527.2 446.4 L531.7 451.0 L536.2 455.6 L540.6 460.3 L545.1 464.9 L549.6 469.5 L554.1 474.2 L558.6 478.8 L563.0 483.4 L567.5 488.1 L572.0 492.7 L576.5 497.3 L581.0 502.0 L589.9 502.0 L594.4 506.6 L594.4 515.9 L598.9 520.5 L603.4 525.1 L607.9 529.8 L612.3 534.4 L616.8 539.0 L621.3 543.7 L625.8 548.3 L634.8 548.3 L639.2 552.9 L639.2 562.2 L643.7 566.9 L648.2 571.5 L652.7 576.1 L657.2 580.8 L661.7 585.4 L670.6 585.4 L675.1 580.8 L679.6 576.1 L684.1 580.8 L684.1 590.0 L688.5 594.7 L693.0 599.3 L688.5 603.9 L684.1 608.6 L688.5 613.2 L693.0 617.8 L697.5 622.5 L702.0 627.1 L706.5 631.7 L711.0 636.4 L715.4 641.0 L719.9 645.6 L724.4 650.3 L728.9 654.9 L733.4 659.5 L737.9 664.2 L742.3 668.8 L746.8 664.2 L751.3 659.5 L760.3 659.5 L769.2 659.5 L773.7 654.9 L773.7 645.6 L778.2 641.0 L787.2 641.0 L791.6 636.4 L791.6 627.1 L796.1 622.5 L805.1 622.5 L809.6 617.8 L814.0 613.2 L823.0 613.2 L832.0 613.2 L836.5 617.8 L832.0 622.5 L827.5 627.1 L827.5 636.4 L823.0 641.0 L814.0 641.0 L809.6 645.6 L809.6 654.9 L805.1 659.5 L796.1 659.5 L791.6 664.2 L791.6 673.4 L787.2 678.1 L778.2 678.1 L773.7 682.7 L773.7 692.0 L773.7 701.3 L778.2 705.9 L782.7 710.5 L787.2 715.2 L791.6 719.8 L796.1 724.4 L800.6 729.1 L805.1 733.7 L809.6 738.3 L814.0 743.0 L818.5 747.6 L823.0 752.2 L827.5 756.9 L832.0 761.5 L836.5 756.9 L840.9 752.2 L849.9 752.2 L858.9 752.2 L867.8 752.2 L872.3 747.6 L872.3 738.3 L876.8 733.7 L881.3 738.3 L885.8 743.0 L894.7 743.0 L903.7 743.0 L908.2 747.6 L903.7 752.2 L894.7 752.2 L890.2 756.9 L890.2 766.1 L885.8 770.8 L876.8 770.8 L867.8 770.8 L858.9 770.8 L854.4 775.4 L854.4 784.7 L858.9 789.3 L867.8 789.3 L872.3 793.9 L876.8 798.6 L881.3 803.2 L881.3 812.5 L885.8 817.1 L890.2 821.8 L894.7 826.4 L899.2 831.0 L903.7 835.7 L908.2 840.3 L912.7 844.9 L917.1 849.6 L921.6 854.2 M567.5 108.0 L567.5 117.3 L563.0 121.9 L558.6 126.6 L554.1 131.2 L549.6 135.8 L545.1 140.5 L540.6 145.1 L536.2 149.7 L531.7 154.4 L531.7 163.6 L527.2 168.3 L518.2 168.3 L513.7 172.9 L509.3 177.6 L504.8 172.9 L500.3 168.3 L491.3 168.3 L482.4 168.3 L477.9 163.6 L482.4 159.0 L491.3 159.0 L500.3 159.0 L504.8 154.4 L509.3 149.7 L513.7 145.1 L513.7 135.8 L518.2 131.2 L527.2 131.2 L531.7 126.6 L531.7 117.3 L536.2 112.7 L545.1 112.7 L549.6 108.0 M495.8 182.2 L500.3 177.6 L504.8 182.2 L500.3 186.8 Z M477.9 200.7 L482.4 196.1 L491.3 196.1 L500.3 196.1 L504.8 200.7 L500.3 205.4 L495.8 210.0 L491.3 214.6 L482.4 214.6 L477.9 210.0 Z M513.7 210.0 L518.2 205.4 L527.2 205.4 L531.7 210.0 L527.2 214.6 L518.2 214.6 Z M728.9 367.6 L733.4 362.9 L737.9 367.6 L737.9 376.8 L733.4 381.5 L728.9 376.8 Z M755.8 376.8 L760.3 372.2 L764.7 376.8 L760.3 381.5 Z M262.7 423.2 L267.2 418.5 L276.2 418.5 L280.7 423.2 L280.7 432.5 L276.2 437.1 L271.7 441.7 L267.2 446.4 L262.7 441.7 L262.7 432.5 Z M244.8 441.7 L249.3 437.1 L253.8 441.7 L249.3 446.4 Z M271.7 460.3 L276.2 455.6 L280.7 460.3 L280.7 469.5 L276.2 474.2 L271.7 469.5 Z M177.6 492.7 L182.1 488.1 L182.1 478.8 L186.5 474.2 L195.5 474.2 L200.0 469.5 L200.0 460.3 L204.5 455.6 L213.4 455.6 L217.9 451.0 L222.4 446.4 L226.9 441.7 L226.9 432.5 L226.9 423.2 L231.4 418.5 L235.8 423.2 L235.8 432.5 L235.8 441.7 L240.3 446.4 L244.8 451.0 L240.3 455.6 L235.8 460.3 L235.8 469.5 L231.4 474.2 L222.4 474.2 L217.9 478.8 L213.4 483.4 L209.0 488.1 L204.5 492.7 L200.0 497.3 L195.5 502.0 L191.0 506.6 L186.5 511.2 L177.6 511.2 M755.8 515.9 L760.3 511.2 L769.2 511.2 L773.7 515.9 L778.2 520.5 L782.7 525.1 L782.7 534.4 L782.7 543.7 L782.7 552.9 L778.2 557.6 L773.7 552.9 L773.7 543.7 L769.2 539.0 L764.7 534.4 L760.3 529.8 L755.8 525.1 Z M693.0 552.9 L697.5 548.3 L702.0 552.9 L697.5 557.6 Z M791.6 552.9 L796.1 548.3 L800.6 552.9 L796.1 557.6 Z M791.6 580.8 L796.1 576.1 L800.6 580.8 L796.1 585.4 Z M921.6 576.1 L917.1 580.8 L912.7 585.4 L908.2 590.0 L903.7 594.7 L894.7 594.7 L885.8 594.7 L881.3 590.0 L881.3 580.8 L885.8 576.1 L894.7 576.1 L899.2 571.5 L899.2 562.2 L899.2 552.9 L903.7 548.3 L908.2 552.9 L912.7 557.6 L917.1 552.9 L921.6 548.3 M881.3 627.1 L885.8 622.5 L890.2 627.1 L885.8 631.7 Z M603.4 645.6 L607.9 641.0 L612.3 645.6 L607.9 650.3 Z M424.1 682.7 L428.6 678.1 L437.5 678.1 L442.0 682.7 L437.5 687.4 L428.6 687.4 Z M433.1 710.5 L437.5 705.9 L442.0 710.5 L437.5 715.2 Z M567.5 710.5 L572.0 705.9 L581.0 705.9 L585.5 710.5 L589.9 715.2 L594.4 719.8 L598.9 724.4 L607.9 724.4 L612.3 729.1 L607.9 733.7 L598.9 733.7 L589.9 733.7 L581.0 733.7 L576.5 729.1 L572.0 724.4 L567.5 719.8 Z M603.4 747.6 L607.9 743.0 L612.3 747.6 L607.9 752.2 Z M630.3 747.6 L634.8 743.0 L639.2 747.6 L634.8 752.2 Z M675.1 840.3 L679.6 835.7 L684.1 840.3 L679.6 844.9 Z M603.4 877.4 L607.9 872.7 L612.3 868.1 L607.9 863.5 L603.4 858.8 L607.9 854.2 L616.8 854.2 L625.8 854.2 L630.3 849.6 L630.3 840.3 L634.8 835.7 L643.7 835.7 L648.2 840.3 L648.2 849.6 L648.2 858.8 L643.7 863.5 L639.2 868.1 L634.8 872.7 L630.3 877.4 M899.2 877.4 L894.7 872.7 L890.2 868.1 L885.8 863.5 L881.3 858.8 L876.8 854.2 L872.3 849.6 L867.8 844.9 L863.3 840.3 L858.9 835.7 L849.9 835.7 L845.4 831.0 L840.9 826.4 L836.5 821.8 L836.5 812.5 L832.0 807.8 L823.0 807.8 L818.5 812.5 L818.5 821.8 L818.5 831.0 L818.5 840.3 L814.0 844.9 L805.1 844.9 L800.6 849.6 L800.6 858.8 L796.1 863.5 L791.6 858.8 L791.6 849.6 L791.6 840.3 L787.2 835.7 L782.7 831.0 L787.2 826.4 L796.1 826.4 L800.6 821.8 L800.6 812.5 L800.6 803.2 L800.6 793.9 L805.1 789.3 L809.6 784.7 L805.1 780.0 L800.6 775.4 L796.1 770.8 L791.6 766.1 L787.2 761.5 L782.7 756.9 L778.2 752.2 L773.7 747.6 L769.2 743.0 L764.7 738.3 L760.3 733.7 L755.8 729.1 L751.3 724.4 L742.3 724.4 L733.4 724.4 L728.9 729.1 L728.9 738.3 L724.4 743.0 L715.4 743.0 L711.0 747.6 L711.0 756.9 L706.5 761.5 L697.5 761.5 L693.0 766.1 L693.0 775.4 L688.5 780.0 L679.6 780.0 L675.1 784.7 L670.6 789.3 L666.1 784.7 L666.1 775.4 L666.1 766.1 L670.6 761.5 L675.1 756.9 L675.1 747.6 L679.6 743.0 L688.5 743.0 L693.0 738.3 L693.0 729.1 L697.5 724.4 L706.5 724.4 L711.0 719.8 L711.0 710.5 L711.0 701.3 L715.4 696.6 L719.9 692.0 L715.4 687.4 L711.0 682.7 L706.5 678.1 L702.0 673.4 L697.5 668.8 L693.0 664.2 L688.5 659.5 L684.1 654.9 L679.6 650.3 L675.1 645.6 L670.6 641.0 L666.1 636.4 L661.7 631.7 L657.2 636.4 L652.7 641.0 L648.2 636.4 L643.7 631.7 L634.8 631.7 L630.3 627.1 L634.8 622.5 L639.2 617.8 L639.2 608.6 L634.8 603.9 L630.3 599.3 L625.8 594.7 L621.3 590.0 L616.8 585.4 L607.9 585.4 L603.4 580.8 L603.4 571.5 L598.9 566.9 L594.4 562.2 L589.9 557.6 L585.5 552.9 L581.0 548.3 L576.5 543.7 L572.0 539.0 L563.0 539.0 L558.6 534.4 L558.6 525.1 L554.1 520.5 L549.6 515.9 L545.1 511.2 L540.6 506.6 L536.2 502.0 L531.7 497.3 L527.2 492.7 L522.7 488.1 L518.2 483.4 L513.7 478.8 L509.3 474.2 L504.8 469.5 L500.3 464.9 L495.8 469.5 L495.8 478.8 L491.3 483.4 L482.4 483.4 L477.9 488.1 L473.4 492.7 L468.9 497.3 L464.4 502.0 L460.0 506.6 L460.0 515.9 L455.5 520.5 L451.0 525.1 L446.5 529.8 L437.5 529.8 L433.1 525.1 L433.1 515.9 L433.1 506.6 L437.5 502.0 L442.0 497.3 L442.0 488.1 L446.5 483.4 L455.5 483.4 L460.0 478.8 L460.0 469.5 L464.4 464.9 L473.4 464.9 L477.9 460.3 L482.4 455.6 L486.9 451.0 L482.4 446.4 L477.9 441.7 L473.4 437.1 L468.9 432.5 L464.4 427.8 L460.0 423.2 L455.5 418.5 L451.0 413.9 L446.5 409.3 L442.0 404.6 L437.5 400.0 L433.1 395.4 L428.6 390.7 L419.6 390.7 L415.1 395.4 L415.1 404.6 L410.7 409.3 L401.7 409.3 L397.2 413.9 L392.7 418.5 L388.2 423.2 L383.8 427.8 L379.3 432.5 L374.8 437.1 L370.3 441.7 L365.8 446.4 L356.9 446.4 L352.4 441.7 L352.4 432.5 L347.9 427.8 L338.9 427.8 L334.5 423.2 L338.9 418.5 L347.9 418.5 L356.9 418.5 L361.3 413.9 L365.8 409.3 L374.8 409.3 L379.3 404.6 L379.3 395.4 L383.8 390.7 L392.7 390.7 L397.2 386.1 L397.2 376.8 L401.7 372.2 L406.2 367.6 L401.7 362.9 L397.2 358.3 L392.7 353.7 L388.2 349.0 L383.8 344.4 L379.3 339.8 L374.8 335.1 L370.3 330.5 L365.8 325.9 L361.3 321.2 L356.9 316.6 L347.9 316.6 L338.9 316.6 L334.5 312.0 L338.9 307.3 L343.4 302.7 L338.9 298.1 L334.5 293.4 L330.0 288.8 L325.5 284.1 L321.0 279.5 L316.5 274.9 L312.0 270.2 L307.6 265.6 L303.1 261.0 L298.6 265.6 L298.6 274.9 L294.1 279.5 L285.2 279.5 L280.7 284.1 L280.7 293.4 L276.2 298.1 L267.2 298.1 L258.3 298.1 L253.8 293.4 L253.8 284.1 L258.3 279.5 L262.7 274.9 L262.7 265.6 L267.2 261.0 L276.2 261.0 L280.7 256.3 L280.7 247.1 L280.7 237.8 L276.2 233.2 L271.7 228.5 L267.2 223.9 L262.7 219.3 L258.3 214.6 L253.8 210.0 L249.3 205.4 L244.8 210.0 L244.8 219.3 L240.3 223.9 L231.4 223.9 L226.9 219.3 L222.4 214.6 L217.9 210.0 L222.4 205.4 L226.9 200.7 L226.9 191.5 L226.9 182.2 L222.4 177.6 L217.9 172.9 L213.4 168.3 L209.0 163.6 L204.5 159.0 L200.0 154.4 L195.5 149.7 L191.0 145.1 L186.5 140.5 L182.1 135.8 L177.6 131.2" fill="none" stroke="#00ff00" stroke-width="8.33" stroke-linejoin="round" stroke-linecap="butt"/><circle cx="500.3" cy="182.2" r="1.0" fill="#c7e0ed" fill-opacity="0.75"/><circle cx="760.3" cy="376.8" r="1.0" fill="#eff3f5" fill-opacity="0.75"/><circle cx="249.3" cy="441.7" r="1.0" fill="#c7e0ed" fill-opacity="0.75"/><circle cx="697.5" cy="552.9" r="1.0" fill="#eff3f5" fill-opacity="0.75"/><circle cx="796.1" cy="552.9" r="1.0" fill="#eff3f5" fill-opacity="0.75"/><circle cx="796.1" cy="580.8" r="1.0" fill="#fdddcb" fill-opacity="0.75"/><circle cx="885.8" cy="627.1" r="1.0" fill="#f8f1ed" fill-opacity="0.75"/><circle cx="607.9" cy="645.6" r="1.0" fill="#f9c6ac" fill-opacity="0.75"/><circle cx="437.5" cy="710.5" r="1.0" fill="#eff3f5" fill-opacity="0.75"/><circle cx="607.9" cy="747.6" r="1.0" fill="#d4e6f1" fill-opacity="0.75"/><circle cx="634.8" cy="747.6" r="1.0" fill="#c7e0ed" fill-opacity="0.75"/><circle cx="679.6" cy="840.3" r="1.0" fill="#b8d8e9" fill-opacity="0.75"/></g>
<rect x="173.1" y="103.4" width="753.0" height="778.6" fill="none" stroke="#000" stroke-width="1.67"/>
<rect x="958.9" y="114.0" width="38.4" height="757.5" fill="url(#cb)" stroke="#000" stroke-width="1.67"/>
<g stroke="#000" stroke-width="1.67"><line x1="165.8" x2="173.1" y1="108.03" y2="108.03"/><line x1="165.8" x2="173.1" y1="293.42" y2="293.42"/><line x1="165.8" x2="173.1" y1="478.80" y2="478.80"/><line x1="165.8" x2="173.1" y1="664.18" y2="664.18"/><line x1="165.8" x2="173.1" y1="849.56" y2="849.56"/><line x1="177.58" x2="177.58" y1="882.0" y2="889.3"/><line x1="401.69" x2="401.69" y1="882.0" y2="889.3"/><line x1="625.80" x2="625.80" y1="882.0" y2="889.3"/><line x1="849.90" x2="849.90" y1="882.0" y2="889.3"/><line x1="997.3" x2="1004.6" y1="146.50" y2="146.50"/><line x1="997.3" x2="1004.6" y1="319.60" y2="319.60"/><line x1="997.3" x2="1004.6" y1="492.70" y2="492.70"/><line x1="997.3" x2="1004.6" y1="665.80" y2="665.80"/><line x1="997.3" x2="1004.6" y1="838.90" y2="838.90"/></g>
<rect x="430.6" y="133.2" width="466.6" height="175.6" rx="6.5" ry="6.5" fill="#ffffff" fill-opacity="0.8" stroke="#cccccc" stroke-opacity="0.8" stroke-width="2.08"/>
<line x1="448.9" x2="574.1" y1="223" y2="223" stroke="#00ff00" stroke-width="8.33"/>
<text x="194.5" y="78.4" font-size="83.4" textLength="708.0" lengthAdjust="spacingAndGlyphs">Block 32, Head 4</text>
<text x="158.0" y="128.3" font-size="56.0" text-anchor="end" textLength="33.7" lengthAdjust="spacingAndGlyphs">0</text>
<text x="158.0" y="313.7" font-size="56.0" text-anchor="end" textLength="67.4" lengthAdjust="spacingAndGlyphs">20</text>
<text x="158.0" y="499.1" font-size="56.0" text-anchor="end" textLength="67.4" lengthAdjust="spacingAndGlyphs">40</text>
<text x="158.0" y="684.5" font-size="56.0" text-anchor="end" textLength="67.4" lengthAdjust="spacingAndGlyphs">60</text>
<text x="158.0" y="869.9" font-size="56.0" text-anchor="end" textLength="67.4" lengthAdjust="spacingAndGlyphs">80</text>
<text x="178.6" y="938.4" font-size="55.5" text-anchor="middle" textLength="33.8" lengthAdjust="spacingAndGlyphs">0</text>
<text x="401.2" y="938.4" font-size="55.5" text-anchor="middle" textLength="67.6" lengthAdjust="spacingAndGlyphs">25</text>
<text x="625.3" y="938.4" font-size="55.5" text-anchor="middle" textLength="67.6" lengthAdjust="spacingAndGlyphs">50</text>
<text x="849.4" y="938.4" font-size="55.5" text-anchor="middle" textLength="67.6" lengthAdjust="spacingAndGlyphs">75</text>
<text x="550.2" y="1008.9" font-size="67.5" text-anchor="middle" textLength="263.5" lengthAdjust="spacingAndGlyphs">Residue</text>
<text x="72.5" y="501.3" font-size="67.5" text-anchor="middle" textLength="259.0" lengthAdjust="spacingAndGlyphs" transform="rotate(-90 72.5 501.3)">Residue</text>
<text x="1012.3" y="163.8" font-size="48.3" textLength="56.4" lengthAdjust="spacingAndGlyphs">20</text>
<text x="1012.3" y="336.9" font-size="48.3" textLength="56.4" lengthAdjust="spacingAndGlyphs">10</text>
<text x="1012.3" y="510.0" font-size="48.3" textLength="28.2" lengthAdjust="spacingAndGlyphs">0</text>
<text x="1014.5" y="683.1" font-size="48.3" textLength="93.9" lengthAdjust="spacingAndGlyphs">−10</text>
<text x="1014.5" y="856.2" font-size="48.3" textLength="93.9" lengthAdjust="spacingAndGlyphs">−20</text>
<text x="1161.3" y="495.5" font-size="60.5" text-anchor="middle" textLength="411.0" lengthAdjust="spacingAndGlyphs" transform="rotate(-90 1161.3 495.5)">Attention Bias</text>
<text x="615.2" y="201.3" font-size="63.5" textLength="258.5" lengthAdjust="spacingAndGlyphs">Contacts</text>
<text x="616.0" y="274.5" font-size="61.5" textLength="227.0" lengthAdjust="spacingAndGlyphs">(&lt;8.0Å)</text>
</svg>
</body></html>
